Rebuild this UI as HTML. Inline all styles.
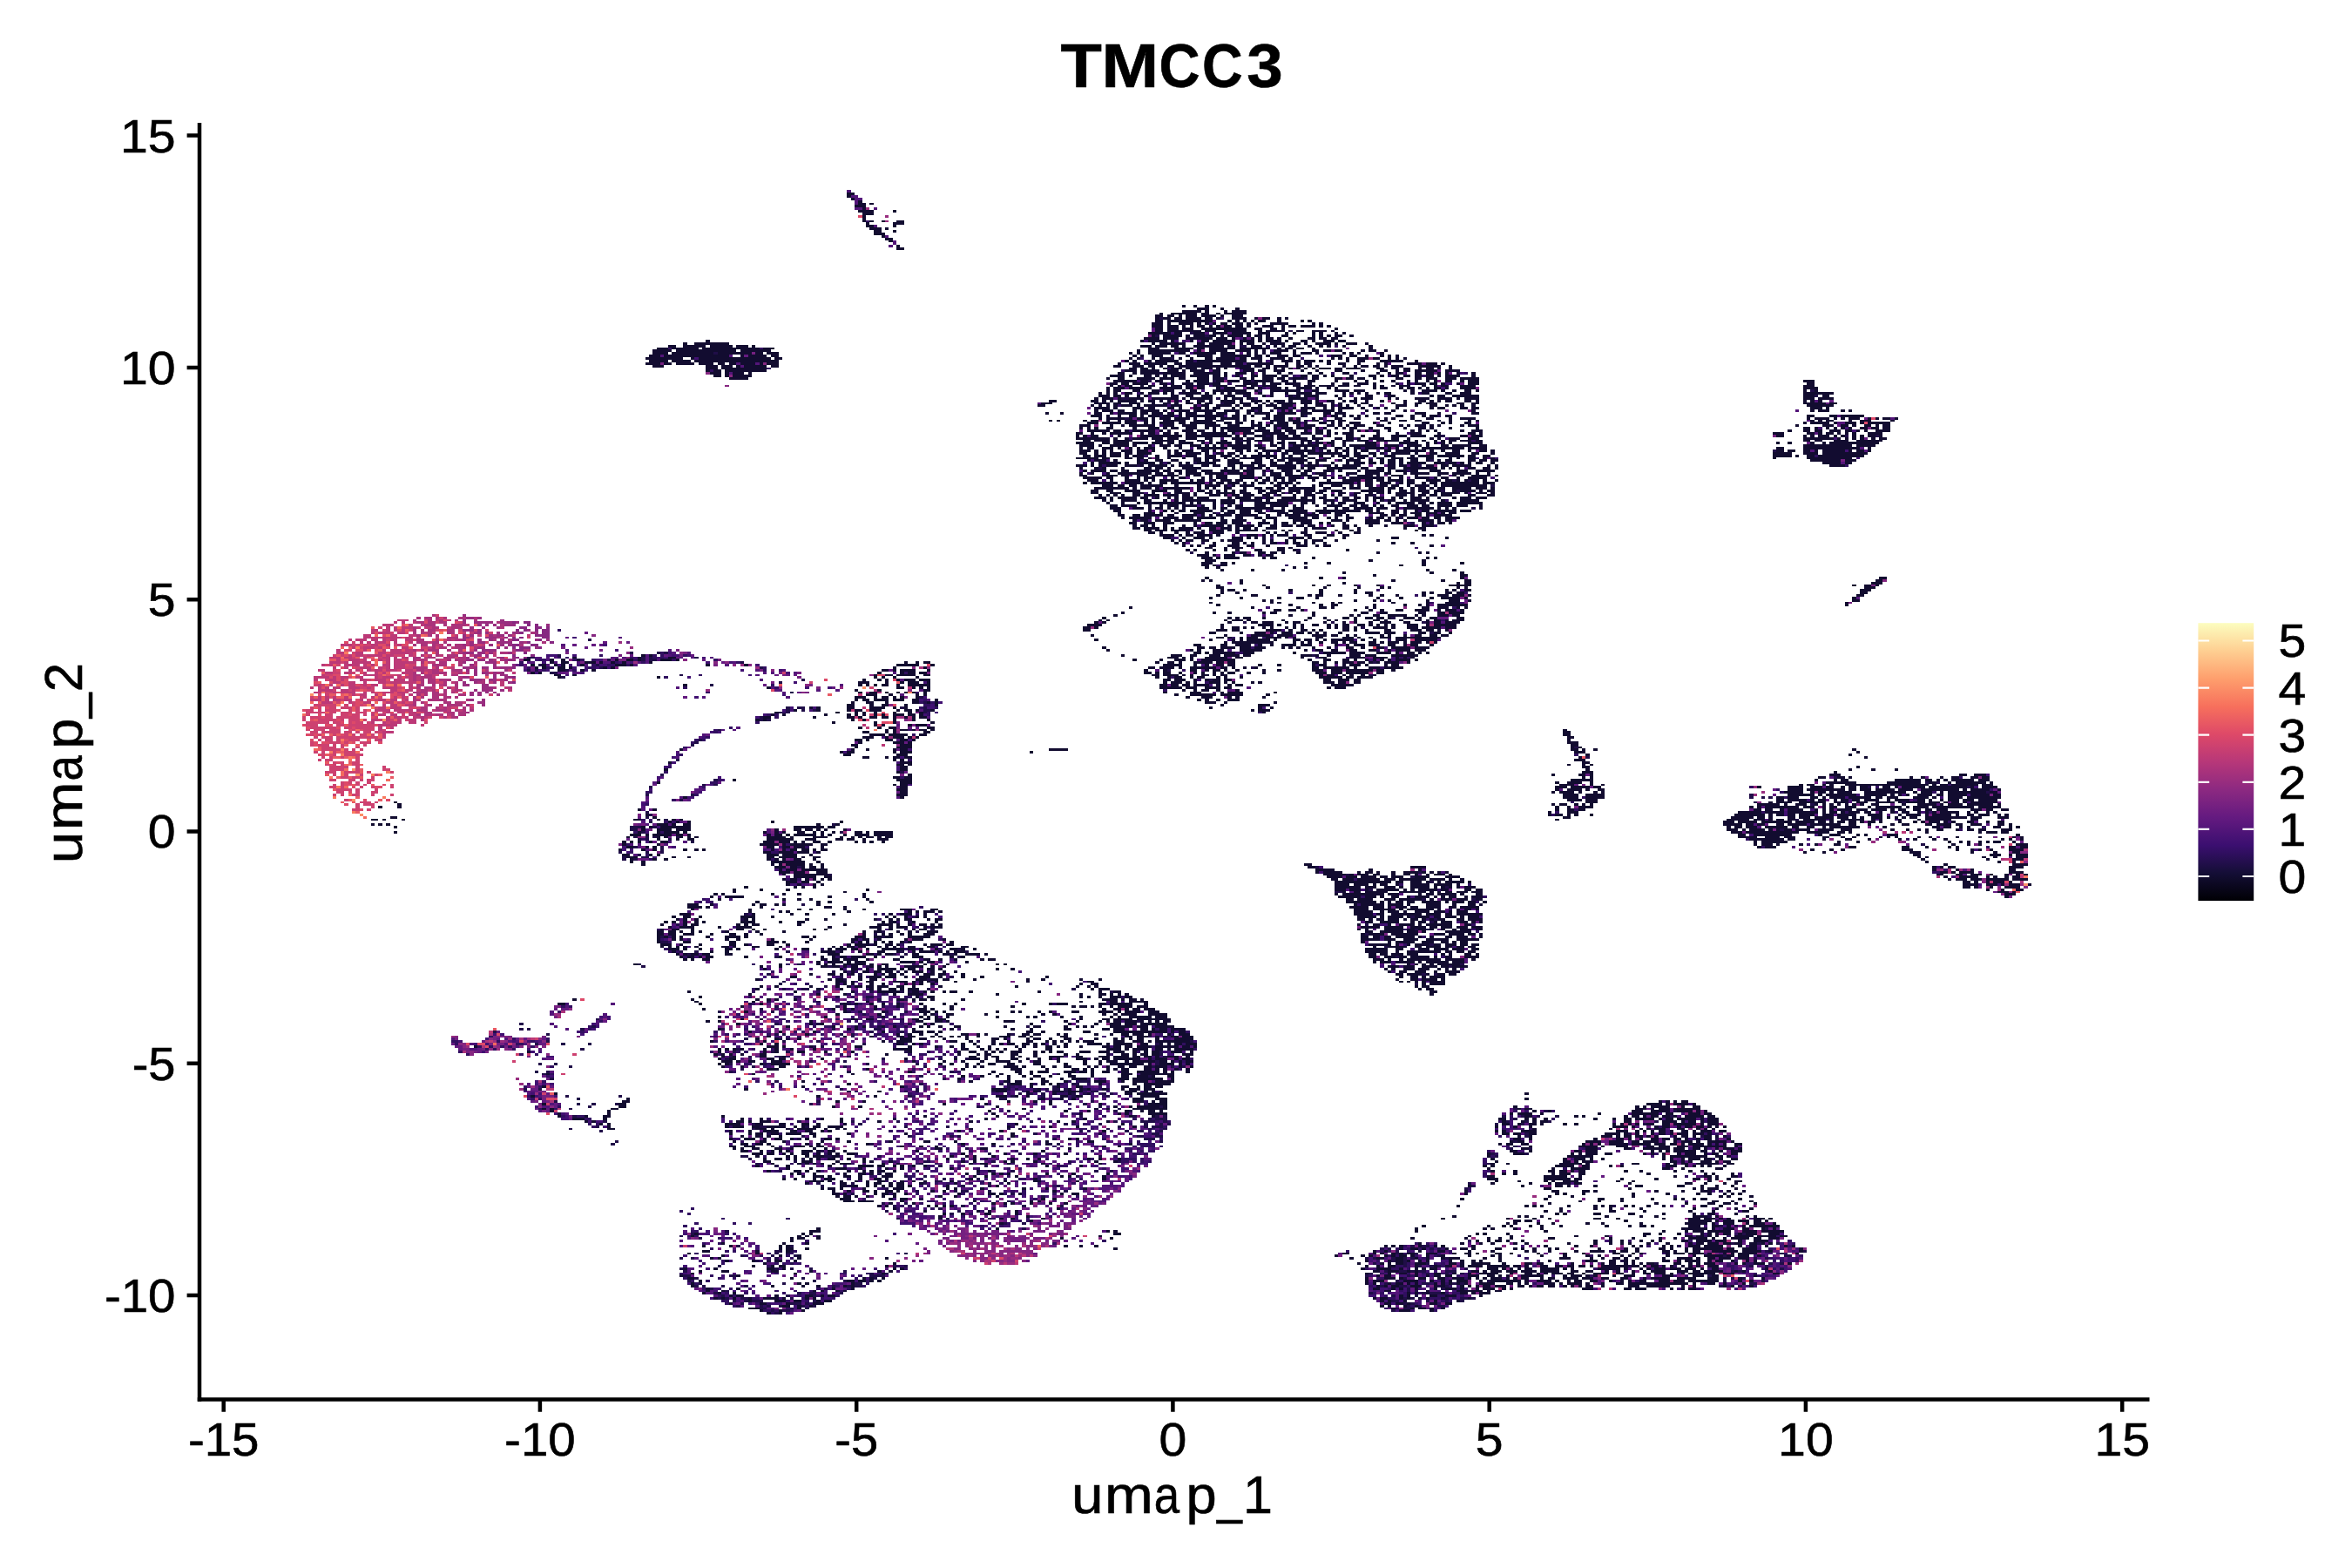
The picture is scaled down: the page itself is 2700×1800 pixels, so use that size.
<!DOCTYPE html>
<html><head><meta charset="utf-8"><title>TMCC3</title>
<style>html,body{margin:0;padding:0;background:#fff;overflow:hidden;width:2700px;height:1800px}svg{display:block}text{font-family:"Liberation Sans",sans-serif;fill:#000;stroke:#000;stroke-width:0.6px}</style>
</head><body>
<svg width="2700" height="1800" viewBox="0 0 2700 1800">
<rect width="2700" height="1800" fill="#fff"/>
<g transform="translate(229.0 142.431) scale(4.37207 2.86230)" fill="none" stroke-width="1" shape-rendering="crispEdges">
<path stroke="#120c30" d="M170 28h2M170 29h1M171 30h1M173 31h1M173 32h2M176 32h1M172 33h3M174 34h1M173 35h4M182 35h1M174 36h3M174 37h1M174 38h1M174 39h1M176 39h1M179 39h1M183 39h2M175 40h1M182 40h3M175 41h2M182 41h1M176 42h3M180 42h1M177 43h2M182 43h1M177 44h3M179 45h1M180 46h2M181 47h1M183 49h1M183 50h2M258 73h1M261 73h1M264 73h1M266 73h1M262 74h3M268 74h1M272 74h1M258 75h5M264 75h1M269 75h1M271 75h4M252 76h1M255 76h7M263 76h2M267 76h1M269 76h6M251 77h2M254 77h2M257 77h1M259 77h3M263 77h4M268 77h1M271 77h3M251 78h1M253 78h2M256 78h2M259 78h4M264 78h2M267 78h1M271 78h4M277 78h1M279 78h2M283 78h1M285 78h1M251 79h2M254 79h12M270 79h1M272 79h1M274 79h1M276 79h1M278 79h2M283 79h1M289 79h1M291 79h1M250 80h3M254 80h1M257 80h4M262 80h1M264 80h1M266 80h1M268 80h2M271 80h3M275 80h1M277 80h1M281 80h5M292 80h1M294 80h1M250 81h3M254 81h3M258 81h1M260 81h1M262 81h2M265 81h1M267 81h1M269 81h2M272 81h2M275 81h1M279 81h3M284 81h1M286 81h2M289 81h4M294 81h1M296 81h1M251 82h2M254 82h3M258 82h3M263 82h12M277 82h2M281 82h2M284 82h1M298 82h1M251 83h2M254 83h9M264 83h3M269 83h6M278 83h1M280 83h5M288 83h2M292 83h4M297 83h1M249 84h6M256 84h2M261 84h3M266 84h4M271 84h5M278 84h3M285 84h1M287 84h1M292 84h1M294 84h1M298 84h1M300 84h1M250 85h1M253 85h5M259 85h1M261 85h3M265 85h2M268 85h1M270 85h4M275 85h1M277 85h2M280 85h1M284 85h2M292 85h1M294 85h1M296 85h1M298 85h2M302 85h1M248 86h4M253 86h4M259 86h7M267 86h3M271 86h1M274 86h1M276 86h1M278 86h1M280 86h2M283 86h1M286 86h1M291 86h2M294 86h2M297 86h2M133 87h1M247 87h1M249 87h5M255 87h1M260 87h1M263 87h2M266 87h6M273 87h4M278 87h1M280 87h4M285 87h1M289 87h2M292 87h1M295 87h3M299 87h2M127 88h1M130 88h9M250 88h1M252 88h7M262 88h2M265 88h6M273 88h1M275 88h2M279 88h1M281 88h4M287 88h2M290 88h1M293 88h4M298 88h1M301 88h3M306 88h1M123 89h2M127 89h6M134 89h6M141 89h3M145 89h1M247 89h3M251 89h3M255 89h2M258 89h1M261 89h8M270 89h2M276 89h3M282 89h1M284 89h1M286 89h2M291 89h1M294 89h1M296 89h1M300 89h1M307 89h1M120 90h3M124 90h7M132 90h15M148 90h3M249 90h3M256 90h5M262 90h2M265 90h7M273 90h8M283 90h1M285 90h2M288 90h2M292 90h1M307 90h1M119 91h5M125 91h16M142 91h8M246 91h1M249 91h11M262 91h1M265 91h5M272 91h4M277 91h1M279 91h1M282 91h4M287 91h1M292 91h2M295 91h2M298 91h2M305 91h1M307 91h2M311 91h1M119 92h4M124 92h11M136 92h9M146 92h2M149 92h3M244 92h1M246 92h1M249 92h6M257 92h2M261 92h6M268 92h4M275 92h1M277 92h1M279 92h1M281 92h3M287 92h1M289 92h3M293 92h1M300 92h1M302 92h1M304 92h1M310 92h1M118 93h3M122 93h17M142 93h1M144 93h5M150 93h2M245 93h1M247 93h1M250 93h3M255 93h1M259 93h1M262 93h4M268 93h8M277 93h2M280 93h1M283 93h3M287 93h2M297 93h3M302 93h2M306 93h1M310 93h1M312 93h1M314 93h1M117 94h10M129 94h1M131 94h19M151 94h2M244 94h1M246 94h1M250 94h1M252 94h3M257 94h1M260 94h1M264 94h2M267 94h5M273 94h2M276 94h3M281 94h4M286 94h1M297 94h1M299 94h1M301 94h1M304 94h3M308 94h2M312 94h1M314 94h1M316 94h1M118 95h5M124 95h5M130 95h22M243 95h1M245 95h1M249 95h1M251 95h6M259 95h2M262 95h13M278 95h1M281 95h1M284 95h3M288 95h1M290 95h3M294 95h1M296 95h1M301 95h1M304 95h2M310 95h6M319 95h1M117 96h4M122 96h2M125 96h5M131 96h4M136 96h2M139 96h2M142 96h4M147 96h1M149 96h3M241 96h1M244 96h3M248 96h6M256 96h2M259 96h7M268 96h3M272 96h2M275 96h7M285 96h1M288 96h1M290 96h2M296 96h1M299 96h2M304 96h1M309 96h1M311 96h1M317 96h4M322 96h3M326 96h1M119 97h3M133 97h3M137 97h3M141 97h1M143 97h6M150 97h2M240 97h2M245 97h3M249 97h2M252 97h1M254 97h2M257 97h19M277 97h2M280 97h1M282 97h4M288 97h2M291 97h1M293 97h1M300 97h1M303 97h1M305 97h2M308 97h2M311 97h1M313 97h3M320 97h6M328 97h1M133 98h3M137 98h12M244 98h2M247 98h2M250 98h1M253 98h1M255 98h3M259 98h3M263 98h3M267 98h1M269 98h1M273 98h4M279 98h2M282 98h1M284 98h1M286 98h1M288 98h1M290 98h1M292 98h1M294 98h3M298 98h2M301 98h4M309 98h2M313 98h2M316 98h2M320 98h1M322 98h2M325 98h1M328 98h1M133 99h1M135 99h2M138 99h11M243 99h3M247 99h5M254 99h3M258 99h1M260 99h4M266 99h2M274 99h3M278 99h2M282 99h3M289 99h1M293 99h1M298 99h2M305 99h1M310 99h2M314 99h1M316 99h2M319 99h6M327 99h4M134 100h3M138 100h1M140 100h3M144 100h1M241 100h2M245 100h1M247 100h5M253 100h6M261 100h7M269 100h1M272 100h3M276 100h1M279 100h1M283 100h1M286 100h1M291 100h1M294 100h1M300 100h2M309 100h1M312 100h1M314 100h2M319 100h2M322 100h2M325 100h1M327 100h1M330 100h1M334 100h1M135 101h2M138 101h1M140 101h5M239 101h4M244 101h1M248 101h2M251 101h1M253 101h1M255 101h4M260 101h5M266 101h2M269 101h1M272 101h1M276 101h2M279 101h4M284 101h2M289 101h2M292 101h2M295 101h1M297 101h1M302 101h1M307 101h2M310 101h1M313 101h2M316 101h2M319 101h2M322 101h2M325 101h1M327 101h4M334 101h1M139 102h5M238 102h1M241 102h2M246 102h5M252 102h4M257 102h2M262 102h3M266 102h3M273 102h2M276 102h1M279 102h3M283 102h2M287 102h3M292 102h2M298 102h2M301 102h2M304 102h2M308 102h1M314 102h2M319 102h2M322 102h3M327 102h3M331 102h5M240 103h6M247 103h2M251 103h2M255 103h1M259 103h1M261 103h4M267 103h2M270 103h3M274 103h2M277 103h5M284 103h2M287 103h1M291 103h2M298 103h1M303 103h1M306 103h1M310 103h1M313 103h1M317 103h1M319 103h1M322 103h1M324 103h1M327 103h2M331 103h1M333 103h3M421 103h3M239 104h2M242 104h2M245 104h4M252 104h2M255 104h1M258 104h3M262 104h3M266 104h2M274 104h4M279 104h1M281 104h3M285 104h4M291 104h1M297 104h1M300 104h2M304 104h3M308 104h1M314 104h1M317 104h1M319 104h3M323 104h2M326 104h1M330 104h1M333 104h3M422 104h2M239 105h1M241 105h1M243 105h2M247 105h1M249 105h2M253 105h1M255 105h3M259 105h2M262 105h2M266 105h4M272 105h3M276 105h2M279 105h4M287 105h2M290 105h3M294 105h4M299 105h3M303 105h2M308 105h1M310 105h1M313 105h1M315 105h3M321 105h1M324 105h1M326 105h2M331 105h4M421 105h3M238 106h1M240 106h3M244 106h6M252 106h6M259 106h2M262 106h2M267 106h1M269 106h3M275 106h2M278 106h1M281 106h3M285 106h1M288 106h4M293 106h1M296 106h1M298 106h1M308 106h1M310 106h2M315 106h1M317 106h2M320 106h1M322 106h1M324 106h2M327 106h1M331 106h4M421 106h4M238 107h1M240 107h2M245 107h2M250 107h2M253 107h3M258 107h1M260 107h2M266 107h9M277 107h1M281 107h8M292 107h2M298 107h4M303 107h3M316 107h1M318 107h1M321 107h4M326 107h1M329 107h1M332 107h2M335 107h1M421 107h1M424 107h1M236 108h1M238 108h1M240 108h1M243 108h2M247 108h1M249 108h3M253 108h1M255 108h1M258 108h5M264 108h1M266 108h1M268 108h1M270 108h1M272 108h4M278 108h1M281 108h1M285 108h1M288 108h4M293 108h3M300 108h1M302 108h1M304 108h1M306 108h1M309 108h1M311 108h2M318 108h1M321 108h2M327 108h2M331 108h3M421 108h8M236 109h3M240 109h2M243 109h1M246 109h1M248 109h1M255 109h2M259 109h2M263 109h3M269 109h3M275 109h1M279 109h1M281 109h1M286 109h1M288 109h1M290 109h4M298 109h1M300 109h1M306 109h2M312 109h2M323 109h1M325 109h2M329 109h7M421 109h3M426 109h2M235 110h1M237 110h3M241 110h1M244 110h4M250 110h7M258 110h1M260 110h6M269 110h1M271 110h3M275 110h2M286 110h5M293 110h1M299 110h1M303 110h1M305 110h3M312 110h1M314 110h1M319 110h4M325 110h4M330 110h1M332 110h4M421 110h3M425 110h4M223 111h2M234 111h2M237 111h1M239 111h1M241 111h5M247 111h1M249 111h2M252 111h1M254 111h1M256 111h1M259 111h1M262 111h2M265 111h1M268 111h4M273 111h1M276 111h3M280 111h1M282 111h3M286 111h1M289 111h3M293 111h1M296 111h2M300 111h1M302 111h2M306 111h1M310 111h1M316 111h1M320 111h2M323 111h1M325 111h1M327 111h2M332 111h2M335 111h1M421 111h1M423 111h1M425 111h1M221 112h3M235 112h4M240 112h2M244 112h3M250 112h1M253 112h1M256 112h1M259 112h2M262 112h1M264 112h2M269 112h3M273 112h3M277 112h1M279 112h1M281 112h1M283 112h5M289 112h3M293 112h2M297 112h1M299 112h1M303 112h1M305 112h2M313 112h1M316 112h1M319 112h2M322 112h3M330 112h2M334 112h2M421 112h6M428 112h2M220 113h2M234 113h1M236 113h1M238 113h1M240 113h1M242 113h3M246 113h1M248 113h6M255 113h3M261 113h1M263 113h2M267 113h4M272 113h1M274 113h2M278 113h1M280 113h3M284 113h3M290 113h1M293 113h3M297 113h1M299 113h1M301 113h1M304 113h1M307 113h1M314 113h3M319 113h1M323 113h2M327 113h1M329 113h1M331 113h1M334 113h1M422 113h7M235 114h4M240 114h1M245 114h2M249 114h2M254 114h2M257 114h1M261 114h2M264 114h1M266 114h2M271 114h1M273 114h1M276 114h3M282 114h4M287 114h1M289 114h4M295 114h1M297 114h1M299 114h4M305 114h1M309 114h1M311 114h1M314 114h1M323 114h1M325 114h2M331 114h2M334 114h2M423 114h3M427 114h1M235 115h1M237 115h3M241 115h2M245 115h1M247 115h5M253 115h1M256 115h4M261 115h6M269 115h4M275 115h2M278 115h1M281 115h1M284 115h1M286 115h1M289 115h2M292 115h6M299 115h1M306 115h1M313 115h1M316 115h1M334 115h1M423 115h1M425 115h3M431 115h1M433 115h1M222 116h1M226 116h1M235 116h2M239 116h1M241 116h5M247 116h2M250 116h3M254 116h2M257 116h1M259 116h3M264 116h2M267 116h3M272 116h1M275 116h1M277 116h4M283 116h5M289 116h3M295 116h2M298 116h3M308 116h2M311 116h2M319 116h3M325 116h1M334 116h2M234 117h3M238 117h1M241 117h1M244 117h2M247 117h1M249 117h3M253 117h3M257 117h1M259 117h10M271 117h2M274 117h1M276 117h1M280 117h1M282 117h3M289 117h1M295 117h1M297 117h2M300 117h1M302 117h1M304 117h1M306 117h1M314 117h2M318 117h1M321 117h1M323 117h2M327 117h2M422 117h2M428 117h2M431 117h6M236 118h1M238 118h5M244 118h1M246 118h3M250 118h1M252 118h3M256 118h4M261 118h1M264 118h3M268 118h5M274 118h1M279 118h2M282 118h3M286 118h1M288 118h1M292 118h1M294 118h1M298 118h2M303 118h2M309 118h1M311 118h1M313 118h1M318 118h1M322 118h2M328 118h1M331 118h4M422 118h1M424 118h4M429 118h1M431 118h1M433 118h3M438 118h1M440 118h1M442 118h2M445 118h1M223 119h1M225 119h1M232 119h1M234 119h2M238 119h1M241 119h1M243 119h3M248 119h1M250 119h1M253 119h6M261 119h5M267 119h2M272 119h1M274 119h1M276 119h1M281 119h4M286 119h3M290 119h1M292 119h2M296 119h2M299 119h2M310 119h2M315 119h2M319 119h2M325 119h1M328 119h1M333 119h1M335 119h1M423 119h1M425 119h1M427 119h2M433 119h1M436 119h3M444 119h1M233 120h3M237 120h5M243 120h3M248 120h1M250 120h1M252 120h4M257 120h2M260 120h7M269 120h2M272 120h2M276 120h1M278 120h1M281 120h1M283 120h3M287 120h2M290 120h1M294 120h2M297 120h1M299 120h1M302 120h3M308 120h1M312 120h1M321 120h2M326 120h1M328 120h1M332 120h2M421 120h1M423 120h5M429 120h1M432 120h3M436 120h1M438 120h6M231 121h3M239 121h1M242 121h1M244 121h7M253 121h3M258 121h4M264 121h4M270 121h3M276 121h3M280 121h1M282 121h4M288 121h1M290 121h3M296 121h2M299 121h1M301 121h1M303 121h3M309 121h2M315 121h1M317 121h1M319 121h3M323 121h1M325 121h1M331 121h1M333 121h3M419 121h1M426 121h3M431 121h2M434 121h1M437 121h2M440 121h1M442 121h2M231 122h1M233 122h1M235 122h1M238 122h2M245 122h1M249 122h3M253 122h1M255 122h2M259 122h3M264 122h1M266 122h1M268 122h9M278 122h2M282 122h1M284 122h3M288 122h4M293 122h1M295 122h1M298 122h1M300 122h1M302 122h2M307 122h1M311 122h2M316 122h1M320 122h2M323 122h1M328 122h1M335 122h1M421 122h2M424 122h1M427 122h1M429 122h1M431 122h1M433 122h1M436 122h2M439 122h2M442 122h2M233 123h6M240 123h2M243 123h1M245 123h6M252 123h1M254 123h1M258 123h3M262 123h2M266 123h1M268 123h1M270 123h6M277 123h4M282 123h2M285 123h3M290 123h1M293 123h2M296 123h1M302 123h1M304 123h1M306 123h1M308 123h2M312 123h1M318 123h1M320 123h1M322 123h1M324 123h1M331 123h1M334 123h3M417 123h1M421 123h2M424 123h2M428 123h3M432 123h2M435 123h1M437 123h1M440 123h4M230 124h2M234 124h1M237 124h1M239 124h6M247 124h1M249 124h2M253 124h2M256 124h1M259 124h3M263 124h7M271 124h1M274 124h3M279 124h6M286 124h2M289 124h3M293 124h2M296 124h1M298 124h1M300 124h3M309 124h1M314 124h1M318 124h3M325 124h1M333 124h2M336 124h1M413 124h3M422 124h2M425 124h1M427 124h2M430 124h1M432 124h1M434 124h1M438 124h4M230 125h1M232 125h1M234 125h2M241 125h1M247 125h11M259 125h12M272 125h1M274 125h1M277 125h3M281 125h1M283 125h3M287 125h2M292 125h1M296 125h1M301 125h2M305 125h1M308 125h2M313 125h4M318 125h4M324 125h2M331 125h2M334 125h3M414 125h2M421 125h1M423 125h1M425 125h3M429 125h1M431 125h1M434 125h1M436 125h1M438 125h2M441 125h1M230 126h9M240 126h1M243 126h1M245 126h4M250 126h3M254 126h3M259 126h3M264 126h2M271 126h3M275 126h2M279 126h3M283 126h8M292 126h3M298 126h2M301 126h2M304 126h1M307 126h4M313 126h2M317 126h1M323 126h1M325 126h1M328 126h3M333 126h3M421 126h8M430 126h1M432 126h1M434 126h1M436 126h1M439 126h1M441 126h2M232 127h2M235 127h4M240 127h5M251 127h5M257 127h2M262 127h2M265 127h1M268 127h2M272 127h1M274 127h2M277 127h5M284 127h1M289 127h3M293 127h1M297 127h1M300 127h3M304 127h3M309 127h6M316 127h2M319 127h1M321 127h1M324 127h1M326 127h1M328 127h2M331 127h3M335 127h2M421 127h2M424 127h2M429 127h4M435 127h7M230 128h5M237 128h2M240 128h4M245 128h4M250 128h3M254 128h2M257 128h4M263 128h1M265 128h1M267 128h4M272 128h2M275 128h1M281 128h1M283 128h2M286 128h2M289 128h1M291 128h1M293 128h2M296 128h2M300 128h1M306 128h3M315 128h5M322 128h1M324 128h1M326 128h1M328 128h1M333 128h4M414 128h1M417 128h1M423 128h1M426 128h1M428 128h13M231 129h4M236 129h1M239 129h5M245 129h1M249 129h1M252 129h3M256 129h2M260 129h3M264 129h1M266 129h1M268 129h1M270 129h6M277 129h2M281 129h2M284 129h1M287 129h7M295 129h1M297 129h1M300 129h1M302 129h7M311 129h4M317 129h4M322 129h1M326 129h2M329 129h5M336 129h2M421 129h13M435 129h5M231 130h1M233 130h2M237 130h3M241 130h1M244 130h1M246 130h1M248 130h3M253 130h1M257 130h1M262 130h8M271 130h5M278 130h2M283 130h2M286 130h3M290 130h1M292 130h1M294 130h2M298 130h2M301 130h1M303 130h2M306 130h5M312 130h1M314 130h1M316 130h2M319 130h1M321 130h11M333 130h5M414 130h2M421 130h15M438 130h1M231 131h3M235 131h1M237 131h1M239 131h1M242 131h3M246 131h3M250 131h1M254 131h1M256 131h1M258 131h3M263 131h2M266 131h1M272 131h2M275 131h1M277 131h1M279 131h5M285 131h8M296 131h1M298 131h1M300 131h2M303 131h1M305 131h2M311 131h2M314 131h8M323 131h1M326 131h1M329 131h2M333 131h1M336 131h2M339 131h1M414 131h2M417 131h2M421 131h2M424 131h1M426 131h6M433 131h1M435 131h2M438 131h1M231 132h2M235 132h1M237 132h1M239 132h3M243 132h2M246 132h4M254 132h1M256 132h2M259 132h4M264 132h1M267 132h2M270 132h2M273 132h1M278 132h1M280 132h1M284 132h2M287 132h3M291 132h9M301 132h1M303 132h2M307 132h2M310 132h1M313 132h5M319 132h1M323 132h2M327 132h4M334 132h2M339 132h1M413 132h5M421 132h4M426 132h12M232 133h2M235 133h3M239 133h3M243 133h1M245 133h3M251 133h1M254 133h4M259 133h3M264 133h3M268 133h3M272 133h1M274 133h1M276 133h7M284 133h1M286 133h1M289 133h2M294 133h1M297 133h1M299 133h3M303 133h4M308 133h1M311 133h3M318 133h1M320 133h4M325 133h7M333 133h2M337 133h2M413 133h5M419 133h1M422 133h2M425 133h12M230 134h6M237 134h2M243 134h2M246 134h2M249 134h1M251 134h1M254 134h1M258 134h1M261 134h2M264 134h3M269 134h1M271 134h1M273 134h6M280 134h1M282 134h1M284 134h6M291 134h2M295 134h2M300 134h1M302 134h1M304 134h2M309 134h2M313 134h3M317 134h3M322 134h2M328 134h1M330 134h1M333 134h2M337 134h1M339 134h1M413 134h1M422 134h12M233 135h1M235 135h3M240 135h1M246 135h1M248 135h1M251 135h2M255 135h2M261 135h2M264 135h1M266 135h2M270 135h3M277 135h2M281 135h1M283 135h2M286 135h5M293 135h3M299 135h1M301 135h4M307 135h1M310 135h1M312 135h2M315 135h1M318 135h2M322 135h1M325 135h1M327 135h2M333 135h2M336 135h2M339 135h2M423 135h8M432 135h3M234 136h1M236 136h6M243 136h1M246 136h5M252 136h1M254 136h1M257 136h1M259 136h1M262 136h5M270 136h4M276 136h3M281 136h2M285 136h2M288 136h2M291 136h1M293 136h1M297 136h1M301 136h1M303 136h3M307 136h2M310 136h1M312 136h2M315 136h1M317 136h5M324 136h3M328 136h2M331 136h1M333 136h1M335 136h2M339 136h1M426 136h5M432 136h2M230 137h3M234 137h1M236 137h1M238 137h3M243 137h3M247 137h1M249 137h5M255 137h1M257 137h4M263 137h2M266 137h2M270 137h2M273 137h4M278 137h2M281 137h7M290 137h4M295 137h2M298 137h1M300 137h5M312 137h2M315 137h2M318 137h2M322 137h2M326 137h2M329 137h5M338 137h1M340 137h1M428 137h4M231 138h1M235 138h1M237 138h1M242 138h1M248 138h2M251 138h2M254 138h1M258 138h5M269 138h1M271 138h1M273 138h1M276 138h3M280 138h1M283 138h5M289 138h1M291 138h2M296 138h8M305 138h2M309 138h2M312 138h2M316 138h9M326 138h1M328 138h1M330 138h1M333 138h2M337 138h2M340 138h1M232 139h1M234 139h4M239 139h2M242 139h2M246 139h6M253 139h2M256 139h2M259 139h3M263 139h3M268 139h5M274 139h3M279 139h1M281 139h1M284 139h3M288 139h1M290 139h2M295 139h3M299 139h1M304 139h1M306 139h5M312 139h1M314 139h3M318 139h2M323 139h3M330 139h3M335 139h5M231 140h1M234 140h1M238 140h1M241 140h9M251 140h2M254 140h2M257 140h1M259 140h4M264 140h5M270 140h4M275 140h2M281 140h3M285 140h2M289 140h2M293 140h3M301 140h3M306 140h4M311 140h2M316 140h1M318 140h5M325 140h3M329 140h5M335 140h1M338 140h1M231 141h2M237 141h4M242 141h2M246 141h3M250 141h7M259 141h1M261 141h2M265 141h1M267 141h3M273 141h4M279 141h1M281 141h3M285 141h7M294 141h2M299 141h1M304 141h4M309 141h1M313 141h3M319 141h1M325 141h1M329 141h1M331 141h1M334 141h5M340 141h1M232 142h5M238 142h2M243 142h1M246 142h1M248 142h3M255 142h1M257 142h2M263 142h1M265 142h1M267 142h3M273 142h4M278 142h1M280 142h1M282 142h3M286 142h3M291 142h3M295 142h1M297 142h1M300 142h1M302 142h9M312 142h1M315 142h1M319 142h4M324 142h1M326 142h2M330 142h1M333 142h5M233 143h3M239 143h1M243 143h4M248 143h1M250 143h1M252 143h5M260 143h1M262 143h2M266 143h1M268 143h3M272 143h2M277 143h1M279 143h2M282 143h1M284 143h1M286 143h2M292 143h1M296 143h1M300 143h5M306 143h2M309 143h2M312 143h4M317 143h2M322 143h4M327 143h2M330 143h1M332 143h1M334 143h2M337 143h1M340 143h1M232 144h1M234 144h7M243 144h5M249 144h1M252 144h2M255 144h9M265 144h1M267 144h2M270 144h3M274 144h1M276 144h1M278 144h2M281 144h1M283 144h4M288 144h1M294 144h9M304 144h1M306 144h2M310 144h3M315 144h1M317 144h2M321 144h1M323 144h2M326 144h10M337 144h3M237 145h3M241 145h2M244 145h2M247 145h6M256 145h1M262 145h1M264 145h4M269 145h1M271 145h1M273 145h4M282 145h2M285 145h1M287 145h1M292 145h1M294 145h1M297 145h3M302 145h1M304 145h1M306 145h2M310 145h2M313 145h2M317 145h1M319 145h4M324 145h1M326 145h12M235 146h9M245 146h1M247 146h3M251 146h1M253 146h7M262 146h1M264 146h1M266 146h1M269 146h2M274 146h1M277 146h2M280 146h2M283 146h2M286 146h7M295 146h2M300 146h1M302 146h3M307 146h4M312 146h2M315 146h1M318 146h1M320 146h2M323 146h1M325 146h2M329 146h5M335 146h3M339 146h1M234 147h2M238 147h2M243 147h4M250 147h4M256 147h2M262 147h2M265 147h1M267 147h1M269 147h1M271 147h1M273 147h2M278 147h2M281 147h3M286 147h3M290 147h3M294 147h2M297 147h3M305 147h6M312 147h1M315 147h2M318 147h1M320 147h3M324 147h2M329 147h1M331 147h4M336 147h1M338 147h2M234 148h2M239 148h3M245 148h3M250 148h1M256 148h4M261 148h1M264 148h2M267 148h5M273 148h3M278 148h1M280 148h3M284 148h1M286 148h1M288 148h1M290 148h2M293 148h2M299 148h2M303 148h2M307 148h1M309 148h2M312 148h1M314 148h5M321 148h2M324 148h1M326 148h5M332 148h1M335 148h3M339 148h1M236 149h1M238 149h1M240 149h1M242 149h1M245 149h2M248 149h4M253 149h4M258 149h2M261 149h1M265 149h3M269 149h1M271 149h2M274 149h3M279 149h2M283 149h1M287 149h1M290 149h3M295 149h1M297 149h1M299 149h1M303 149h1M306 149h2M314 149h3M318 149h1M320 149h2M323 149h2M326 149h3M333 149h2M338 149h2M235 150h3M239 150h1M241 150h5M247 150h2M251 150h1M254 150h1M256 150h1M258 150h3M262 150h3M270 150h1M272 150h4M277 150h2M280 150h2M284 150h4M289 150h2M292 150h1M294 150h2M298 150h1M300 150h2M303 150h2M306 150h1M308 150h3M313 150h1M315 150h1M318 150h3M322 150h1M325 150h1M329 150h1M331 150h3M335 150h3M237 151h1M239 151h1M242 151h4M248 151h2M253 151h1M256 151h1M258 151h9M268 151h4M273 151h6M280 151h1M283 151h10M295 151h3M300 151h4M306 151h1M308 151h1M310 151h1M312 151h2M316 151h1M318 151h5M326 151h1M331 151h5M238 152h1M242 152h1M246 152h1M248 152h11M260 152h1M262 152h1M266 152h1M268 152h4M277 152h9M289 152h2M292 152h1M295 152h1M297 152h1M299 152h2M303 152h3M309 152h1M312 152h1M314 152h5M320 152h2M323 152h1M325 152h4M330 152h7M239 153h2M242 153h4M249 153h1M252 153h1M254 153h3M258 153h4M263 153h1M266 153h1M270 153h1M272 153h2M277 153h3M281 153h5M287 153h1M289 153h1M293 153h1M296 153h4M302 153h2M305 153h2M308 153h1M310 153h1M313 153h2M317 153h3M321 153h2M325 153h4M330 153h3M336 153h1M239 154h3M245 154h3M249 154h1M251 154h2M254 154h1M256 154h1M258 154h1M262 154h3M266 154h1M268 154h2M272 154h10M284 154h1M287 154h3M295 154h1M298 154h1M300 154h2M303 154h5M309 154h3M314 154h1M316 154h8M325 154h1M327 154h1M329 154h1M336 154h1M240 155h2M249 155h1M253 155h1M255 155h1M257 155h2M260 155h6M268 155h1M270 155h2M273 155h3M277 155h2M281 155h4M286 155h5M293 155h12M306 155h2M309 155h1M313 155h2M316 155h1M319 155h1M321 155h2M324 155h6M331 155h3M241 156h1M248 156h3M252 156h1M256 156h1M261 156h3M266 156h1M269 156h3M273 156h3M278 156h2M283 156h3M287 156h4M292 156h1M294 156h3M298 156h3M307 156h4M313 156h2M316 156h1M318 156h3M322 156h3M326 156h1M328 156h2M241 157h2M245 157h2M248 157h5M254 157h2M258 157h4M263 157h1M265 157h1M267 157h4M272 157h6M280 157h1M283 157h1M285 157h4M290 157h4M298 157h2M301 157h1M310 157h2M313 157h1M315 157h2M319 157h2M322 157h1M324 157h5M242 158h1M244 158h6M253 158h4M258 158h3M262 158h5M268 158h1M272 158h2M277 158h2M280 158h3M286 158h5M292 158h2M296 158h1M298 158h1M301 158h2M307 158h1M309 158h2M312 158h1M314 158h1M317 158h3M321 158h2M324 158h2M327 158h4M245 159h1M247 159h2M251 159h4M256 159h7M268 159h2M271 159h4M279 159h1M282 159h1M287 159h5M297 159h3M301 159h1M306 159h4M311 159h2M314 159h1M316 159h1M320 159h4M325 159h1M327 159h2M244 160h2M248 160h3M253 160h3M261 160h1M264 160h2M267 160h3M271 160h3M278 160h3M282 160h1M284 160h2M287 160h1M289 160h3M294 160h1M296 160h1M300 160h1M306 160h4M313 160h3M321 160h1M323 160h1M325 160h2M328 160h1M245 161h1M247 161h2M250 161h1M253 161h1M258 161h1M261 161h1M263 161h6M270 161h1M272 161h5M278 161h1M281 161h2M284 161h3M288 161h2M291 161h2M297 161h1M300 161h2M303 161h1M307 161h1M311 161h1M316 161h3M321 161h3M245 162h2M248 162h4M253 162h1M255 162h1M257 162h4M262 162h1M265 162h2M268 162h3M272 162h1M274 162h2M277 162h1M280 162h3M290 162h1M292 162h4M300 162h2M304 162h1M316 162h1M320 162h2M248 163h2M251 163h3M255 163h5M263 163h1M265 163h4M270 163h1M272 163h6M279 163h1M284 163h1M286 163h1M290 163h1M298 163h1M302 163h1M304 163h1M319 163h1M321 163h1M249 164h2M252 164h1M256 164h1M259 164h1M261 164h3M266 164h3M272 164h1M280 164h1M282 164h1M285 164h1M289 164h2M293 164h3M299 164h1M303 164h2M252 165h4M257 165h1M259 165h2M262 165h4M267 165h1M275 165h3M279 165h1M281 165h1M283 165h3M290 165h2M296 165h2M300 165h2M321 165h1M323 165h1M253 166h2M258 166h1M261 166h3M265 166h1M271 166h3M275 166h1M277 166h1M279 166h1M286 166h4M291 166h1M295 166h1M300 166h1M313 166h2M327 166h1M255 167h1M257 167h1M259 167h2M263 167h2M268 167h1M270 167h4M279 167h1M281 167h1M285 167h1M287 167h1M290 167h1M292 167h3M298 167h1M309 167h1M256 168h1M258 168h1M266 168h1M271 168h2M274 168h1M276 168h1M279 168h1M281 168h2M285 168h1M287 168h2M290 168h1M292 168h1M295 168h1M313 168h1M318 168h1M258 169h1M260 169h1M262 169h1M265 169h2M270 169h3M275 169h2M280 169h1M288 169h3M293 169h1M295 169h2M323 169h1M264 170h2M269 170h1M271 170h3M283 170h2M286 170h1M259 171h1M261 171h1M266 171h1M269 171h1M272 171h1M277 171h2M283 171h2M287 171h1M301 171h1M264 172h1M271 172h1M273 172h2M278 172h2M281 172h2M284 172h1M288 172h1M309 172h1M320 172h1M322 172h1M262 173h3M266 173h1M269 173h3M274 173h2M278 173h1M280 173h2M263 174h3M267 174h1M269 174h4M279 174h1M281 174h2M292 174h1M322 174h1M324 174h1M264 175h3M307 175h1M321 175h1M263 176h3M268 176h2M271 176h1M290 176h1M296 176h1M321 176h1M331 176h1M263 177h2M266 177h1M268 177h2M315 177h1M321 177h1M264 178h1M267 178h1M287 178h1M290 178h1M268 179h1M276 179h1M284 179h1M322 179h1M329 179h1M300 180h1M323 180h1M331 180h1M308 181h1M331 181h2M264 182h1M294 182h1M300 182h1M331 182h1M441 182h2M263 183h1M265 183h1M273 183h1M313 183h1M326 183h1M332 183h2M440 183h2M273 184h1M300 184h1M330 184h1M332 184h2M439 184h3M267 185h1M279 185h1M292 185h1M296 185h1M303 185h1M309 185h1M328 185h6M434 185h1M437 185h2M440 185h1M267 186h2M280 186h1M295 186h1M304 186h1M310 186h1M312 186h1M330 186h1M332 186h1M437 186h3M268 187h1M270 187h2M274 187h1M286 187h1M294 187h1M303 187h1M327 187h1M329 187h1M332 187h2M436 187h3M268 188h1M272 188h1M294 188h1M303 188h1M306 188h2M321 188h1M323 188h1M327 188h2M330 188h2M436 188h2M267 189h1M276 189h2M291 189h1M293 189h2M299 189h1M307 189h1M310 189h1M314 189h1M321 189h1M325 189h3M329 189h3M333 189h1M435 189h2M265 190h1M273 190h1M283 190h1M288 190h2M293 190h1M309 190h1M315 190h1M323 190h1M326 190h5M332 190h1M434 190h1M279 191h1M281 191h1M303 191h1M308 191h1M312 191h1M322 191h1M328 191h3M333 191h1M434 191h2M265 192h1M281 192h1M283 192h1M292 192h1M297 192h1M299 192h1M313 192h1M322 192h1M327 192h4M432 192h1M267 193h1M286 193h1M294 193h1M297 193h2M308 193h1M316 193h1M320 193h1M322 193h1M325 193h8M432 193h1M244 194h1M276 194h1M288 194h1M294 194h2M297 194h1M306 194h1M308 194h1M321 194h2M325 194h3M330 194h1M332 194h1M282 195h2M286 195h2M289 195h1M303 195h1M307 195h1M310 195h1M314 195h2M319 195h4M325 195h1M327 195h3M331 195h1M242 196h1M266 196h1M270 196h1M279 196h1M281 196h2M292 196h1M305 196h2M310 196h2M320 196h2M325 196h2M328 196h4M240 197h1M286 197h1M292 197h1M302 197h1M304 197h1M308 197h2M312 197h5M319 197h1M321 197h1M325 197h3M329 197h2M237 198h1M270 198h1M272 198h1M274 198h2M279 198h1M291 198h1M295 198h1M300 198h2M303 198h1M306 198h2M309 198h2M312 198h1M316 198h3M320 198h1M323 198h2M330 198h2M236 199h1M238 199h1M269 199h1M271 199h3M275 199h1M284 199h1M290 199h1M296 199h1M298 199h1M303 199h1M308 199h2M311 199h1M315 199h1M319 199h2M322 199h1M324 199h2M327 199h1M329 199h3M235 200h1M237 200h1M270 200h1M276 200h2M279 200h3M285 200h1M287 200h2M295 200h1M300 200h1M303 200h1M307 200h1M310 200h3M316 200h2M322 200h1M324 200h2M327 200h4M233 201h4M268 201h1M278 201h4M283 201h1M287 201h1M289 201h1M292 201h2M296 201h1M298 201h1M300 201h2M304 201h2M307 201h1M309 201h1M311 201h1M313 201h1M317 201h3M322 201h1M324 201h6M232 202h2M235 202h1M268 202h1M271 202h2M274 202h1M276 202h1M279 202h1M281 202h1M285 202h1M287 202h1M289 202h1M296 202h1M298 202h1M300 202h2M303 202h1M308 202h4M313 202h1M317 202h3M321 202h5M327 202h3M232 203h2M267 203h3M271 203h2M280 203h4M286 203h1M289 203h2M292 203h1M294 203h1M300 203h2M303 203h1M306 203h1M311 203h2M318 203h3M322 203h2M325 203h1M327 203h1M265 204h2M273 204h1M277 204h3M281 204h1M284 204h3M288 204h2M291 204h1M293 204h1M295 204h1M299 204h1M306 204h4M311 204h3M320 204h2M324 204h2M328 204h1M234 205h1M269 205h1M276 205h5M283 205h4M292 205h4M297 205h2M301 205h1M303 205h1M310 205h1M312 205h1M316 205h1M319 205h2M323 205h2M326 205h2M267 206h2M270 206h1M273 206h1M275 206h3M280 206h4M285 206h1M287 206h1M293 206h2M300 206h3M304 206h1M307 206h1M310 206h3M314 206h12M235 207h1M265 207h1M271 207h1M273 207h1M275 207h6M282 207h1M287 207h2M290 207h2M293 207h1M295 207h1M297 207h6M305 207h1M308 207h1M314 207h3M319 207h6M269 208h1M271 208h11M287 208h1M289 208h1M291 208h1M294 208h1M297 208h2M300 208h1M302 208h2M307 208h2M310 208h1M312 208h3M316 208h1M318 208h3M322 208h1M324 208h1M261 209h2M268 209h2M272 209h4M278 209h1M281 209h1M284 209h4M289 209h3M298 209h1M301 209h1M303 209h3M307 209h2M312 209h2M316 209h1M318 209h2M323 209h1M237 210h1M262 210h2M265 210h2M268 210h4M273 210h3M277 210h3M284 210h1M286 210h1M288 210h1M292 210h1M296 210h1M301 210h2M305 210h1M309 210h2M313 210h5M319 210h4M238 211h1M260 211h1M262 211h1M266 211h3M273 211h6M290 211h1M293 211h2M297 211h2M302 211h2M307 211h2M312 211h1M314 211h4M319 211h3M261 212h2M264 212h1M266 212h6M274 212h3M287 212h1M295 212h6M302 212h4M309 212h4M314 212h1M317 212h2M320 212h1M322 212h1M116 213h1M118 213h1M242 213h1M255 213h3M260 213h2M265 213h3M269 213h4M274 213h2M289 213h3M293 213h1M296 213h1M302 213h3M306 213h3M313 213h7M98 214h1M115 214h1M123 214h2M254 214h3M258 214h1M260 214h1M264 214h6M272 214h2M289 214h1M294 214h2M302 214h4M308 214h4M314 214h1M316 214h1M318 214h1M85 215h2M92 215h1M95 215h1M99 215h1M109 215h1M112 215h2M115 215h1M121 215h3M125 215h1M245 215h1M252 215h1M256 215h3M260 215h1M263 215h9M291 215h1M295 215h2M300 215h2M303 215h1M306 215h1M308 215h1M310 215h1M312 215h1M314 215h4M319 215h1M92 216h1M95 216h2M101 216h3M105 216h1M108 216h1M111 216h1M118 216h1M185 216h1M188 216h1M190 216h2M251 216h1M254 216h2M257 216h1M261 216h5M267 216h2M270 216h2M292 216h2M295 216h1M298 216h1M300 216h3M304 216h2M307 216h1M309 216h1M311 216h4M317 216h1M87 217h1M90 217h1M93 217h1M95 217h1M100 217h1M109 217h3M113 217h1M133 217h1M143 217h1M183 217h6M192 217h1M253 217h5M261 217h1M264 217h1M267 217h2M270 217h2M278 217h1M283 217h1M292 217h1M294 217h2M300 217h1M302 217h3M306 217h1M311 217h1M313 217h2M88 218h1M90 218h1M94 218h2M97 218h1M106 218h1M108 218h1M182 218h1M190 218h1M249 218h2M252 218h4M257 218h1M260 218h7M268 218h2M271 218h1M274 218h1M277 218h1M292 218h2M295 218h7M303 218h1M307 218h3M311 218h5M94 219h2M100 219h1M103 219h1M179 219h2M182 219h1M184 219h4M191 219h1M248 219h1M253 219h1M260 219h2M264 219h1M266 219h2M269 219h1M272 219h1M279 219h1M283 219h1M292 219h3M297 219h3M301 219h7M309 219h2M313 219h1M87 220h1M89 220h1M178 220h1M184 220h1M186 220h2M189 220h2M248 220h2M251 220h1M253 220h2M257 220h1M261 220h1M263 220h1M266 220h1M268 220h1M270 220h2M275 220h1M279 220h1M293 220h3M297 220h3M301 220h6M309 220h2M93 221h2M98 221h1M177 221h1M180 221h2M183 221h5M190 221h2M250 221h2M253 221h4M258 221h1M260 221h1M263 221h2M266 221h1M268 221h2M294 221h1M296 221h2M300 221h1M302 221h1M305 221h1M308 221h1M94 222h1M120 222h1M177 222h1M179 222h1M182 222h1M188 222h1M251 222h1M254 222h1M256 222h2M260 222h1M262 222h2M267 222h1M269 222h1M273 222h1M294 222h6M301 222h2M304 222h4M174 223h1M178 223h1M180 223h1M183 223h1M185 223h3M189 223h3M253 223h2M256 223h3M261 223h1M264 223h1M266 223h2M269 223h2M295 223h2M299 223h3M303 223h2M173 224h3M180 224h1M184 224h1M186 224h3M191 224h1M253 224h1M255 224h3M259 224h1M261 224h1M265 224h3M269 224h1M271 224h1M276 224h1M278 224h1M295 224h3M299 224h2M303 224h2M127 225h1M173 225h1M175 225h1M177 225h1M179 225h2M183 225h1M186 225h6M252 225h2M255 225h2M258 225h2M261 225h4M267 225h1M270 225h1M272 225h2M297 225h6M149 226h1M183 226h2M187 226h1M189 226h1M191 226h1M252 226h6M259 226h3M264 226h4M269 226h2M296 226h1M298 226h3M172 227h1M178 227h1M190 227h2M258 227h1M261 227h1M263 227h2M267 227h1M272 227h1M173 228h1M176 228h2M180 228h1M183 228h1M185 228h1M187 228h1M190 228h1M253 228h1M260 228h3M268 228h1M270 228h4M282 228h1M175 229h3M181 229h1M188 229h1M190 229h1M256 229h1M260 229h7M268 229h6M280 229h1M172 230h3M177 230h1M179 230h2M182 230h1M184 230h1M188 230h1M259 230h1M263 230h3M270 230h1M272 230h1M279 230h1M172 231h1M174 231h2M177 231h4M182 231h3M187 231h2M193 231h1M262 231h1M264 231h1M267 231h1M270 231h3M171 232h1M175 232h2M180 232h1M187 232h2M191 232h1M193 232h1M264 232h3M269 232h1M282 232h1M170 233h2M176 233h1M179 233h2M185 233h1M193 233h1M268 233h1M278 233h3M160 234h1M162 234h1M170 234h2M176 234h4M182 234h1M185 234h1M265 234h1M278 234h1M281 234h1M156 235h1M162 235h1M170 235h1M172 235h2M176 235h3M183 235h1M185 235h2M188 235h1M192 235h1M276 235h1M278 235h3M151 236h1M167 236h1M172 236h1M174 236h1M177 236h1M182 236h1M186 236h1M189 236h1M279 236h1M150 237h1M153 237h1M164 237h1M170 237h1M172 237h1M174 237h1M177 237h1M179 237h1M182 237h3M186 237h2M189 237h1M148 238h2M161 238h1M170 238h2M173 238h1M176 238h2M179 238h2M182 238h1M185 238h1M187 238h1M189 238h2M146 239h1M148 239h1M171 239h1M174 239h1M182 239h1M187 239h1M191 239h1M166 240h1M177 240h1M182 240h1M192 240h1M177 241h1M179 241h1M186 241h1M188 241h3M173 242h1M178 242h1M181 242h2M191 242h2M180 243h1M182 243h1M184 243h2M187 243h1M189 243h2M192 243h1M358 243h1M174 244h2M180 244h1M182 244h1M190 244h2M358 244h2M176 245h4M181 245h5M189 245h2M358 245h2M174 246h3M180 246h1M182 246h3M186 246h1M188 246h1M359 246h2M172 247h2M175 247h1M180 247h2M184 247h2M187 247h1M359 247h1M173 248h1M182 248h3M186 248h1M359 248h3M171 249h2M184 249h3M360 249h2M172 250h1M183 250h4M360 250h1M362 250h1M126 251h1M171 251h1M175 251h1M182 251h1M184 251h2M223 251h5M360 251h2M363 251h1M366 251h1M434 251h1M168 252h1M170 252h2M182 252h1M184 252h3M218 252h1M361 252h3M435 252h1M169 253h2M183 253h3M364 253h1M433 253h1M174 254h2M180 254h1M182 254h2M185 254h2M362 254h1M437 254h1M182 255h1M184 255h1M361 255h3M123 256h1M184 256h3M363 256h2M183 257h2M186 257h1M359 257h1M363 257h1M365 257h1M184 258h2M363 258h2M435 258h1M122 259h1M184 259h2M364 259h1M433 259h1M439 259h1M445 259h1M183 260h1M363 260h3M429 260h1M186 261h1M355 261h1M362 261h2M365 261h1M428 261h3M462 261h2M466 261h3M182 262h2M185 262h2M363 262h1M365 262h1M425 262h2M430 262h2M433 262h1M449 262h1M452 262h1M457 262h1M460 262h2M465 262h2M468 262h2M140 263h1M183 263h4M360 263h6M424 263h1M429 263h1M431 263h2M445 263h7M453 263h2M456 263h1M458 263h1M460 263h6M467 263h3M120 264h1M184 264h3M356 264h1M359 264h4M365 264h1M427 264h8M443 264h9M454 264h2M459 264h1M461 264h8M470 264h1M182 265h1M184 265h2M357 265h4M365 265h1M368 265h1M420 265h1M422 265h2M426 265h1M428 265h1M432 265h22M455 265h1M457 265h2M460 265h7M468 265h3M184 266h2M356 266h3M360 266h5M366 266h2M409 266h1M417 266h4M423 266h3M427 266h2M431 266h1M433 266h2M436 266h2M442 266h2M445 266h1M447 266h6M454 266h10M465 266h1M468 266h4M183 267h3M356 267h1M359 267h4M364 267h1M367 267h2M417 267h4M422 267h10M433 267h2M436 267h3M440 267h5M446 267h4M452 267h10M463 267h1M465 267h5M472 267h1M184 268h2M355 268h1M357 268h4M362 268h1M366 268h1M368 268h1M416 268h5M423 268h1M425 268h2M428 268h1M430 268h4M437 268h11M450 268h1M452 268h3M457 268h1M459 268h10M470 268h2M183 269h3M358 269h4M364 269h5M417 269h7M425 269h1M427 269h8M437 269h6M444 269h1M446 269h1M448 269h1M451 269h4M456 269h2M459 269h5M465 269h5M471 269h2M127 270h1M184 270h1M358 270h4M364 270h5M414 270h2M417 270h3M423 270h2M426 270h1M428 270h4M433 270h6M440 270h2M443 270h3M450 270h4M455 270h1M459 270h4M464 270h9M359 271h4M364 271h3M414 271h2M417 271h5M423 271h1M425 271h2M429 271h1M431 271h2M434 271h2M437 271h4M443 271h1M445 271h4M451 271h2M454 271h1M457 271h1M459 271h3M463 271h3M467 271h5M51 272h1M364 272h3M412 272h1M414 272h4M420 272h7M429 272h4M435 272h3M440 272h5M446 272h1M448 272h5M454 272h3M458 272h1M460 272h2M463 272h1M465 272h7M52 273h1M355 273h1M357 273h2M361 273h1M363 273h1M365 273h1M409 273h6M416 273h1M419 273h3M424 273h1M426 273h1M428 273h1M430 273h1M432 273h1M434 273h1M436 273h1M439 273h2M447 273h1M451 273h5M457 273h1M459 273h4M464 273h7M472 273h1M47 274h1M52 274h1M356 274h1M359 274h1M362 274h4M407 274h1M409 274h1M411 274h9M421 274h3M426 274h1M428 274h2M432 274h3M438 274h1M440 274h7M448 274h1M450 274h4M455 274h11M467 274h6M115 275h1M119 275h1M356 275h1M359 275h2M362 275h2M408 275h2M411 275h2M415 275h1M417 275h4M424 275h1M426 275h1M428 275h1M430 275h4M435 275h3M439 275h4M444 275h1M446 275h2M450 275h2M453 275h2M456 275h3M465 275h3M469 275h2M473 275h2M354 276h1M359 276h3M404 276h6M411 276h5M417 276h8M426 276h1M428 276h2M431 276h1M433 276h3M437 276h2M441 276h1M444 276h1M447 276h2M451 276h1M453 276h1M455 276h1M457 276h5M464 276h1M466 276h1M469 276h1M471 276h1M117 277h1M354 277h1M356 277h2M359 277h1M361 277h1M365 277h1M403 277h8M412 277h1M414 277h2M417 277h2M420 277h4M426 277h3M430 277h5M438 277h4M446 277h1M448 277h4M453 277h1M455 277h5M461 277h1M464 277h2M467 277h3M472 277h1M474 277h1M50 278h2M119 278h1M358 278h2M402 278h6M409 278h2M412 278h1M417 278h2M420 278h3M424 278h5M430 278h3M434 278h1M436 278h1M439 278h3M443 278h1M445 278h1M447 278h1M449 278h2M453 278h11M465 278h3M472 278h3M45 279h2M48 279h1M53 279h1M114 279h2M120 279h1M124 279h1M126 279h1M356 279h1M401 279h6M408 279h3M412 279h1M414 279h2M417 279h2M421 279h6M428 279h1M431 279h6M439 279h1M441 279h1M446 279h1M451 279h1M453 279h7M465 279h2M123 280h1M125 280h1M128 280h1M150 280h1M168 280h1M400 280h3M404 280h5M410 280h8M419 280h5M425 280h2M428 280h1M430 280h2M433 280h2M436 280h1M438 280h2M441 280h1M446 280h1M450 280h1M452 280h1M454 280h3M458 280h1M460 280h1M464 280h2M469 280h1M472 280h2M45 281h1M47 281h1M49 281h1M120 281h3M124 281h1M127 281h2M162 281h1M167 281h1M400 281h5M406 281h2M409 281h2M414 281h2M417 281h5M423 281h8M433 281h2M438 281h1M444 281h1M447 281h2M453 281h2M456 281h4M461 281h2M465 281h3M472 281h2M475 281h1M51 282h1M116 282h1M118 282h1M121 282h8M156 282h8M165 282h2M401 282h1M403 282h2M406 282h3M411 282h6M418 282h2M422 282h2M426 282h1M428 282h8M442 282h1M455 282h2M458 282h2M462 282h1M464 282h1M471 282h2M475 282h1M477 282h1M116 283h1M120 283h4M125 283h4M151 283h1M156 283h2M159 283h2M162 283h1M164 283h1M169 283h1M401 283h3M405 283h1M407 283h4M412 283h1M414 283h1M416 283h2M419 283h4M425 283h4M431 283h3M444 283h1M448 283h1M451 283h1M453 283h1M456 283h2M461 283h1M464 283h2M467 283h2M473 283h3M51 284h1M115 284h1M120 284h1M122 284h4M127 284h1M148 284h1M151 284h1M153 284h1M157 284h2M161 284h1M163 284h1M166 284h1M172 284h2M175 284h1M177 284h5M402 284h3M406 284h14M422 284h6M430 284h2M433 284h1M453 284h1M467 284h1M469 284h3M473 284h2M113 285h3M117 285h1M119 285h5M125 285h2M128 285h1M149 285h1M151 285h2M154 285h1M156 285h6M163 285h1M165 285h1M169 285h1M172 285h4M177 285h5M404 285h2M408 285h10M425 285h1M428 285h3M435 285h1M437 285h1M443 285h3M477 285h1M112 286h1M120 286h1M122 286h1M126 286h1M128 286h1M130 286h1M149 286h5M155 286h1M161 286h4M168 286h1M171 286h1M173 286h1M175 286h2M178 286h1M180 286h2M404 286h5M411 286h4M416 286h3M426 286h2M431 286h1M434 286h1M441 286h1M443 286h1M445 286h1M451 286h1M454 286h1M461 286h1M467 286h1M476 286h1M478 286h1M120 287h1M125 287h1M128 287h2M149 287h7M159 287h3M167 287h2M170 287h2M174 287h1M178 287h3M407 287h9M417 287h2M426 287h1M432 287h2M438 287h1M446 287h1M450 287h1M455 287h1M458 287h1M473 287h1M475 287h1M478 287h1M111 288h1M113 288h1M115 288h1M118 288h1M121 288h2M148 288h3M152 288h3M156 288h1M158 288h1M161 288h2M165 288h1M172 288h1M174 288h1M176 288h1M179 288h1M408 288h1M410 288h7M430 288h1M435 288h1M459 288h1M462 288h1M464 288h1M467 288h1M469 288h1M471 288h2M476 288h1M111 289h1M120 289h1M147 289h5M153 289h1M155 289h6M163 289h2M408 289h1M410 289h3M414 289h1M420 289h1M424 289h1M429 289h2M460 289h1M464 289h1M467 289h1M477 289h3M112 290h2M117 290h1M119 290h1M149 290h2M153 290h2M156 290h3M163 290h1M409 290h1M411 290h3M433 290h2M447 290h2M453 290h1M459 290h1M461 290h1M475 290h2M478 290h2M110 291h1M116 291h1M119 291h1M127 291h1M130 291h1M132 291h1M150 291h1M153 291h1M155 291h2M158 291h2M161 291h1M163 291h2M423 291h1M428 291h1M431 291h1M447 291h3M461 291h1M465 291h1M467 291h1M470 291h1M475 291h4M148 292h2M152 292h4M157 292h3M162 292h1M421 292h1M426 292h1M449 292h3M465 292h1M471 292h1M476 292h2M111 293h2M118 293h1M120 293h1M149 293h3M153 293h4M160 293h1M450 293h2M470 293h3M475 293h1M477 293h3M112 294h3M124 294h1M128 294h1M149 294h2M152 294h5M158 294h1M161 294h2M451 294h1M453 294h1M468 294h1M471 294h1M477 294h3M113 295h1M119 295h1M122 295h1M149 295h1M151 295h1M153 295h1M156 295h2M161 295h1M452 295h1M469 295h1M476 295h3M113 296h1M116 296h1M150 296h9M162 296h1M453 296h1M472 296h1M476 296h1M116 297h1M150 297h1M152 297h1M154 297h5M160 297h1M163 297h1M290 297h2M458 297h1M476 297h4M151 298h3M155 298h2M158 298h1M160 298h2M163 298h1M291 298h2M318 298h4M455 298h1M457 298h1M459 298h2M475 298h4M152 299h1M154 299h3M158 299h7M293 299h5M307 299h1M320 299h1M455 299h1M461 299h1M465 299h1M475 299h2M152 300h3M156 300h3M162 300h3M293 300h1M295 300h5M304 300h1M306 300h2M309 300h1M313 300h1M316 300h4M321 300h1M323 300h1M325 300h1M327 300h1M457 300h2M460 300h1M462 300h4M475 300h4M153 301h1M156 301h9M295 301h6M302 301h1M304 301h3M308 301h2M313 301h1M316 301h2M319 301h1M322 301h1M324 301h3M328 301h1M456 301h2M461 301h2M465 301h3M470 301h1M474 301h1M477 301h1M479 301h1M156 302h6M164 302h2M296 302h4M301 302h3M305 302h4M310 302h2M313 302h3M319 302h4M327 302h4M458 302h1M462 302h5M469 302h1M471 302h1M474 302h1M476 302h2M153 303h1M155 303h2M159 303h1M161 303h1M163 303h1M165 303h1M297 303h2M300 303h3M304 303h6M311 303h3M315 303h7M323 303h4M328 303h1M331 303h1M459 303h1M461 303h3M465 303h3M469 303h6M476 303h4M154 304h3M158 304h2M162 304h1M298 304h15M314 304h2M318 304h3M322 304h1M325 304h1M327 304h5M333 304h1M463 304h2M466 304h1M469 304h1M471 304h3M475 304h1M154 305h1M157 305h1M161 305h1M163 305h1M298 305h4M303 305h4M308 305h1M310 305h2M314 305h1M318 305h5M324 305h5M330 305h1M463 305h4M469 305h3M473 305h1M475 305h3M480 305h1M143 306h1M156 306h1M158 306h1M161 306h1M298 306h7M306 306h3M311 306h3M315 306h1M318 306h5M324 306h1M326 306h1M328 306h1M330 306h1M332 306h3M463 306h2M466 306h1M470 306h1M474 306h4M140 307h1M147 307h1M154 307h1M175 307h1M298 307h3M302 307h3M306 307h1M309 307h6M316 307h1M318 307h1M320 307h5M326 307h2M332 307h2M335 307h2M469 307h1M473 307h1M477 307h2M140 308h1M169 308h1M300 308h1M303 308h2M306 308h6M315 308h7M323 308h1M325 308h1M327 308h2M330 308h3M334 308h3M472 308h3M476 308h1M135 309h1M137 309h1M150 309h1M153 309h1M157 309h1M174 309h1M298 309h1M300 309h11M312 309h3M320 309h1M322 309h2M325 309h5M331 309h1M335 309h2M474 309h3M134 310h1M138 310h5M165 310h1M174 310h1M299 310h6M306 310h3M310 310h1M313 310h2M317 310h1M319 310h4M324 310h1M326 310h1M328 310h2M332 310h1M334 310h3M474 310h1M136 311h1M153 311h1M157 311h1M160 311h1M175 311h1M301 311h2M304 311h4M311 311h3M315 311h6M323 311h1M326 311h3M330 311h3M335 311h2M146 312h1M162 312h1M165 312h1M176 312h1M301 312h8M310 312h1M312 312h1M314 312h2M317 312h2M321 312h5M327 312h1M329 312h3M333 312h2M337 312h1M128 313h3M134 313h1M145 313h1M147 313h2M151 313h1M153 313h1M162 313h1M303 313h1M305 313h6M312 313h4M317 313h1M322 313h4M329 313h1M333 313h2M336 313h1M128 314h4M133 314h1M147 314h1M164 314h2M169 314h1M302 314h5M308 314h3M312 314h1M314 314h3M318 314h2M322 314h4M328 314h2M331 314h5M129 315h1M144 315h1M157 315h1M160 315h1M169 315h1M174 315h1M184 315h3M192 315h2M303 315h4M308 315h6M315 315h1M317 315h7M325 315h1M330 315h1M332 315h2M335 315h1M144 316h1M152 316h1M154 316h1M170 316h1M186 316h1M188 316h1M190 316h3M194 316h1M303 316h5M310 316h1M312 316h3M316 316h1M319 316h4M324 316h3M328 316h1M330 316h3M126 317h3M145 317h1M155 317h1M159 317h1M166 317h1M181 317h1M184 317h3M190 317h1M303 317h5M309 317h2M313 317h8M322 317h4M327 317h2M330 317h7M124 318h1M127 318h2M131 318h1M142 318h4M150 318h1M180 318h1M182 318h1M185 318h1M188 318h1M190 318h1M304 318h5M310 318h1M312 318h4M317 318h1M319 318h4M324 318h2M327 318h3M331 318h1M333 318h3M125 319h1M127 319h1M130 319h1M143 319h1M145 319h1M159 319h1M164 319h1M177 319h1M181 319h1M183 319h1M185 319h2M191 319h1M193 319h2M304 319h2M307 319h1M309 319h2M312 319h3M316 319h1M318 319h2M321 319h1M323 319h1M325 319h2M330 319h2M333 319h4M122 320h1M124 320h1M127 320h1M130 320h1M132 320h1M142 320h4M152 320h1M157 320h2M179 320h1M181 320h2M187 320h1M193 320h1M306 320h2M310 320h5M318 320h1M320 320h2M324 320h1M326 320h3M331 320h2M334 320h1M336 320h1M121 321h1M127 321h1M129 321h2M141 321h1M143 321h1M145 321h2M157 321h1M169 321h1M178 321h4M183 321h1M186 321h1M189 321h2M192 321h1M194 321h1M304 321h1M308 321h2M312 321h1M315 321h4M320 321h1M322 321h7M332 321h2M123 322h1M126 322h4M136 322h1M141 322h4M165 322h1M176 322h3M181 322h1M183 322h3M190 322h1M192 322h3M305 322h5M311 322h5M318 322h4M323 322h2M326 322h3M330 322h3M334 322h3M121 323h1M124 323h2M129 323h1M141 323h2M145 323h1M148 323h1M161 323h1M164 323h1M178 323h1M181 323h1M187 323h1M189 323h2M304 323h1M306 323h1M311 323h5M317 323h2M320 323h2M323 323h1M326 323h1M329 323h1M331 323h3M335 323h2M120 324h2M123 324h2M126 324h1M129 324h1M131 324h1M138 324h1M146 324h1M153 324h1M174 324h1M177 324h2M183 324h1M186 324h1M191 324h3M306 324h2M310 324h6M317 324h3M321 324h1M327 324h7M120 325h2M123 325h2M127 325h3M134 325h1M139 325h2M143 325h1M147 325h1M174 325h1M179 325h1M181 325h1M184 325h1M186 325h1M190 325h3M305 325h1M307 325h4M313 325h7M324 325h3M328 325h4M333 325h2M336 325h1M120 326h1M122 326h1M124 326h1M126 326h1M133 326h1M138 326h4M143 326h1M158 326h2M161 326h1M172 326h3M177 326h2M180 326h2M186 326h6M305 326h2M308 326h2M311 326h2M314 326h5M320 326h1M323 326h1M327 326h2M330 326h3M336 326h1M120 327h1M124 327h1M126 327h1M138 327h1M141 327h1M150 327h1M160 327h1M171 327h2M174 327h2M178 327h1M185 327h1M187 327h3M195 327h1M305 327h5M311 327h3M316 327h4M322 327h6M330 327h6M120 328h1M127 328h2M139 328h2M149 328h3M153 328h1M159 328h1M171 328h1M173 328h1M175 328h1M177 328h1M179 328h1M181 328h1M184 328h1M186 328h1M197 328h1M305 328h1M312 328h1M314 328h5M321 328h3M326 328h2M329 328h1M331 328h2M121 329h3M126 329h1M131 329h1M139 329h2M143 329h1M149 329h2M154 329h1M170 329h1M172 329h4M177 329h1M180 329h2M183 329h1M190 329h1M192 329h3M196 329h2M307 329h6M314 329h1M317 329h1M319 329h4M324 329h2M327 329h3M331 329h2M334 329h2M121 330h1M123 330h1M125 330h1M127 330h1M130 330h1M137 330h2M140 330h1M145 330h2M152 330h1M166 330h1M168 330h1M170 330h2M173 330h2M178 330h1M180 330h1M182 330h1M186 330h2M191 330h2M200 330h2M308 330h1M312 330h5M319 330h2M322 330h4M327 330h2M330 330h2M333 330h2M123 331h3M127 331h1M131 331h1M138 331h2M141 331h1M151 331h1M158 331h2M165 331h1M167 331h3M171 331h2M175 331h1M179 331h6M186 331h2M189 331h1M193 331h1M197 331h2M200 331h1M203 331h1M306 331h6M314 331h2M320 331h3M324 331h4M329 331h3M334 331h2M124 332h1M134 332h1M138 332h1M163 332h4M168 332h1M173 332h1M178 332h2M183 332h1M187 332h1M189 332h4M194 332h1M196 332h1M198 332h3M306 332h6M314 332h1M317 332h9M327 332h2M330 332h2M333 332h2M125 333h1M127 333h1M129 333h2M132 333h2M138 333h2M165 333h3M175 333h2M178 333h1M180 333h2M187 333h2M195 333h2M198 333h1M201 333h4M206 333h1M307 333h2M310 333h2M313 333h3M317 333h3M326 333h1M328 333h1M332 333h2M335 333h1M126 334h1M128 334h2M131 334h1M133 334h2M143 334h1M152 334h1M163 334h1M166 334h1M168 334h2M171 334h4M177 334h1M187 334h3M197 334h1M200 334h1M307 334h2M311 334h3M315 334h2M318 334h5M324 334h1M327 334h2M332 334h4M127 335h1M129 335h1M132 335h2M163 335h2M166 335h2M169 335h4M175 335h1M182 335h2M190 335h2M194 335h1M198 335h1M205 335h1M207 335h2M308 335h3M312 335h1M315 335h1M317 335h9M327 335h5M334 335h1M162 336h1M165 336h4M170 336h1M172 336h3M184 336h4M189 336h1M192 336h1M201 336h1M308 336h1M310 336h3M314 336h5M320 336h1M322 336h6M329 336h3M114 337h1M152 337h1M162 337h1M164 337h1M166 337h1M169 337h6M176 337h1M179 337h2M190 337h1M196 337h1M209 337h1M211 337h1M317 337h1M319 337h1M321 337h1M323 337h1M325 337h6M147 338h1M152 338h1M163 338h2M166 338h2M169 338h1M171 338h2M176 338h1M178 338h1M180 338h1M185 338h5M192 338h1M195 338h1M312 338h3M316 338h3M321 338h4M326 338h2M329 338h4M148 339h1M168 339h1M171 339h2M175 339h1M178 339h5M184 339h1M186 339h2M191 339h2M194 339h1M209 339h1M213 339h1M311 339h1M313 339h1M316 339h3M320 339h3M325 339h1M327 339h1M329 339h1M169 340h1M171 340h1M174 340h2M177 340h2M180 340h2M185 340h1M187 340h3M192 340h1M195 340h1M198 340h1M312 340h1M315 340h2M319 340h3M324 340h1M327 340h4M160 341h1M165 341h2M168 341h1M171 341h1M177 341h1M179 341h1M181 341h2M184 341h1M190 341h3M194 341h2M200 341h1M314 341h2M317 341h4M322 341h1M325 341h2M328 341h2M155 342h2M173 342h1M176 342h3M180 342h3M185 342h1M189 342h3M194 342h1M200 342h1M205 342h1M222 342h1M315 342h1M318 342h2M321 342h1M323 342h4M146 343h1M165 343h1M167 343h2M173 343h1M176 343h2M188 343h3M192 343h2M195 343h2M203 343h1M217 343h1M221 343h1M231 343h1M236 343h1M314 343h1M318 343h2M321 343h4M326 343h1M167 344h3M171 344h1M175 344h2M182 344h4M187 344h1M189 344h1M191 344h1M193 344h1M198 344h1M217 344h1M233 344h2M315 344h1M317 344h1M319 344h1M321 344h1M323 344h4M167 345h1M169 345h1M171 345h1M176 345h1M179 345h1M185 345h1M187 345h1M189 345h1M192 345h1M231 345h1M234 345h2M321 345h1M323 345h4M147 346h1M151 346h1M160 346h1M167 346h1M170 346h1M172 346h2M175 346h2M178 346h3M183 346h2M187 346h1M194 346h1M214 346h1M230 346h1M233 346h1M235 346h1M319 346h1M321 346h2M146 347h1M162 347h1M168 347h1M176 347h1M178 347h1M181 347h2M184 347h1M186 347h3M234 347h1M236 347h3M320 347h1M322 347h2M128 348h1M156 348h1M171 348h1M178 348h6M187 348h2M190 348h1M192 348h1M195 348h1M197 348h2M202 348h1M220 348h1M236 348h1M240 348h2M323 348h2M144 349h1M162 349h1M169 349h1M182 349h1M186 349h4M209 349h1M231 349h1M236 349h2M239 349h1M241 349h1M243 349h1M323 349h1M131 350h1M188 350h1M191 350h2M231 350h1M233 350h1M236 350h1M239 350h3M243 350h2M98 351h1M129 351h1M146 351h1M149 351h1M151 351h1M156 351h1M164 351h1M183 351h2M187 351h1M189 351h2M192 351h1M200 351h1M237 351h4M242 351h1M244 351h2M247 351h1M130 352h1M145 352h1M175 352h1M231 352h1M239 352h2M244 352h5M94 353h2M131 353h1M147 353h1M169 353h1M172 353h1M176 353h1M179 353h1M183 353h1M189 353h1M195 353h1M198 353h1M216 353h1M223 353h1M225 353h3M236 353h2M239 353h6M248 353h1M142 354h1M169 354h1M177 354h1M183 354h1M190 354h1M197 354h1M213 354h1M229 354h1M231 354h2M234 354h1M236 354h1M239 354h1M241 354h4M246 354h3M132 355h1M166 355h1M169 355h1M171 355h1M177 355h1M189 355h2M192 355h1M197 355h1M237 355h1M240 355h2M243 355h1M245 355h2M248 355h3M143 356h1M169 356h1M179 356h1M189 356h3M193 356h1M195 356h1M209 356h1M213 356h1M215 356h1M220 356h1M223 356h1M229 356h2M236 356h4M241 356h1M243 356h4M249 356h3M167 357h1M178 357h1M190 357h1M192 357h1M196 357h2M206 357h1M221 357h1M224 357h1M237 357h1M240 357h1M242 357h4M249 357h5M136 358h1M164 358h1M179 358h1M189 358h1M191 358h1M193 358h1M196 358h1M209 358h1M217 358h1M219 358h1M226 358h1M231 358h1M239 358h1M241 358h1M244 358h6M251 358h3M142 359h1M147 359h1M171 359h2M175 359h2M187 359h2M190 359h2M193 359h3M231 359h1M237 359h2M240 359h5M246 359h9M133 360h1M136 360h1M160 360h1M188 360h2M193 360h2M196 360h1M211 360h3M227 360h1M230 360h1M236 360h1M238 360h1M240 360h2M243 360h3M247 360h1M249 360h1M251 360h1M253 360h2M141 361h1M160 361h1M163 361h1M190 361h1M192 361h1M218 361h1M228 361h1M235 361h1M239 361h3M243 361h3M247 361h7M154 362h1M166 362h1M172 362h1M174 362h1M179 362h1M182 362h1M189 362h1M191 362h1M194 362h1M198 362h2M211 362h1M219 362h2M227 362h1M230 362h1M232 362h1M234 362h1M239 362h6M246 362h3M251 362h5M136 363h1M170 363h1M172 363h1M187 363h1M197 363h1M213 363h1M218 363h1M227 363h2M237 363h2M240 363h3M247 363h2M250 363h1M252 363h2M255 363h4M144 364h1M152 364h1M161 364h1M179 364h1M187 364h3M191 364h2M194 364h1M217 364h2M221 364h1M232 364h2M240 364h14M255 364h1M257 364h2M159 365h1M183 365h1M186 365h1M189 365h1M193 365h1M200 365h2M204 365h1M206 365h1M212 365h1M216 365h2M219 365h2M225 365h1M227 365h1M235 365h1M239 365h1M242 365h2M245 365h3M249 365h1M254 365h1M257 365h3M149 366h1M169 366h1M176 366h1M184 366h1M186 366h2M192 366h1M194 366h1M197 366h1M199 366h1M201 366h1M204 366h1M210 366h3M215 366h2M218 366h1M226 366h2M243 366h2M246 366h3M251 366h1M253 366h1M255 366h2M258 366h3M146 367h1M151 367h1M157 367h1M184 367h3M189 367h2M195 367h1M201 367h1M208 367h2M211 367h1M217 367h1M219 367h2M223 367h1M227 367h2M235 367h1M240 367h1M242 367h1M244 367h1M246 367h2M251 367h1M256 367h5M134 368h1M148 368h1M179 368h1M183 368h4M197 368h2M202 368h1M208 368h1M212 368h1M217 368h2M222 368h1M224 368h1M226 368h1M228 368h1M230 368h1M232 368h3M240 368h3M245 368h3M249 368h1M251 368h9M147 369h1M151 369h1M183 369h2M187 369h1M189 369h1M200 369h1M203 369h1M208 369h1M210 369h1M212 369h2M216 369h2M219 369h1M221 369h1M224 369h1M227 369h1M233 369h4M238 369h1M240 369h5M247 369h2M252 369h1M254 369h1M256 369h2M259 369h3M72 370h1M149 370h3M153 370h1M160 370h1M172 370h2M186 370h1M193 370h1M197 370h1M200 370h1M204 370h1M207 370h1M214 370h1M216 370h1M219 370h1M222 370h2M225 370h1M227 370h1M231 370h1M237 370h2M240 370h2M243 370h2M246 370h4M251 370h6M258 370h2M261 370h1M136 371h1M138 371h1M140 371h1M142 371h1M148 371h1M151 371h1M155 371h1M161 371h1M182 371h5M200 371h2M205 371h1M207 371h1M209 371h1M211 371h1M215 371h1M222 371h2M238 371h4M243 371h1M245 371h4M251 371h2M254 371h1M256 371h5M86 372h1M136 372h1M148 372h1M151 372h1M157 372h2M164 372h1M171 372h1M186 372h1M199 372h1M202 372h2M206 372h1M208 372h1M210 372h1M213 372h3M219 372h1M221 372h1M223 372h1M225 372h2M231 372h3M236 372h3M240 372h3M245 372h1M248 372h1M250 372h2M255 372h3M260 372h1M135 373h1M137 373h1M139 373h1M142 373h1M147 373h2M180 373h1M199 373h1M204 373h1M206 373h2M213 373h2M219 373h1M227 373h1M230 373h1M238 373h1M242 373h2M245 373h1M247 373h2M250 373h2M258 373h3M137 374h1M140 374h1M147 374h2M153 374h1M202 374h2M206 374h1M208 374h2M213 374h1M215 374h1M219 374h1M223 374h4M230 374h2M236 374h3M240 374h4M245 374h2M248 374h2M251 374h1M254 374h3M259 374h1M136 375h1M139 375h2M149 375h2M152 375h2M163 375h1M185 375h1M198 375h1M202 375h3M206 375h1M209 375h1M213 375h2M217 375h1M220 375h1M223 375h1M225 375h1M230 375h3M235 375h1M237 375h2M240 375h7M249 375h1M251 375h3M256 375h1M258 375h2M137 376h3M141 376h1M144 376h2M150 376h3M187 376h1M195 376h1M200 376h1M205 376h1M209 376h4M215 376h1M219 376h2M225 376h1M232 376h1M236 376h1M238 376h3M243 376h1M245 376h6M252 376h2M255 376h1M257 376h1M259 376h2M136 377h1M138 377h1M147 377h1M150 377h5M194 377h1M197 377h1M201 377h1M204 377h1M207 377h2M212 377h2M219 377h2M227 377h1M232 377h1M236 377h1M239 377h9M249 377h1M252 377h4M257 377h1M259 377h1M137 378h1M142 378h1M152 378h2M201 378h1M203 378h1M205 378h1M211 378h4M216 378h1M221 378h1M224 378h1M227 378h2M233 378h1M235 378h1M238 378h1M241 378h2M244 378h2M248 378h2M251 378h3M257 378h1M260 378h1M149 379h3M175 379h1M200 379h1M213 379h3M222 379h1M229 379h2M232 379h1M234 379h1M238 379h1M240 379h1M242 379h2M248 379h2M251 379h1M253 379h1M256 379h1M259 379h1M186 380h1M208 380h1M214 380h2M218 380h1M220 380h3M227 380h3M231 380h2M234 380h1M237 380h2M242 380h2M246 380h6M253 380h1M255 380h1M259 380h1M91 381h1M145 381h1M171 381h1M207 381h1M210 381h1M215 381h1M218 381h1M225 381h1M228 381h1M234 381h1M242 381h3M247 381h9M200 382h1M205 382h1M209 382h1M212 382h1M216 382h1M219 382h2M223 382h1M228 382h2M234 382h1M242 382h2M246 382h3M250 382h1M254 382h2M199 383h1M212 383h1M218 383h1M221 383h1M226 383h1M229 383h4M241 383h3M245 383h8M255 383h1M158 384h1M202 384h1M211 384h2M214 384h2M221 384h2M227 384h1M235 384h3M242 384h1M245 384h4M251 384h5M170 385h1M213 385h3M218 385h1M221 385h1M223 385h1M225 385h1M236 385h1M245 385h1M248 385h7M90 386h1M158 386h1M184 386h1M218 386h1M225 386h1M230 386h2M242 386h2M246 386h1M248 386h2M251 386h2M143 387h1M208 387h4M220 387h1M228 387h1M231 387h1M233 387h1M237 387h1M242 387h1M244 387h3M248 387h3M178 388h1M209 388h3M217 388h1M219 388h1M224 388h3M228 388h4M243 388h3M248 388h1M250 388h1M252 388h1M93 389h1M217 389h1M224 389h1M228 389h1M233 389h1M243 389h2M246 389h8M348 389h1M87 390h1M162 390h1M177 390h1M209 390h3M214 390h1M217 390h1M226 390h2M230 390h2M247 390h5M112 391h1M205 391h1M221 391h1M226 391h1M229 391h1M245 391h3M251 391h3M348 391h1M111 392h2M167 392h1M174 392h1M212 392h1M219 392h1M223 392h1M245 392h3M250 392h1M252 392h2M383 392h1M385 392h1M387 392h1M389 392h2M90 393h1M110 393h2M195 393h1M206 393h1M223 393h1M236 393h1M249 393h5M380 393h4M385 393h1M387 393h4M392 393h1M110 394h2M166 394h1M173 394h1M209 394h1M240 394h1M244 394h1M246 394h6M253 394h1M345 394h1M377 394h1M379 394h1M381 394h5M389 394h1M392 394h2M90 395h1M92 395h1M108 395h2M216 395h1M235 395h1M238 395h1M245 395h9M346 395h1M348 395h2M377 395h3M381 395h1M383 395h3M387 395h7M92 396h1M107 396h1M207 396h1M227 396h1M233 396h1M243 396h1M247 396h1M249 396h2M252 396h1M350 396h1M354 396h1M376 396h3M381 396h5M388 396h4M393 396h1M395 396h1M94 397h1M107 397h1M208 397h1M231 397h1M241 397h1M243 397h1M249 397h5M344 397h1M346 397h4M352 397h1M367 397h1M376 397h7M385 397h2M391 397h3M395 397h2M94 398h1M101 398h1M106 398h2M137 398h1M190 398h1M209 398h1M244 398h1M250 398h1M348 398h2M361 398h1M363 398h1M374 398h1M376 398h2M379 398h1M381 398h2M384 398h2M387 398h1M390 398h5M396 398h2M98 399h3M106 399h1M142 399h1M147 399h1M159 399h1M163 399h1M168 399h1M206 399h1M232 399h1M341 399h2M348 399h1M350 399h1M353 399h1M366 399h1M371 399h1M374 399h2M377 399h5M383 399h1M385 399h2M388 399h5M394 399h1M396 399h3M101 400h1M103 400h1M141 400h2M144 400h1M147 400h3M168 400h1M178 400h1M202 400h1M225 400h1M229 400h1M238 400h1M342 400h1M347 400h1M350 400h1M352 400h2M374 400h2M384 400h4M389 400h1M391 400h2M394 400h1M396 400h3M105 401h1M107 401h1M138 401h4M146 401h2M152 401h2M158 401h2M162 401h1M169 401h1M214 401h1M242 401h1M342 401h2M346 401h1M349 401h2M352 401h1M358 401h1M361 401h1M371 401h1M373 401h1M375 401h1M377 401h1M380 401h2M384 401h2M387 401h6M394 401h1M396 401h3M107 402h1M138 402h1M140 402h3M145 402h2M149 402h5M156 402h1M158 402h1M161 402h2M165 402h4M212 402h1M223 402h1M230 402h1M245 402h1M340 402h1M345 402h1M349 402h1M371 402h4M376 402h1M382 402h1M384 402h2M388 402h1M390 402h2M393 402h2M396 402h1M398 402h1M400 402h1M107 403h2M146 403h3M150 403h1M154 403h1M157 403h5M164 403h1M167 403h1M169 403h1M202 403h1M215 403h1M350 403h1M370 403h1M378 403h1M380 403h1M382 403h3M388 403h2M393 403h1M395 403h1M397 403h1M139 404h1M144 404h1M148 404h4M155 404h2M159 404h2M163 404h1M165 404h1M199 404h1M210 404h1M237 404h1M340 404h1M342 404h1M347 404h4M372 404h3M377 404h1M379 404h1M381 404h1M383 404h2M386 404h1M389 404h2M392 404h1M394 404h3M399 404h2M139 405h1M144 405h1M146 405h2M150 405h2M154 405h4M160 405h2M170 405h1M185 405h1M213 405h1M342 405h2M345 405h2M349 405h2M369 405h4M374 405h1M377 405h1M381 405h1M383 405h2M386 405h1M388 405h3M392 405h3M396 405h1M142 406h1M146 406h1M149 406h1M152 406h1M161 406h1M213 406h1M346 406h1M349 406h1M368 406h3M372 406h1M374 406h2M377 406h2M380 406h1M382 406h1M387 406h1M389 406h2M392 406h1M395 406h2M398 406h1M400 406h1M139 407h1M143 407h3M148 407h1M151 407h2M155 407h1M159 407h1M164 407h2M167 407h1M228 407h1M230 407h1M345 407h2M349 407h1M366 407h1M372 407h2M375 407h1M378 407h1M381 407h2M384 407h2M387 407h2M390 407h1M393 407h1M395 407h2M401 407h1M140 408h1M147 408h2M153 408h1M163 408h1M170 408h1M181 408h1M190 408h2M198 408h1M222 408h1M233 408h2M344 408h1M346 408h2M364 408h4M370 408h4M376 408h2M379 408h4M387 408h1M389 408h3M393 408h1M396 408h5M402 408h1M142 409h2M146 409h2M149 409h1M159 409h1M162 409h1M175 409h1M200 409h1M208 409h1M222 409h1M244 409h1M341 409h1M343 409h2M347 409h2M363 409h1M365 409h1M367 409h1M370 409h5M376 409h5M382 409h3M386 409h2M389 409h1M391 409h4M396 409h1M398 409h1M400 409h1M403 409h2M139 410h2M143 410h3M150 410h1M156 410h3M160 410h1M162 410h2M184 410h1M189 410h1M193 410h1M237 410h1M241 410h1M349 410h1M362 410h5M368 410h1M372 410h3M380 410h2M383 410h3M388 410h3M392 410h9M403 410h1M140 411h1M142 411h1M145 411h2M151 411h2M155 411h1M161 411h1M164 411h1M193 411h2M205 411h2M228 411h1M347 411h2M364 411h3M374 411h2M379 411h7M387 411h3M392 411h2M395 411h1M398 411h1M400 411h3M404 411h1M142 412h2M147 412h1M150 412h1M152 412h1M154 412h1M158 412h3M162 412h1M165 412h2M169 412h1M188 412h1M221 412h1M344 412h2M349 412h1M361 412h2M364 412h3M381 412h1M383 412h1M385 412h1M387 412h6M394 412h2M399 412h1M402 412h3M145 413h3M149 413h2M153 413h1M155 413h1M158 413h2M162 413h1M165 413h1M167 413h1M170 413h2M200 413h1M211 413h1M219 413h1M227 413h1M338 413h1M345 413h3M360 413h1M362 413h1M364 413h3M369 413h2M379 413h1M381 413h1M384 413h1M388 413h1M390 413h3M395 413h1M397 413h2M402 413h2M146 414h1M154 414h1M156 414h1M159 414h1M161 414h3M166 414h2M197 414h1M201 414h1M203 414h1M208 414h1M338 414h1M359 414h7M384 414h1M386 414h10M398 414h2M401 414h1M148 415h1M151 415h2M156 415h1M160 415h1M162 415h1M165 415h2M170 415h1M174 415h1M196 415h1M203 415h1M213 415h1M217 415h1M220 415h1M233 415h1M236 415h1M241 415h1M339 415h1M358 415h1M361 415h3M365 415h1M368 415h1M384 415h1M386 415h1M389 415h1M391 415h3M395 415h2M399 415h1M402 415h2M148 416h2M158 416h3M167 416h1M174 416h1M176 416h1M181 416h1M200 416h1M203 416h1M211 416h1M213 416h1M219 416h1M235 416h1M240 416h1M340 416h1M358 416h2M361 416h1M363 416h3M386 416h2M389 416h1M391 416h1M394 416h3M398 416h1M400 416h2M150 417h1M157 417h1M159 417h1M161 417h1M163 417h1M166 417h1M168 417h3M179 417h1M183 417h1M202 417h1M205 417h2M212 417h1M221 417h1M236 417h1M339 417h1M343 417h1M357 417h6M364 417h1M376 417h2M385 417h1M387 417h1M389 417h2M393 417h6M401 417h2M146 418h1M154 418h1M165 418h1M173 418h4M178 418h2M182 418h1M184 418h1M187 418h1M190 418h1M222 418h1M231 418h1M337 418h1M339 418h1M356 418h5M363 418h2M370 418h1M373 418h1M385 418h3M390 418h1M392 418h1M394 418h1M396 418h1M400 418h1M154 419h1M160 419h1M167 419h3M173 419h1M180 419h1M184 419h1M197 419h1M338 419h1M355 419h1M360 419h5M384 419h2M389 419h1M398 419h2M149 420h1M156 420h2M159 420h1M162 420h1M170 420h1M174 420h1M176 420h1M178 420h2M182 420h1M204 420h1M207 420h1M339 420h1M345 420h1M354 420h2M357 420h2M360 420h1M362 420h2M374 420h1M378 420h1M387 420h1M391 420h1M394 420h1M155 421h1M157 421h1M161 421h1M169 421h1M173 421h2M176 421h1M180 421h2M201 421h1M208 421h1M210 421h1M212 421h1M222 421h1M229 421h1M238 421h1M342 421h1M345 421h1M355 421h1M357 421h3M362 421h2M380 421h1M395 421h1M397 421h1M402 421h1M158 422h1M161 422h3M165 422h1M169 422h2M173 422h1M179 422h3M203 422h1M206 422h1M214 422h1M226 422h1M228 422h1M237 422h1M338 422h2M353 422h6M362 422h1M387 422h1M395 422h2M398 422h1M402 422h2M153 423h1M156 423h1M161 423h1M164 423h3M173 423h1M177 423h2M180 423h1M202 423h1M219 423h1M237 423h1M338 423h3M353 423h7M361 423h2M373 423h1M382 423h1M392 423h2M396 423h1M398 423h1M401 423h1M160 424h4M165 424h1M168 424h1M172 424h1M175 424h1M178 424h2M184 424h1M187 424h1M190 424h1M197 424h1M211 424h1M219 424h2M230 424h1M340 424h1M346 424h1M353 424h1M355 424h1M358 424h4M372 424h1M376 424h1M396 424h1M403 424h2M159 425h1M168 425h2M175 425h1M177 425h2M181 425h1M183 425h2M189 425h1M198 425h1M212 425h1M339 425h1M349 425h1M354 425h1M356 425h4M361 425h2M375 425h1M390 425h2M395 425h1M400 425h1M403 425h1M168 426h2M171 426h2M175 426h1M177 426h1M179 426h1M181 426h1M183 426h2M186 426h1M196 426h1M209 426h1M333 426h1M347 426h1M356 426h2M359 426h1M366 426h1M377 426h2M388 426h2M394 426h1M398 426h1M402 426h1M163 427h1M165 427h2M168 427h1M174 427h1M182 427h3M196 427h1M198 427h1M205 427h1M216 427h1M222 427h1M232 427h1M353 427h2M375 427h1M392 427h1M394 427h1M396 427h3M403 427h1M166 428h1M170 428h1M174 428h2M177 428h1M180 428h2M183 428h1M192 428h1M195 428h1M224 428h1M332 428h1M355 428h2M363 428h2M366 428h1M382 428h1M389 428h1M394 428h3M401 428h1M405 428h1M166 429h2M169 429h1M177 429h1M179 429h2M182 429h1M185 429h1M199 429h1M207 429h2M210 429h1M215 429h1M226 429h1M229 429h2M332 429h1M356 429h1M358 429h1M363 429h1M376 429h1M385 429h1M393 429h1M396 429h1M400 429h1M402 429h1M404 429h1M167 430h1M169 430h2M172 430h1M175 430h1M179 430h1M182 430h1M194 430h1M198 430h1M209 430h1M354 430h1M360 430h1M376 430h1M399 430h1M401 430h1M407 430h1M168 431h3M181 431h1M184 431h2M221 431h1M224 431h1M331 431h1M353 431h1M367 431h2M373 431h1M381 431h1M387 431h1M389 431h1M392 431h1M394 431h2M404 431h1M169 432h3M173 432h4M184 432h1M203 432h1M218 432h1M220 432h1M362 432h1M367 432h1M373 432h1M397 432h2M402 432h1M407 432h1M181 433h1M187 433h1M208 433h1M211 433h1M213 433h1M218 433h1M223 433h1M227 433h1M354 433h1M382 433h1M390 433h1M396 433h2M400 433h2M403 433h1M408 433h1M178 434h1M180 434h1M191 434h1M193 434h1M195 434h1M197 434h1M330 434h1M348 434h1M350 434h1M352 434h1M359 434h1M366 434h1M368 434h1M370 434h1M374 434h1M376 434h1M380 434h1M384 434h1M394 434h2M399 434h1M182 435h1M225 435h1M357 435h1M366 435h1M370 435h1M378 435h1M392 435h1M398 435h1M403 435h1M407 435h1M190 436h1M204 436h1M207 436h1M214 436h1M353 436h1M357 436h1M370 436h2M379 436h1M391 436h1M397 436h1M405 436h2M195 437h1M200 437h1M206 437h2M214 437h1M356 437h1M358 437h1M366 437h2M375 437h2M384 437h1M392 437h1M396 437h2M403 437h1M194 438h1M217 438h1M329 438h1M346 438h1M348 438h1M352 438h1M369 438h1M378 438h1M382 438h1M392 438h4M398 438h1M406 438h1M408 438h1M194 439h1M210 439h1M213 439h1M221 439h1M326 439h1M343 439h1M350 439h1M354 439h1M366 439h2M372 439h1M384 439h1M391 439h3M395 439h3M399 439h1M401 439h1M408 439h3M412 439h1M218 440h1M345 440h2M348 440h2M374 440h1M391 440h6M398 440h1M400 440h3M404 440h3M408 440h2M411 440h1M210 441h1M343 441h1M345 441h1M351 441h1M355 441h1M364 441h1M368 441h1M378 441h1M390 441h6M397 441h1M400 441h3M406 441h1M408 441h3M413 441h1M321 442h1M338 442h1M342 442h1M344 442h1M349 442h1M352 442h1M357 442h1M369 442h1M375 442h1M378 442h2M381 442h1M391 442h3M397 442h2M401 442h1M405 442h1M407 442h8M162 443h1M209 443h1M319 443h1M337 443h1M339 443h1M345 443h1M352 443h1M389 443h7M397 443h1M400 443h3M405 443h2M410 443h1M413 443h1M160 444h3M238 444h1M240 444h1M319 444h1M353 444h1M384 444h1M390 444h1M392 444h3M396 444h6M405 444h4M410 444h6M130 445h1M158 445h1M160 445h1M240 445h2M335 445h1M337 445h1M343 445h1M379 445h2M383 445h1M388 445h1M394 445h1M396 445h1M398 445h1M400 445h2M404 445h1M406 445h3M412 445h3M129 446h1M157 446h1M159 446h1M162 446h1M236 446h1M333 446h1M344 446h1M361 446h1M369 446h1M379 446h1M390 446h2M393 446h2M396 446h1M398 446h1M403 446h5M409 446h5M415 446h2M155 447h1M157 447h2M162 447h1M226 447h1M239 447h1M318 447h1M332 447h1M338 447h1M341 447h1M344 447h1M354 447h2M370 447h1M376 447h1M383 447h1M387 447h1M391 447h5M397 447h1M400 447h1M402 447h5M408 447h2M412 447h3M155 448h1M335 448h1M338 448h1M340 448h2M343 448h1M347 448h1M366 448h1M370 448h1M373 448h1M378 448h1M381 448h1M383 448h1M389 448h2M393 448h4M398 448h3M404 448h1M408 448h4M137 449h1M153 449h1M159 449h1M320 449h1M331 449h1M336 449h1M339 449h1M345 449h1M348 449h1M359 449h1M366 449h1M370 449h1M373 449h1M375 449h1M380 449h1M385 449h1M391 449h1M393 449h2M396 449h3M400 449h2M403 449h2M407 449h2M410 449h1M412 449h1M132 450h1M139 450h1M152 450h1M154 450h1M227 450h1M231 450h1M235 450h1M311 450h1M313 450h1M315 450h1M320 450h1M324 450h1M326 450h1M334 450h1M353 450h1M361 450h1M365 450h1M376 450h1M378 450h1M384 450h1M386 450h1M391 450h3M395 450h5M404 450h1M407 450h2M411 450h1M416 450h1M418 450h1M152 451h1M154 451h2M159 451h1M240 451h1M315 451h1M318 451h2M321 451h1M327 451h1M331 451h2M334 451h1M340 451h2M345 451h1M347 451h1M350 451h1M354 451h1M356 451h1M367 451h1M374 451h1M377 451h1M383 451h2M386 451h1M390 451h1M392 451h8M401 451h2M405 451h4M420 451h1M132 452h2M146 452h1M154 452h1M308 452h1M311 452h1M320 452h1M325 452h2M333 452h1M339 452h1M348 452h1M350 452h1M354 452h1M361 452h1M365 452h4M371 452h1M373 452h2M377 452h1M384 452h2M387 452h1M390 452h1M392 452h2M397 452h7M405 452h5M412 452h1M420 452h1M128 453h1M146 453h1M300 453h2M308 453h1M310 453h1M313 453h1M315 453h1M317 453h2M322 453h3M329 453h1M332 453h2M335 453h1M340 453h2M344 453h1M351 453h1M358 453h1M363 453h1M371 453h2M376 453h1M378 453h1M385 453h1M387 453h3M391 453h4M396 453h1M400 453h1M402 453h1M404 453h5M419 453h1M137 454h1M152 454h1M157 454h1M298 454h1M305 454h1M307 454h1M311 454h1M313 454h1M315 454h2M318 454h1M322 454h1M326 454h1M333 454h1M339 454h1M341 454h1M352 454h1M358 454h1M364 454h1M367 454h1M373 454h1M375 454h1M385 454h1M392 454h1M395 454h5M401 454h2M404 454h3M409 454h1M134 455h1M136 455h1M157 455h1M180 455h1M302 455h1M309 455h2M314 455h2M319 455h1M322 455h1M326 455h1M328 455h3M337 455h1M341 455h1M357 455h3M365 455h1M368 455h1M371 455h2M374 455h1M377 455h1M384 455h1M388 455h4M393 455h1M396 455h2M399 455h3M404 455h3M138 456h1M145 456h1M151 456h2M156 456h1M306 456h1M312 456h1M314 456h2M317 456h1M320 456h1M322 456h1M328 456h1M331 456h1M334 456h1M336 456h1M341 456h1M354 456h1M364 456h3M370 456h2M374 456h1M376 456h1M384 456h2M388 456h1M390 456h4M396 456h1M398 456h2M402 456h1M406 456h1M408 456h1M148 457h1M182 457h1M304 457h1M310 457h1M312 457h1M314 457h2M319 457h3M328 457h2M331 457h1M334 457h5M342 457h1M348 457h2M351 457h2M360 457h1M368 457h1M370 457h2M374 457h1M376 457h1M378 457h1M380 457h2M387 457h2M391 457h1M393 457h1M395 457h3M403 457h1M405 457h1M408 457h3M417 457h1M145 458h1M150 458h1M152 458h2M180 458h1M306 458h1M309 458h1M312 458h2M319 458h1M324 458h1M327 458h2M331 458h1M333 458h4M338 458h6M345 458h2M348 458h1M352 458h2M356 458h2M359 458h2M362 458h2M365 458h1M368 458h7M376 458h2M379 458h1M381 458h2M384 458h1M386 458h1M389 458h1M391 458h1M393 458h1M396 458h3M127 459h1M135 459h1M149 459h2M153 459h1M182 459h1M184 459h1M305 459h1M309 459h4M315 459h1M319 459h1M321 459h1M323 459h2M338 459h3M342 459h1M344 459h1M346 459h1M348 459h2M352 459h5M358 459h1M360 459h1M367 459h6M374 459h1M378 459h1M380 459h1M382 459h3M386 459h3M390 459h3M394 459h1M397 459h2M411 459h1M131 460h1M137 460h2M150 460h2M160 460h1M178 460h1M181 460h1M308 460h2M312 460h3M317 460h1M319 460h1M334 460h2M337 460h1M339 460h3M343 460h3M347 460h4M352 460h5M360 460h2M364 460h2M369 460h1M372 460h1M376 460h1M379 460h1M381 460h4M388 460h3M392 460h2M395 460h5M403 460h1M405 460h1M412 460h1M129 461h1M156 461h1M179 461h1M306 461h1M312 461h1M315 461h2M319 461h1M324 461h2M329 461h1M333 461h1M336 461h5M344 461h1M348 461h2M351 461h1M353 461h1M355 461h3M359 461h2M363 461h1M366 461h4M372 461h2M376 461h1M379 461h2M382 461h3M386 461h1M389 461h1M391 461h7M400 461h1M402 461h1M413 461h2M126 462h1M141 462h1M309 462h1M311 462h2M319 462h1M322 462h1M324 462h2M327 462h2M333 462h3M338 462h2M341 462h1M343 462h1M347 462h6M358 462h1M360 462h3M364 462h1M366 462h1M371 462h1M374 462h3M384 462h3M392 462h3M397 462h2M408 462h1M128 463h2M155 463h1M174 463h1M176 463h1M179 463h1M306 463h1M311 463h3M315 463h1M320 463h2M325 463h2M329 463h3M333 463h1M335 463h1M337 463h1M339 463h3M343 463h1M345 463h1M347 463h2M352 463h1M354 463h2M358 463h4M363 463h3M368 463h2M373 463h2M379 463h1M381 463h5M388 463h5M396 463h3M404 463h1M410 463h1M131 464h1M170 464h2M173 464h2M176 464h1M178 464h1M306 464h1M308 464h3M316 464h4M323 464h1M326 464h1M328 464h1M330 464h3M336 464h1M339 464h8M348 464h1M351 464h4M356 464h1M359 464h1M361 464h2M365 464h2M370 464h1M373 464h1M375 464h1M378 464h2M383 464h3M387 464h3M391 464h8M404 464h1M407 464h1M129 465h1M157 465h1M159 465h1M171 465h1M306 465h1M308 465h1M312 465h1M314 465h2M317 465h1M319 465h1M324 465h1M326 465h1M328 465h1M330 465h1M332 465h1M336 465h4M343 465h2M346 465h1M348 465h1M353 465h3M357 465h1M359 465h4M364 465h1M368 465h1M372 465h2M375 465h16M392 465h1M396 465h2M400 465h1M405 465h1M129 466h1M150 466h1M158 466h1M162 466h1M169 466h1M171 466h1M309 466h1M311 466h1M313 466h2M318 466h3M324 466h1M326 466h1M331 466h1M333 466h1M335 466h1M337 466h2M340 466h3M346 466h2M349 466h1M351 466h2M354 466h2M358 466h1M360 466h1M362 466h1M364 466h2M368 466h1M375 466h3M380 466h6M389 466h1M392 466h1M400 466h1M402 466h1M407 466h1M133 467h1M141 467h1M166 467h1M171 467h1M308 467h2M313 467h1M315 467h1M319 467h1M324 467h1M327 467h3M331 467h1M335 467h1M337 467h3M342 467h1M344 467h1M363 467h3M374 467h2M377 467h3M386 467h1M389 467h1M391 467h2M133 468h1M137 468h1M161 468h1M163 468h1M167 468h1M169 468h1M311 468h2M322 468h1M330 468h7M338 468h1M340 468h2M132 469h1M136 469h1M140 469h1M317 469h1M319 469h1M322 469h1M326 469h1M331 469h2M334 469h1M336 469h3M139 470h1M141 470h2M151 470h1M159 470h2M163 470h1M165 470h2M315 470h1M317 470h1M323 470h2M327 470h3M336 470h1M135 471h1M137 471h1M140 471h1M144 471h1M148 471h4M153 471h1M159 471h1M161 471h1M308 471h1M310 471h2M315 471h1M317 471h1M320 471h1M322 471h1M326 471h1M333 471h1M144 472h1M151 472h3M156 472h2M162 472h1M164 472h2M310 472h1M312 472h1M316 472h1M324 472h1M330 472h1M139 473h1M147 473h2M154 473h1M161 473h3M311 473h2M314 473h2M317 473h1M323 473h2M327 473h2M153 474h2M157 474h1M160 474h1M310 474h1M312 474h1M316 474h1M319 474h1M144 475h3M157 475h1M313 475h1M318 475h1M320 475h2M323 475h1M326 475h1M147 476h1M152 476h1M158 476h1M315 476h3M323 476h1M149 477h1M152 477h1"/>
<path stroke="#200e48" d="M252 78h1M286 83h1M260 84h1M251 85h1M264 85h1M273 89h2M280 89h1M135 92h1M255 94h1M252 100h1M286 102h1M290 102h1M249 103h1M266 103h1M276 103h1M265 104h1M423 107h1M257 108h1M274 109h1M287 109h1M424 109h1M242 110h2M267 110h1M254 112h1M268 112h1M247 114h1M252 117h1M290 117h1M325 117h1M243 118h1M280 125h1M326 125h1M432 125h1M440 125h1M273 127h1M294 131h1M413 131h1M323 135h1M261 136h1M327 136h1M246 137h1M320 137h1M236 138h1M275 138h1M279 140h1M265 143h1M329 143h1M333 143h1M339 145h1M326 147h1M330 147h1M254 148h1M308 149h1M334 154h1M315 158h1M318 160h1M263 168h1M288 171h1M260 172h1M313 198h1M274 200h1M297 200h1M321 200h1M305 202h1M323 204h1M102 207h1M309 209h1M113 212h1M120 212h1M122 212h1M94 213h1M292 213h1M86 214h2M116 214h1M118 214h1M130 214h1M107 215h1M116 215h1M118 215h2M142 216h1M308 216h1M89 217h1M104 217h1M105 218h1M147 218h1M276 218h1M86 219h1M88 219h1M96 219h1M254 219h1M92 220h2M126 221h1M307 221h1M95 222h1M158 223h1M265 223h1M152 224h1M134 225h1M155 228h1M189 230h1M190 232h1M154 234h1M157 234h2M184 234h1M190 234h1M154 235h1M158 235h1M161 235h1M190 235h2M152 236h1M154 236h1M190 236h1M147 238h1M147 239h1M149 239h1M136 243h1M131 247h1M130 248h1M129 249h1M361 250h1M364 254h1M125 255h1M184 260h1M121 261h1M429 262h1M135 263h1M453 264h1M456 264h1M132 265h1M135 265h1M118 266h1M438 266h1M464 266h1M469 268h1M117 269h1M129 269h1M407 269h1M407 270h1M410 270h1M412 270h1M126 271h1M408 272h1M447 272h1M423 273h1M117 276h1M118 277h1M117 278h1M122 279h1M419 279h1M118 280h1M166 281h1M113 282h3M119 282h1M113 283h2M415 283h1M116 284h1M168 284h1M114 286h1M117 286h1M119 286h1M125 286h1M115 287h1M117 287h1M123 287h1M129 288h1M452 289h1M114 290h1M121 290h1M121 291h1M110 292h1M117 292h1M121 292h1M115 293h1M111 294h1M116 294h2M111 295h1M114 295h1M157 298h1M293 298h1M320 300h1M165 301h1M301 301h1M318 302h1M323 304h1M327 306h1M307 307h1M298 308h2M321 311h1M334 311h1M158 313h1M143 317h1M318 318h1M142 319h1M324 319h1M186 320h1M323 320h1M125 321h1M306 321h1M192 323h1M319 323h1M322 323h1M137 324h1M179 324h1M188 324h1M177 325h1M306 325h1M121 326h1M179 326h1M121 328h2M176 329h1M323 329h1M311 330h1M199 331h1M126 332h1M130 332h1M154 332h1M184 332h1M201 332h1M128 333h1M182 333h1M185 333h1M197 333h1M151 334h1M184 334h1M199 334h1M314 334h1M191 336h1M115 337h1M157 337h1M331 337h1M116 338h1M165 338h1M175 338h1M328 338h1M166 340h1M183 340h1M149 341h1M170 341h1M173 341h1M321 341h1M324 341h1M168 342h1M197 342h1M169 343h1M191 343h1M153 344h1M152 345h1M319 345h1M164 346h1M153 347h1M158 347h2M191 347h1M229 347h1M176 348h1M184 348h1M186 348h1M239 348h1M179 349h1M167 350h1M175 350h2M178 351h1M185 351h1M149 352h1M162 352h1M144 353h1M168 353h1M170 353h1M151 354h1M160 354h1M167 354h1M179 354h1M147 355h1M188 355h1M136 356h1M150 356h1M170 356h1M173 356h1M180 356h1M185 356h1M174 357h1M182 358h1M104 359h1M184 359h1M246 360h1M84 361h1M151 361h1M162 361h1M186 361h1M103 362h1M178 362h1M185 362h1M217 362h1M84 363h1M86 363h1M100 363h1M137 363h1M166 363h1M177 363h2M77 364h1M176 364h1M184 364h1M91 365h1M151 365h1M153 365h1M168 365h1M171 365h1M178 365h1M213 365h1M171 366h1M183 366h1M249 366h1M143 367h1M152 367h1M154 367h1M91 368h1M153 368h1M162 368h1M204 368h1M260 368h1M88 369h1M95 369h1M102 369h1M174 369h1M251 369h1M161 370h1M163 370h1M100 371h1M141 371h1M140 372h1M150 372h1M154 372h1M185 372h1M191 372h1M252 372h1M195 373h1M252 373h1M139 374h1M144 374h1M152 374h1M170 374h1M253 374h1M138 375h1M179 375h1M194 375h1M201 375h1M160 376h1M169 376h1M251 376h1M89 377h1M93 377h1M139 377h1M148 377h1M175 377h1M188 377h1M251 377h1M97 378h1M145 378h1M169 378h1M190 378h1M195 378h1M250 378h1M255 378h1M258 378h1M142 379h1M88 380h1M91 380h1M139 380h1M170 380h1M197 380h1M90 381h1M194 381h1M189 382h1M249 382h1M92 383h1M195 383h1M151 384h1M199 384h1M231 384h3M189 385h1M210 385h1M212 385h1M229 385h2M212 386h1M224 386h1M85 387h1M89 387h1M168 387h1M188 387h1M212 387h1M214 387h1M219 387h1M222 387h1M224 387h2M227 387h1M232 387h1M238 387h1M170 388h1M185 388h1M188 388h1M208 388h1M220 388h1M227 388h1M234 388h2M215 389h1M218 389h1M221 389h1M229 389h1M232 389h1M237 389h1M239 389h1M96 390h1M110 390h1M186 390h1M213 390h1M221 390h1M229 390h1M238 390h1M99 391h1M210 391h2M220 391h1M93 392h1M162 392h1M234 392h1M99 393h1M103 393h1M109 393h1M160 393h1M232 393h1M102 394h1M204 394h1M236 394h1M252 394h1M97 395h1M241 395h1M345 395h1M212 396h1M240 396h1M244 396h1M353 396h1M387 396h1M98 398h1M231 398h1M245 398h1M251 398h1M253 398h1M342 398h1M347 398h1M351 398h1M356 398h1M386 398h1M182 399h1M249 399h1M251 399h3M345 399h1M106 400h1M157 400h1M171 400h1M183 400h1M218 400h1M240 400h1M247 400h4M253 400h1M343 400h1M348 400h1M354 400h1M382 400h1M145 401h1M173 401h1M227 401h1M236 401h1M248 401h1M252 401h1M254 401h1M340 401h1M347 401h1M379 401h1M104 402h1M147 402h2M159 402h1M185 402h1M196 402h1M241 402h1M248 402h1M250 402h3M97 403h1M145 403h1M212 403h1M238 403h1M249 403h1M253 403h1M105 404h1M231 404h1M243 404h1M247 404h1M252 404h1M149 405h1M219 405h1M236 405h1M250 405h2M348 405h1M375 405h1M147 406h1M158 406h1M186 406h1M197 406h1M199 406h1M246 406h2M251 406h2M348 406h1M394 406h1M157 407h1M224 407h1M248 407h3M398 407h1M109 408h1M252 408h1M345 408h1M384 408h1M108 409h1M176 409h1M223 409h1M225 409h1M345 410h1M201 411h1M344 411h1M349 411h1M163 412h1M172 413h1M207 413h1M215 413h1M241 413h1M339 413h1M348 413h1M142 414h2M164 414h2M178 414h1M236 414h1M340 414h1M144 415h1M154 415h1M158 415h1M206 415h1M156 416h1M190 416h2M208 416h1M228 416h1M241 416h1M146 417h1M189 417h1M338 417h1M151 418h1M194 418h1M206 418h1M225 418h1M152 420h1M188 420h1M213 420h1M235 420h1M239 420h1M178 421h1M204 421h1M185 422h1M190 422h1M230 422h1M195 423h1M204 423h1M193 424h2M162 425h1M171 425h1M190 425h1M207 425h1M333 425h1M163 426h1M170 426h1M200 426h1M207 426h1M225 426h1M334 426h1M180 427h1M332 427h1M188 428h1M198 428h1M200 428h2M207 428h1M227 428h1M171 429h1M213 429h1M221 430h1M189 431h1M212 432h1M179 433h1M185 433h1M182 434h1M200 434h1M216 434h1M226 434h1M371 434h1M194 435h1M208 435h1M180 436h1M199 436h1M197 437h1M396 438h1M183 439h1M196 439h1M207 439h1M211 441h1M216 441h1M399 442h1M403 442h1M216 443h1M411 443h1M138 444h1M129 445h1M405 445h1M126 446h1M131 447h1M402 449h1M409 449h1M414 449h1M141 450h1M155 450h1M318 450h1M321 450h2M388 450h1M310 451h1M312 451h1M323 451h1M325 451h1M151 452h2M155 452h1M314 452h1M411 452h1M421 452h1M151 453h1M154 453h1M185 453h1M314 453h1M319 453h1M415 453h1M142 454h1M150 454h1M156 454h1M325 454h1M400 454h1M416 454h2M126 455h1M129 455h1M151 455h1M306 455h1M308 455h1M313 455h1M316 455h1M318 455h1M327 455h1M408 455h1M411 455h1M146 456h1M149 456h1M313 456h1M316 456h1M373 456h1M155 457h1M308 457h1M316 457h1M322 457h1M382 457h1M412 457h1M415 457h1M136 458h1M182 458h1M185 458h1M316 458h1M320 458h1M323 458h1M325 458h1M375 458h1M407 458h1M411 458h1M126 459h1M151 459h1M155 459h1M160 459h1M332 459h1M415 459h1M127 460h1M169 460h1M311 460h1M315 460h2M318 460h1M320 460h2M327 460h3M402 460h1M404 460h1M176 461h1M180 461h1M307 461h1M322 461h1M327 461h1M331 461h1M401 461h1M127 462h2M139 462h2M176 462h4M306 462h1M317 462h1M396 462h1M130 463h1M158 463h1M177 463h1M316 463h1M400 463h1M402 463h1M405 463h1M128 464h1M161 464h1M169 464h1M314 464h1M338 464h1M400 464h1M410 464h1M131 465h1M153 465h1M172 465h2M311 465h1M321 465h2M329 465h1M331 465h1M407 465h2M130 466h1M132 466h1M137 466h1M143 466h1M166 466h1M170 466h1M172 466h2M310 466h1M315 466h2M325 466h1M327 466h1M399 466h1M404 466h1M134 467h1M164 467h1M317 467h1M326 467h1M138 468h1M317 468h1M319 468h1M135 469h1M157 469h1M160 469h2M168 469h1M307 469h1M321 469h1M323 469h3M137 470h1M154 470h1M161 470h1M313 470h1M319 470h1M136 471h1M138 471h1M142 471h2M155 471h1M316 471h1M318 471h1M327 471h1M331 471h2M334 471h1M140 472h1M143 472h1M145 472h3M161 472h1M313 472h2M322 472h1M327 472h1M331 472h1M142 473h1M155 473h3M159 473h1M316 473h1M318 473h1M141 474h1M147 474h1M149 474h1M152 474h1M158 474h1M161 474h1M317 474h1M320 474h1M325 474h2M147 475h2M155 475h1M159 475h1M314 475h1M316 475h2M150 476h1M153 476h2M313 476h1M151 477h1"/>
<path stroke="#310f60" d="M175 39h1M268 78h1M258 87h1M298 89h1M123 90h1M147 90h1M247 94h1M289 94h1M261 95h1M149 98h1M254 98h1M134 99h1M242 99h1M297 100h1M303 100h1M332 100h1M287 101h1M312 101h1M321 101h1M269 102h1M270 104h1M261 105h1M279 106h1M278 107h1M290 107h2M246 108h1M320 108h1M285 109h1M277 110h1M241 113h1M308 114h1M277 115h1M329 116h1M247 119h1M244 123h1M244 126h1M303 126h1M334 127h1M292 128h1M286 129h1M293 130h1M305 130h1M248 133h1M424 133h1M335 134h1M340 134h1M247 135h1M253 136h1M237 137h1M289 137h1M294 137h1M432 137h1M317 139h1M233 140h1M292 140h1M301 141h1M314 144h1M270 145h1M282 149h1M302 149h1M250 150h1M279 150h1M311 151h1M327 151h1M273 152h1M268 153h1M320 155h1M267 156h1M306 158h1M324 161h1M260 163h1M255 166h1M319 170h1M267 177h1M285 177h1M309 187h1M286 188h1M332 188h1M319 189h1M323 192h1M329 194h1M326 199h1M94 203h1M282 204h1M281 205h1M271 206h1M279 206h1M312 207h1M277 209h1M276 210h1M298 210h1M309 211h1M121 212h1M272 212h2M294 212h1M105 213h1M119 213h1M121 213h1M127 213h1M94 214h1M96 214h1M113 214h1M119 214h1M121 214h1M293 214h1M301 214h1M315 214h1M317 214h1M89 215h2M98 215h1M100 215h1M103 215h1M114 215h1M124 215h1M135 215h1M84 216h1M109 216h1M116 216h1M141 216h1M84 217h1M103 217h1M107 217h2M112 217h1M293 217h1M86 218h1M91 218h2M102 218h2M148 218h1M310 218h1M90 219h1M98 219h1M148 219h1M258 219h1M185 220h1M131 221h1M122 222h1M255 222h1M264 224h1M150 225h1M127 226h1M151 226h1M253 227h1M133 228h1M188 228h1M190 231h1M189 232h1M192 232h1M190 233h2M189 234h1M193 234h1M153 236h1M191 236h1M278 236h1M149 237h1M151 237h1M191 237h1M151 238h1M146 240h1M139 242h1M135 243h1M186 243h1M135 244h1M187 245h1M133 246h1M130 247h1M132 247h1M129 248h1M127 250h1M126 253h1M361 253h1M186 255h1M123 258h1M122 260h1M184 262h1M462 262h1M136 263h1M134 264h2M459 265h1M132 266h1M407 266h1M440 266h1M414 267h1M470 267h1M117 268h2M415 268h1M455 268h1M130 269h1M363 270h1M416 270h1M124 271h1M450 271h1M360 272h1M117 273h1M361 275h1M356 276h1M410 276h1M432 276h1M445 276h1M454 276h1M355 277h1M116 279h1M427 279h1M445 279h1M122 280h1M124 280h1M459 280h1M468 282h1M462 283h1M114 284h1M121 284h1M116 287h1M406 287h1M448 287h1M112 289h1M154 289h1M159 290h1M410 290h1M469 290h1M113 292h1M150 292h2M161 292h1M117 293h1M118 295h1M150 295h1M458 299h1M455 300h2M154 303h1M157 303h1M303 303h1M315 305h1M333 305h1M325 307h1M305 310h1M337 310h1M132 311h1M172 311h1M131 312h1M134 312h1M335 312h1M304 313h1M189 314h1M328 315h1M144 317h1M177 317h1M179 317h1M188 317h1M187 318h1M178 319h1M322 319h1M183 320h1M334 321h1M188 322h1M191 322h1M120 323h1M185 323h1M316 323h1M144 324h1M335 324h1M123 326h1M321 326h1M121 327h1M128 327h1M177 327h1M194 327h1M123 328h1M185 328h1M144 329h1M184 329h1M316 329h1M195 330h1M122 331h1M163 331h1M185 331h1M194 331h1M123 332h1M125 332h1M167 332h1M161 333h1M177 333h1M127 334h1M167 334h1M326 334h1M154 335h1M145 337h1M154 337h1M187 337h1M150 340h1M170 340h1M172 340h1M188 341h1M150 342h1M175 342h1M147 343h1M192 344h1M156 345h1M159 345h1M145 347h1M149 347h1M175 347h1M145 348h1M162 348h1M189 348h1M170 349h1M180 349h1M144 350h1M156 350h2M171 350h1M185 350h2M242 350h1M172 351h1M175 351h1M161 352h1M170 352h1M178 352h2M183 352h1M187 352h1M145 353h1M171 353h1M173 353h1M184 353h1M224 353h1M238 353h1M95 354h1M97 354h1M182 354h1M184 354h1M151 355h1M155 355h1M165 355h1M94 356h1M147 356h1M141 357h1M145 357h1M159 357h1M180 357h1M184 357h1M193 357h1M176 358h1M178 358h1M152 359h2M167 359h1M170 359h1M105 360h1M154 360h1M170 360h1M176 360h1M178 360h1M184 360h1M195 360h1M221 360h1M161 361h1M173 361h1M176 361h1M182 361h1M184 361h1M197 361h1M102 362h1M145 362h1M150 362h1M161 362h1M164 362h2M176 362h1M183 362h1M102 363h1M143 363h1M183 363h1M251 363h1M100 364h1M135 364h1M147 364h1M156 364h1M158 364h1M183 364h1M259 364h1M138 365h1M141 365h1M143 365h1M149 365h1M163 365h1M177 365h1M185 365h1M252 365h1M255 365h1M76 366h1M135 366h1M157 366h1M254 366h1M82 367h1M91 367h1M66 368h2M78 368h1M87 368h1M135 368h1M142 368h1M146 368h1M181 368h1M67 369h1M83 369h2M143 369h1M166 369h1M182 369h1M185 369h1M258 369h1M73 370h1M76 370h1M79 370h1M81 370h1M87 370h1M182 370h1M194 370h1M250 370h1M75 371h1M77 371h1M82 371h1M145 371h1M150 371h1M169 371h1M193 371h1M261 371h1M68 372h1M134 372h1M141 372h1M143 372h1M246 372h1M70 373h1M84 373h1M88 373h1M136 373h1M165 373h1M168 373h1M186 373h1M189 373h2M239 373h1M151 374h1M154 374h1M194 374h1M198 374h1M144 375h1M233 375h1M250 375h1M260 375h1M167 376h1M185 376h1M258 376h1M143 377h2M149 377h1M92 378h1M148 378h1M157 378h1M159 378h1M187 379h1M257 379h1M140 380h1M187 380h1M191 380h1M198 380h2M230 380h1M92 381h1M165 381h1M91 382h1M180 382h1M204 383h1M233 383h1M236 383h1M90 384h1M146 384h1M177 384h1M228 384h1M230 384h1M241 384h1M150 385h1M163 385h1M219 385h1M226 385h1M233 385h1M85 386h1M89 386h1M152 386h1M167 386h1M185 386h1M190 386h1M213 386h1M215 386h1M236 386h1M190 387h1M236 387h1M172 388h1M216 388h1M232 388h1M251 388h1M186 389h1M212 389h1M225 389h3M236 389h1M86 390h1M187 390h1M205 390h1M228 390h1M237 390h1M244 390h1M87 391h1M89 391h1M216 391h1M223 391h3M228 391h1M243 391h1M248 392h1M162 393h1M228 393h1M248 393h1M94 394h1M89 395h1M93 395h1M228 395h1M345 396h1M348 396h1M355 396h1M188 397h1M229 397h2M95 398h1M99 398h2M187 398h1M237 398h1M344 398h1M101 399h2M149 399h1M175 399h1M231 399h1M245 399h1M250 399h1M344 399h1M355 399h1M188 400h1M204 400h1M223 400h1M234 400h1M251 400h1M254 400h1M341 400h1M395 400h1M102 401h1M104 401h1M191 401h1M212 401h2M229 401h1M232 401h1M244 401h1M103 402h1M139 402h1M213 402h1M253 402h1M383 402h1M190 403h1M231 403h2M234 403h1M250 403h1M252 403h1M342 403h1M345 403h1M349 403h1M138 404h1M181 404h1M233 404h1M246 404h1M249 404h1M251 404h1M152 405h1M188 405h1M244 405h1M395 405h1M398 405h1M225 406h1M341 406h1M401 406h1M140 407h1M156 407h1M163 407h1M237 407h1M252 407h1M392 407h1M142 408h1M180 408h1M216 408h1M230 408h1M238 408h1M244 408h1M246 408h1M213 409h1M230 409h1M246 409h5M208 410h1M210 410h1M224 410h1M235 410h1M245 410h1M247 410h4M252 410h1M343 410h1M154 411h1M196 411h1M243 411h2M246 411h1M343 411h1M363 411h1M149 412h1M194 412h1M202 412h1M214 412h1M234 412h1M244 412h1M247 412h1M249 412h2M338 412h1M397 412h1M164 413h1M245 413h2M248 413h1M340 413h1M382 413h1M148 414h1M172 414h1M219 414h1M240 414h1M339 414h1M222 415h1M234 415h1M242 415h4M247 415h1M397 415h1M182 416h1M242 416h2M245 416h1M247 416h1M249 416h1M337 416h1M147 417h1M155 417h1M158 417h1M171 417h1M188 417h1M193 417h1M213 417h1M217 417h1M223 417h1M228 417h1M337 417h1M373 417h1M186 418h1M191 418h1M226 418h2M172 419h1M178 419h1M191 419h1M199 419h1M204 419h1M212 419h1M215 419h1M237 419h1M358 419h1M151 420h1M208 420h1M338 420h1M167 421h1M337 421h1M153 422h1M176 422h1M186 422h2M212 422h1M220 422h1M337 422h1M390 422h1M394 422h1M170 423h1M186 423h1M189 423h1M201 423h1M211 423h1M215 423h2M220 423h1M231 423h1M180 424h1M199 424h1M205 424h1M214 424h1M193 425h1M196 425h1M202 425h1M205 425h1M210 425h1M220 425h1M229 425h1M224 426h1M179 427h1M231 427h1M333 427h1M213 428h1M216 428h1M399 428h1M181 429h1M188 429h1M200 429h1M211 429h1M216 429h1M224 429h1M230 430h1M387 430h1M174 431h1M203 431h1M219 431h1M191 432h2M205 432h1M189 433h1M195 433h1M202 433h1M184 434h1M186 434h1M203 434h1M211 434h1M129 435h1M183 435h1M192 435h1M126 436h1M183 436h1M185 436h2M128 437h1M202 437h1M200 438h1M223 438h1M137 439h1M154 439h1M208 439h1M217 439h1M215 440h1M217 440h1M130 441h1M140 441h1M144 441h1M212 441h1M127 442h1M205 442h1M210 442h1M131 443h1M129 444h2M138 445h1M403 445h1M128 446h1M130 446h1M395 446h1M401 446h1M414 446h1M136 447h1M139 447h1M159 448h1M237 448h1M333 448h1M375 448h1M391 448h1M417 448h1M132 449h1M136 449h1M224 449h1M319 449h1M322 449h1M324 449h1M418 449h1M316 450h1M380 450h1M417 450h1M134 451h1M314 451h1M317 451h1M320 451h1M326 451h1M412 451h1M138 452h1M140 452h1M156 452h1M301 452h1M310 452h1M312 452h1M317 452h1M323 452h1M328 452h1M370 452h1M130 453h1M149 453h1M155 453h1M316 453h1M384 453h1M416 453h1M143 454h1M147 454h1M154 454h1M312 454h1M314 454h1M319 454h1M324 454h1M346 454h1M365 454h1M410 454h1M420 454h1M149 455h1M155 455h1M321 455h1M348 455h1M412 455h1M419 455h1M137 456h1M309 456h1M403 456h1M413 456h1M415 456h1M419 456h1M137 457h1M151 457h1M153 457h1M157 457h1M317 457h1M324 457h1M326 457h1M401 457h1M406 457h2M149 458h1M183 458h2M314 458h2M317 458h1M326 458h1M387 458h1M401 458h2M406 458h1M185 459h1M306 459h1M313 459h2M317 459h1M366 459h1M402 459h1M410 459h1M413 459h1M149 460h1M333 460h1M411 460h1M126 461h1M151 461h1M169 461h1M175 461h1M178 461h1M310 461h1M317 461h1M321 461h1M326 461h1M408 461h1M134 462h1M173 462h1M307 462h1M318 462h1M330 462h1M355 462h1M365 462h1M409 462h1M411 462h1M127 463h1M136 463h1M140 463h1M172 463h1M309 463h2M332 463h1M129 464h1M133 464h1M175 464h1M315 464h1M371 464h1M377 464h1M130 465h1M175 465h1M313 465h1M323 465h1M327 465h1M350 465h1M403 465h1M167 466h1M174 466h1M307 466h1M317 466h1M328 466h1M401 466h1M132 467h1M139 467h1M162 467h1M170 467h1M312 467h1M330 467h1M393 467h1M151 468h1M156 468h1M160 468h1M168 468h1M315 468h1M138 469h1M143 469h1M153 469h1M308 469h1M310 469h1M316 469h1M320 469h1M327 469h1M329 469h2M136 470h1M140 470h1M157 470h1M162 470h1M167 470h1M311 470h1M316 470h1M325 470h2M331 470h1M145 471h2M158 471h1M163 471h1M166 471h1M312 471h2M323 471h3M329 471h1M137 472h2M154 472h1M159 472h1M326 472h1M328 472h1M138 473h1M146 473h1M149 473h1M160 473h1M319 473h1M325 473h1M140 474h1M148 474h1M159 474h1M318 474h1M154 475h1M311 475h1M148 476h2M151 476h1M155 476h1M324 476h1M150 477h1"/>
<path stroke="#411172" d="M265 80h1M255 84h1M273 86h1M248 87h1M256 87h1M281 91h1M256 92h1M260 92h1M294 93h1M296 93h1M130 94h1M280 95h1M274 96h1M273 99h1M331 100h1M271 101h1M288 101h1M246 103h1M254 104h1M315 104h1M318 104h1M327 104h2M265 105h1M278 105h1M268 106h1M326 106h1M263 107h1M249 109h1M302 109h1M311 109h1M254 113h1M298 113h1M286 114h1M283 115h1M305 116h1M256 117h1M269 117h1M295 119h1M289 120h1M252 121h1M425 122h1M432 122h1M434 123h1M317 124h1M239 125h1M268 126h1M327 126h1M429 126h1M325 128h1M250 129h1M309 129h1M315 129h1M260 130h1M311 130h1M293 131h1M309 131h1M432 131h1M266 132h1M282 132h1M311 132h1M307 134h1M435 134h1M234 135h1M238 135h1M232 136h1M330 136h1M332 138h1M231 139h1M237 140h1M297 140h1M253 142h1M289 142h1M323 142h1M339 142h1M237 143h1M248 148h1M285 148h1M302 148h1M298 151h1M262 153h1M291 156h1M262 157h1M246 159h1M249 159h1M317 160h1M322 160h1M262 161h1M273 165h1M287 165h1M256 166h1M281 166h1M283 168h1M272 172h1M276 173h1M304 185h1M331 187h1M331 192h1M280 194h1M284 203h1M316 204h1M98 206h1M270 207h1M303 207h1M106 209h1M311 210h1M109 211h1M270 211h1M292 211h1M123 212h1M91 213h3M98 213h1M124 213h2M128 213h1M114 214h1M120 214h1M122 214h1M132 214h1M313 214h1M88 215h1M104 215h2M307 215h1M313 215h1M90 216h1M110 216h1M113 216h1M133 216h1M139 216h1M94 217h1M97 217h1M99 217h1M105 217h2M146 217h1M263 217h1M98 218h1M101 218h1M104 218h1M107 218h1M85 219h1M91 219h1M101 219h1M142 219h1M152 219h1M88 220h1M100 220h1M154 220h1M96 221h1M144 221h1M273 221h1M298 221h1M128 222h1M262 223h1M156 224h1M190 224h1M265 225h1M159 226h1M165 226h1M153 229h1M130 230h1M190 230h1M189 231h1M194 232h1M192 233h1M155 234h1M161 234h1M191 234h2M279 234h1M153 235h1M155 235h1M160 235h1M193 236h1M148 237h1M190 237h1M146 238h1M134 244h1M136 244h1M132 246h1M179 246h1M186 247h1M186 251h1M169 252h1M125 253h1M124 254h1M184 254h1M124 256h1M183 256h1M123 257h1M122 258h1M183 258h1M183 259h1M469 261h1M120 262h1M136 262h1M137 263h1M134 265h1M186 265h1M466 266h1M118 267h1M131 268h1M435 269h1M447 269h1M464 269h1M128 270h2M432 270h1M457 270h1M422 271h1M433 271h1M117 272h1M464 272h1M116 273h1M423 275h1M416 276h1M452 276h1M416 277h1M118 279h1M440 279h1M422 281h1M120 282h1M117 284h1M407 285h1M424 285h1M422 287h1M117 288h1M123 288h1M422 289h1M111 290h1M124 290h1M152 290h1M111 291h1M113 291h1M148 291h1M151 291h1M154 291h1M466 291h1M112 292h1M119 294h1M294 298h1M456 298h1M151 299h1M294 300h1M326 300h1M460 302h1M155 305h2M158 305h1M467 305h1M472 305h1M305 307h1M318 310h1M133 311h1M139 311h1M133 312h1M135 313h1M150 315h1M128 316h1M185 316h1M327 316h1M335 316h1M183 317h1M193 317h1M308 317h1M186 318h1M194 318h1M323 318h1M336 318h1M330 320h1M310 321h2M124 322h1M140 322h1M187 322h1M180 323h1M334 323h1M310 326h1M122 327h1M134 327h1M173 327h1M310 327h1M172 328h1M306 329h1M128 330h1M139 330h1M172 330h1M193 330h1M329 330h1M188 331h1M318 331h1M131 333h1M151 333h1M193 333h1M324 333h1M130 334h1M170 334h1M189 335h1M197 335h1M164 336h1M194 336h1M198 336h1M313 336h1M193 337h1M170 338h1M199 338h1M310 338h1M315 338h1M147 339h1M149 339h1M160 339h1M169 339h1M173 339h1M331 339h1M191 340h1M215 340h1M313 340h1M178 341h1M148 342h1M151 342h1M167 342h1M320 343h1M172 344h1M188 344h1M232 344h1M322 344h1M168 345h1M223 345h1M171 346h1M192 346h1M154 347h1M157 347h1M163 347h1M172 348h1M155 349h1M172 349h1M178 349h1M152 350h1M178 350h1M189 350h1M166 351h2M143 352h1M153 352h1M180 352h1M238 352h1M242 352h1M96 353h1M154 353h1M162 353h1M181 353h1M172 354h1M180 354h2M159 355h1M170 355h1M178 355h1M180 355h1M183 355h1M153 356h1M171 356h2M152 357h1M173 357h1M175 357h1M181 357h1M187 357h1M105 358h1M107 358h1M138 358h1M142 358h1M171 358h1M180 358h1M107 359h1M183 359h1M229 359h1M151 360h1M156 360h1M172 360h1M174 360h1M242 360h1M103 361h1M137 361h1M152 361h1M159 361h1M167 361h1M178 361h1M180 361h2M183 361h1M104 362h1M143 362h1M171 362h1M173 362h1M177 362h1M180 362h1M184 362h1M250 362h1M103 363h1M157 363h1M163 363h1M173 363h2M199 363h1M254 363h1M99 364h1M162 364h1M170 364h1M174 364h1M181 364h2M185 364h1M254 364h1M256 364h1M77 365h1M79 365h1M100 365h1M160 365h1M166 365h1M179 365h1M251 365h1M140 366h1M144 366h1M151 366h1M154 366h1M177 366h1M179 366h2M237 366h1M242 366h1M252 366h1M75 367h1M163 367h1M174 367h1M212 367h1M253 367h2M68 368h1M82 368h1M86 368h1M88 368h1M138 368h1M150 368h1M261 368h1M72 369h1M75 369h1M140 369h1M144 369h1M164 369h1M167 369h1M190 369h2M222 369h1M141 370h1M189 370h1M239 370h1M86 371h1M153 371h2M167 371h1M173 371h1M250 371h1M74 372h1M87 372h1M89 372h1M138 372h1M198 372h1M253 372h2M258 372h1M155 373h1M172 373h1M254 373h2M91 374h2M187 374h1M227 374h1M229 374h1M250 374h1M252 374h1M137 375h1M192 375h1M257 375h1M148 376h1M188 376h1M256 376h1M166 377h1M190 377h1M258 377h1M260 377h1M138 378h2M149 378h1M166 378h1M256 378h1M174 379h1M241 380h1M224 381h1M246 381h1M92 382h1M157 382h1M162 383h1M188 383h1M200 383h1M237 383h1M88 384h1M165 384h1M186 384h1M210 384h1M250 384h1M88 385h1M90 385h1M92 385h1M161 385h1M187 385h1M227 385h1M238 385h1M143 386h1M156 386h1M211 386h1M214 386h1M216 386h1M227 386h1M232 386h2M238 386h1M159 387h1M181 387h1M185 387h2M213 387h1M215 387h4M221 387h1M234 387h2M85 388h1M212 388h1M222 388h1M238 388h1M247 388h1M87 389h1M89 389h1M187 389h2M192 389h1M208 389h2M219 389h1M231 389h1M234 389h1M240 389h1M88 390h1M93 390h1M191 390h1M202 390h1M206 390h1M212 390h1M220 390h1M234 390h1M162 391h1M198 391h1M234 391h1M179 392h1M186 392h1M189 392h1M198 392h1M216 392h1M227 392h1M240 392h1M384 392h1M187 393h1M189 393h1M207 393h1M219 393h1M391 393h1M88 394h1M205 394h1M224 394h1M233 394h1M238 394h1M192 395h1M221 395h1M347 395h1M198 396h1M210 396h1M218 396h1M231 396h1M93 397h1M95 397h1M197 397h1M236 397h1M383 397h1M389 397h1M96 398h1M193 398h1M202 398h1M212 398h2M226 398h1M346 398h1M350 398h1M95 399h2M137 399h1M144 399h1M154 399h1M162 399h1M185 399h1M192 399h1M197 399h1M215 399h1M220 399h1M230 399h1M235 399h1M384 399h1M395 399h1M102 400h1M104 400h2M137 400h1M139 400h1M151 400h1M161 400h1M174 400h1M187 400h1M242 400h3M252 400h1M344 400h1M390 400h1M155 401h1M185 401h1M192 401h1M230 401h1M233 401h1M344 401h1M106 402h1M172 402h1M190 402h1M201 402h1M218 402h1M234 402h2M342 402h1M344 402h1M155 403h1M188 403h2M191 403h1M241 403h1M244 403h1M340 403h1M343 403h2M346 403h2M141 404h1M157 404h1M183 404h1M189 404h1M343 404h1M385 404h1M189 405h1M196 405h2M207 405h2M229 405h2M249 405h1M385 405h1M397 405h1M182 406h1M187 406h1M195 406h1M214 406h1M237 406h1M248 406h2M386 406h1M141 407h1M182 407h1M204 407h1M209 407h1M212 407h1M344 407h1M347 407h1M391 407h1M394 407h1M154 408h1M220 408h1M249 408h1M139 409h1M145 409h1M178 409h1M186 409h1M194 409h1M199 409h1M219 409h2M234 409h1M241 409h1M243 409h1M375 409h1M397 409h1M152 410h1M155 410h1M183 410h1M195 410h1M200 410h1M226 410h1M230 410h1M346 410h1M379 410h1M166 411h1M181 411h1M190 411h1M192 411h1M237 411h1M250 411h1M362 411h1M367 411h1M376 411h1M391 411h1M396 411h1M206 412h1M236 412h1M238 412h1M346 412h2M152 413h1M161 413h1M189 413h1M197 413h2M220 413h1M222 413h1M224 413h1M230 413h1M232 413h1M396 413h1M173 414h1M221 414h1M244 414h2M381 414h1M402 414h2M164 415h1M177 415h1M181 415h1M184 415h1M187 415h3M200 415h1M205 415h1M230 415h1M232 415h1M240 415h1M337 415h1M360 415h1M179 416h1M199 416h1M201 416h1M207 416h1M220 416h1M229 416h1M231 416h1M248 416h1M388 416h1M162 417h1M203 417h1M237 417h1M242 417h1M246 417h3M163 418h1M169 418h1M192 418h1M199 418h1M209 418h1M218 418h1M234 418h2M384 418h1M152 419h2M165 419h2M170 419h1M181 419h1M186 419h1M190 419h1M193 419h1M224 419h2M242 419h2M150 420h1M163 420h1M192 420h2M205 420h2M242 420h1M246 420h1M337 420h1M175 421h1M187 421h1M197 421h1M211 421h1M219 421h1M225 421h1M404 421h1M177 422h1M200 422h1M209 422h1M217 422h1M221 422h1M223 422h1M239 422h1M241 422h2M244 422h1M404 422h1M206 423h1M228 423h1M244 423h1M159 424h1M173 424h1M182 424h1M185 424h1M200 424h1M221 424h1M228 424h1M235 424h1M239 424h1M366 424h1M166 425h1M195 425h1M197 425h1M232 425h1M360 425h1M189 426h1M191 426h1M195 426h1M199 426h1M222 426h1M352 426h1M171 427h1M178 427h1M187 427h1M190 427h1M202 427h1M218 427h1M228 427h1M211 428h1M221 428h2M333 428h1M397 428h1M170 429h1M193 430h1M207 430h1M212 430h1M216 430h1M222 430h1M182 431h1M195 431h1M218 431h1M193 432h1M197 432h1M206 432h1M209 432h1M213 432h1M390 432h1M197 433h1M215 433h1M183 434h1M188 434h1M198 434h1M389 434h1M187 435h1M190 435h1M198 435h1M203 435h1M226 435h1M187 436h1M195 436h1M201 436h1M205 436h1M223 436h1M404 436h1M184 437h1M187 437h2M212 437h1M215 437h1M222 437h1M394 437h1M184 438h1M186 438h1M189 438h2M192 438h1M197 438h1M209 438h1M214 438h1M218 438h1M187 439h1M189 439h1M205 439h1M214 439h1M407 439h1M185 440h1M196 440h1M198 440h1M200 440h2M213 440h2M184 441h4M201 441h2M207 441h1M220 441h1M398 441h1M187 442h1M211 442h2M395 442h1M400 442h1M205 443h1M207 443h1M399 443h1M133 444h1M127 445h1M133 445h1M140 445h1M182 445h1M390 445h1M395 445h1M415 445h1M392 446h1M137 447h2M143 447h1M369 448h1M412 448h1M158 449h1M382 449h1M392 449h1M415 449h1M417 449h1M146 450h1M323 450h1M347 450h1M415 450h1M146 451h1M311 451h1M316 451h1M322 451h1M324 451h1M409 451h1M413 451h1M415 451h1M419 451h1M318 452h1M410 452h1M418 452h1M183 453h1M325 453h1M328 453h1M411 453h2M414 453h1M127 454h1M408 454h1M307 455h1M311 455h1M320 455h1M413 455h3M417 455h2M131 456h1M139 456h1M147 456h1M154 456h1M307 456h1M326 456h2M417 456h2M132 457h1M154 457h1M156 457h1M309 457h1M325 457h1M356 457h1M414 457h1M127 458h1M322 458h1M330 458h1M350 458h1M403 458h1M412 458h1M414 458h1M416 458h1M133 459h1M152 459h1M177 459h1M308 459h1M327 459h1M329 459h1M381 459h1M396 459h1M403 459h1M406 459h1M416 459h1M143 460h1M183 460h1M322 460h1M324 460h1M374 460h1M406 460h1M414 460h1M416 460h1M127 461h1M144 461h1M168 461h1M311 461h1M323 461h1M328 461h1M332 461h1M388 461h1M405 461h1M410 461h1M137 462h1M171 462h1M315 462h2M321 462h1M323 462h1M332 462h1M387 462h1M390 462h1M407 462h1M410 462h1M412 462h2M137 463h1M168 463h1M175 463h1M327 463h1M342 463h1M172 464h1M320 464h2M324 464h2M327 464h1M411 464h1M128 465h1M149 465h1M167 465h2M307 465h1M310 465h1M318 465h1M320 465h1M395 465h1M145 466h1M308 466h1M322 466h1M330 466h1M357 466h1M406 466h1M408 466h1M135 467h2M144 467h1M165 467h1M307 467h1M310 467h2M314 467h1M316 467h1M320 467h1M323 467h1M332 467h1M366 467h1M371 467h1M384 467h1M388 467h1M403 467h1M132 468h1M135 468h1M140 468h1M143 468h1M164 468h1M308 468h1M310 468h1M316 468h1M325 468h1M329 468h1M137 469h1M145 469h1M158 469h1M163 469h2M167 469h1M312 469h1M315 469h1M318 469h1M138 470h1M156 470h1M158 470h1M164 470h1M307 470h2M310 470h1M330 470h1M134 471h1M152 471h1M164 471h2M321 471h1M330 471h1M141 472h1M158 472h1M163 472h1M311 472h1M315 472h1M320 472h1M144 473h1M150 473h3M313 473h1M320 473h1M156 474h1M327 474h1M150 475h1M156 475h1M324 475h1M314 476h1M318 476h1M154 477h1"/>
<path stroke="#531579" d="M170 27h1M171 29h2M172 30h2M172 31h1M172 32h1M172 34h2M177 34h1M177 41h1M180 45h1M182 47h1M182 48h1M181 49h1M250 82h1M264 84h1M270 84h1M259 87h1M262 87h1M261 91h1M273 92h1M309 92h1M121 93h1M139 93h1M272 94h1M248 95h1M141 96h1M146 96h1M312 96h1M142 97h1M272 98h1M265 99h1M139 100h1M316 100h1M273 101h1M250 104h1M325 105h1M243 106h1M280 106h1M252 107h1M242 108h1M280 109h1M240 110h1M291 110h2M257 111h1M424 111h1M220 112h1M262 113h1M288 115h1M419 115h1M240 116h1M430 117h1M295 118h1M444 118h1M291 119h1M422 119h1M430 120h2M283 122h1M294 122h1M291 123h1M307 123h1M251 124h1M272 124h1M424 124h1M233 125h1M295 125h1M307 127h1M279 129h1M436 130h1M423 131h1M437 131h1M258 133h1M294 134h1M338 134h1M431 136h1M311 137h1M317 137h1M280 139h1M244 141h1M296 141h2M328 141h1M259 142h1M299 142h1M317 142h1M242 144h1M303 144h1M252 146h1M333 148h1M310 149h1M308 152h1M244 154h1M315 154h1M250 155h1M280 155h1M325 156h1M307 157h1M323 157h1M251 158h1M329 159h1M275 160h1M296 161h1M265 164h1M297 164h1M274 165h1M259 168h1M284 168h1M326 169h1M279 173h1M270 184h1M310 185h1M435 190h1M310 191h1M278 195h1M330 195h1M279 197h1M326 200h1M326 202h1M275 205h1M287 205h1M110 206h1M286 206h1M325 207h1M95 209h1M299 209h1M96 211h1M123 211h1M259 211h1M313 211h1M124 212h1M128 212h1M117 213h1M123 213h1M88 214h2M91 214h1M93 214h1M108 214h2M111 214h1M117 214h1M126 214h1M129 214h1M134 214h1M91 215h1M117 215h1M120 215h1M262 215h1M309 215h1M86 216h2M93 216h1M99 216h1M106 216h2M112 216h1M115 216h1M117 216h1M140 216h1M315 216h1M91 217h1M101 217h1M114 217h1M138 217h1M298 217h1M85 218h1M89 219h1M97 219h1M146 219h1M153 219h1M251 219h1M263 219h1M94 220h1M98 220h1M148 220h1M150 220h1M156 220h1M182 220h1M146 221h1M147 223h1M184 223h1M168 225h1M125 226h1M150 226h1M275 226h1M151 227h2M162 227h1M167 227h1M189 227h1M270 227h1M153 228h1M266 228h1M184 229h1M132 230h1M154 230h1M191 231h1M189 235h1M191 238h1M183 241h1M141 242h1M137 243h1M140 243h1M132 245h1M131 246h1M183 247h1M170 251h1M125 252h1M125 254h1M121 262h1M428 262h1M120 263h1M119 264h1M426 264h1M131 266h1M183 266h1M426 266h1M130 267h3M357 267h1M130 268h1M117 270h1M126 270h1M183 270h1M128 271h1M449 271h1M116 272h1M433 272h1M456 273h1M116 274h1M410 274h1M116 275h1M416 275h1M424 277h1M429 277h1M443 277h1M411 279h1M473 279h1M116 280h1M126 280h1M466 280h1M117 281h1M123 281h1M408 281h1M469 281h1M409 282h1M457 282h1M117 283h1M149 283h1M418 283h1M149 284h1M152 284h1M127 288h1M113 289h1M115 289h1M122 289h1M115 290h1M418 290h1M477 290h1M117 291h1M149 291h1M156 292h1M114 293h1M475 294h1M153 299h1M321 299h1M463 299h1M152 301h1M320 301h1M463 301h1M154 302h1M300 302h1M157 304h1M159 305h1M301 307h1M302 308h1M315 309h1M136 310h1M151 310h1M130 312h1M153 312h1M135 314h1M331 315h1M334 315h1M126 319h1M305 320h1M124 321h1M126 321h1M187 321h1M125 322h1M308 323h1M325 323h1M194 326h1M127 327h1M125 329h1M184 330h1M145 331h1M332 331h1M158 332h2M186 332h1M193 332h1M157 333h2M183 333h1M158 334h1M204 334h1M332 335h1M332 336h1M158 337h1M183 337h1M188 337h1M310 337h1M313 337h1M318 337h1M149 338h1M168 338h1M174 338h1M176 339h1M189 339h1M176 340h1M147 341h1M196 341h1M166 342h1M196 342h1M163 344h1M155 345h1M173 345h1M181 345h1M193 345h1M152 347h1M167 347h1M161 348h1M154 349h1M160 349h1M174 349h3M190 349h1M147 350h1M174 350h1M181 350h2M157 351h1M176 351h1M181 351h1M171 352h1M214 352h1M108 353h1M149 353h1M174 353h2M185 353h1M96 354h1M144 354h1M153 354h1M157 354h1M164 355h1M172 355h1M174 355h1M176 355h1M181 355h2M187 355h1M200 355h1M92 356h1M166 356h1M176 356h1M181 356h1M224 356h1M247 356h1M92 357h1M106 357h1M153 357h1M185 357h1M225 357h1M106 358h1M140 358h2M146 358h1M151 358h1M157 358h1M159 358h1M173 358h1M194 358h1M105 359h1M150 359h1M165 359h1M169 359h1M173 359h1M177 359h1M179 359h1M104 360h1M144 360h1M150 360h1M152 360h1M161 360h1M175 360h1M177 360h1M179 360h1M187 360h1M92 361h1M104 361h1M144 361h1M147 361h1M166 361h1M93 362h1M159 362h1M168 362h1M96 363h1M146 363h1M160 363h1M171 363h1M179 363h1M185 363h1M195 363h1M101 364h1M145 364h2M149 364h1M175 364h1M178 364h1M135 365h1M155 365h1M172 365h1M180 365h1M182 365h1M134 366h1M152 366h1M185 366h1M250 366h1M66 367h1M80 367h1M164 367h2M168 367h1M180 367h1M182 367h1M231 367h1M255 367h1M81 368h1M83 368h1M89 368h1M156 368h1M171 368h1M191 368h1M71 369h1M80 369h1M85 369h1M163 369h1M188 369h1M83 370h1M135 370h1M159 370h1M257 370h1M260 370h1M71 371h2M89 371h1M144 371h1M194 371h1M198 371h1M147 372h1M192 372h1M194 372h1M196 372h1M197 373h1M138 374h1M146 374h1M90 375h1M142 375h1M189 375h1M224 375h1M153 376h1M161 376h1M179 376h1M218 376h1M150 378h1M170 378h1M254 378h1M166 379h1M183 379h1M189 379h1M193 379h1M195 379h1M250 379h1M255 379h1M92 380h1M147 380h1M161 381h1M202 381h1M168 382h1M184 382h1M188 382h1M197 382h1M202 382h2M141 383h1M145 383h1M203 383h1M235 383h1M185 384h1M86 385h1M152 385h1M190 385h1M193 385h1M237 385h1M140 386h1M187 386h2M208 386h1M226 386h1M234 386h1M162 387h1M229 387h1M87 388h1M184 388h1M187 388h1M213 388h1M233 388h1M86 389h1M189 389h1M210 389h1M213 389h1M89 390h1M175 390h1M203 390h1M223 390h1M86 391h1M169 391h1M185 391h1M187 391h1M197 391h1M230 391h1M237 391h1M173 392h1M184 392h1M194 392h1M231 392h1M92 393h1M94 393h1M217 393h1M237 393h1M90 394h2M187 394h1M221 394h1M242 394h1M348 394h1M208 395h1M210 395h1M237 395h1M344 395h1M89 396h1M190 396h1M235 396h2M352 396h1M386 396h1M96 397h1M186 397h1M206 397h1M214 397h1M217 397h1M240 397h1M244 397h1M342 397h1M375 397h1M216 398h1M235 398h1M243 398h1M388 398h1M171 399h1M217 399h1M241 399h1M247 399h1M393 399h1M159 400h1M189 400h1M192 400h2M230 400h1M233 400h1M371 400h1M168 401h1M171 401h1M198 401h1M251 401h1M348 401h1M182 402h1M216 402h1M219 402h1M221 402h1M247 402h1M377 402h1M387 402h1M389 402h1M178 403h1M193 403h1M226 403h1M230 403h1M235 403h1M242 403h1M247 403h2M251 403h1M381 403h1M385 403h1M142 404h1M147 404h1M158 404h1M164 404h1M172 404h1M184 404h1M187 404h1M192 404h1M200 404h1M202 404h1M217 404h1M221 404h1M239 404h1M222 405h1M231 405h2M235 405h1M237 405h1M248 405h1M252 405h1M347 405h1M382 405h1M139 406h1M165 406h1M171 406h1M183 406h1M198 406h1M207 406h1M222 406h1M224 406h1M238 406h1M240 406h1M245 406h1M343 406h1M379 406h1M189 407h1M193 407h1M210 407h1M216 407h1M233 407h1M371 407h1M400 407h1M178 408h1M231 408h1M239 408h1M375 408h1M388 408h1M154 409h1M156 409h1M160 409h1M172 409h1M205 409h1M228 409h1M240 409h1M399 409h1M177 410h1M187 410h1M342 410h1M404 410h1M172 411h1M178 411h1M188 411h1M216 411h1M222 411h1M225 411h1M247 411h1M249 411h1M403 411h1M144 412h1M155 412h1M164 412h1M187 412h1M199 412h1M213 412h1M228 412h1M246 412h1M372 412h1M212 413h1M218 413h1M235 413h1M242 413h1M244 413h1M247 413h1M400 413h1M168 414h1M175 414h1M186 414h1M188 414h1M220 414h1M222 414h1M225 414h1M242 414h1M163 415h1M168 415h1M183 415h1M191 415h1M193 415h1M207 415h1M209 415h1M214 415h1M248 415h2M388 415h1M180 416h1M183 416h1M188 416h1M192 416h1M196 416h1M224 416h1M233 416h1M390 416h1M149 417h1M160 417h1M174 417h1M185 417h1M216 417h1M218 417h2M392 417h1M399 417h1M145 418h1M147 418h1M158 418h1M197 418h1M219 418h1M246 418h1M171 419h1M174 419h1M203 419h1M211 419h1M236 419h1M148 420h1M212 420h1M226 420h2M240 420h1M245 420h1M342 420h1M361 420h1M158 421h1M185 421h1M194 421h1M205 421h1M240 421h1M155 422h1M192 422h1M243 422h1M360 422h1M393 422h1M163 423h1M188 423h1M197 423h1M218 423h1M229 423h1M238 423h1M204 424h1M227 424h1M232 424h1M241 424h1M160 425h1M191 425h1M194 425h1M199 425h1M214 425h1M216 425h1M222 425h1M239 425h1M242 425h1M203 426h1M214 426h1M220 426h1M231 426h1M237 426h4M242 426h1M361 426h1M172 427h2M192 427h1M200 427h2M206 427h1M224 427h1M226 427h1M234 427h1M236 427h3M240 427h1M187 428h1M212 428h1M214 428h1M232 428h1M237 428h1M168 429h1M191 429h1M195 429h2M202 429h1M234 429h1M176 430h1M199 430h1M213 430h1M220 430h1M235 430h1M238 430h1M201 431h1M229 431h1M232 431h1M234 431h1M237 431h1M185 432h1M207 432h1M224 432h1M236 432h2M183 433h1M220 433h2M179 434h1M222 434h1M386 434h1M405 434h1M186 435h1M188 435h1M397 435h1M202 436h1M212 436h1M215 436h1M359 436h1M224 437h1M187 438h2M191 438h1M211 438h2M219 438h1M190 439h1M192 439h1M200 439h1M203 439h1M398 439h1M400 439h1M189 440h1M195 440h1M351 440h1M193 441h1M190 442h1M201 442h1M206 442h1M208 442h1M129 443h1M215 443h1M398 443h1M414 443h1M127 444h1M137 444h1M213 444h1M237 444h1M403 444h1M131 445h2M137 445h1M141 446h1M161 446h1M230 446h1M128 447h1M229 447h1M126 448h1M137 448h1M180 448h1M231 448h1M397 448h1M405 448h1M414 448h1M133 449h1M142 449h1M144 449h2M234 449h1M333 449h1M126 450h1M129 450h1M144 450h1M317 450h1M406 450h1M409 450h1M140 451h1M417 451h1M143 452h1M309 452h1M322 452h1M327 452h1M419 452h1M299 453h1M307 453h1M379 453h1M395 453h1M399 453h1M410 453h1M132 454h2M138 454h1M308 454h1M323 454h1M411 454h1M130 455h1M135 455h1M144 455h2M152 455h1M317 455h1M323 455h1M403 455h1M409 455h1M420 455h1M308 456h1M321 456h1M351 456h1M363 456h1M416 456h1M149 457h2M318 457h1M327 457h1M359 457h1M399 457h1M413 457h1M131 458h1M159 458h1M310 458h1M321 458h1M383 458h1M400 458h1M405 458h1M409 458h2M413 458h1M415 458h1M128 459h2M180 459h1M307 459h1M316 459h1M331 459h1M375 459h1M385 459h1M400 459h1M404 459h1M414 459h1M417 459h1M128 460h1M144 460h1M157 460h1M161 460h1M179 460h1M310 460h1M368 460h1M371 460h1M128 461h1M140 461h1M150 461h1M162 461h1M164 461h1M177 461h1M320 461h1M335 461h1M404 461h1M406 461h2M411 461h1M149 462h1M169 462h1M180 462h1M308 462h1M320 462h1M331 462h1M382 462h1M317 463h1M328 463h1M378 463h1M380 463h1M413 463h1M142 464h1M307 464h1M367 464h1M372 464h1M403 464h1M141 465h1M148 465h1M166 465h1M169 465h1M367 465h1M394 465h1M401 465h2M142 466h1M165 466h1M312 466h1M405 466h1M163 467h1M169 467h1M321 467h1M405 467h1M131 468h1M134 468h1M145 468h1M307 468h1M309 468h1M323 468h2M133 469h2M159 469h1M313 469h2M135 470h1M146 470h1M314 470h1M332 470h1M139 471h1M141 471h1M314 471h1M328 471h1M142 472h1M309 472h1M325 472h1M140 473h1M158 473h1M310 473h1M142 474h1M146 474h1M149 475h1M312 475h1M322 475h1M325 475h1M156 476h1"/>
<path stroke="#641a80" d="M266 79h1M250 83h1M272 86h1M275 86h1M301 90h1M143 93h1M242 95h1M321 96h1M287 98h1M325 99h1M277 100h1M324 100h1M328 100h1M331 104h1M242 105h1M274 106h1M249 110h1M294 111h2M428 111h1M427 112h1M287 113h1M310 113h1M233 114h1M255 115h1M318 115h1M327 115h1M233 116h1M296 117h1M245 118h1M437 118h1M246 119h1M280 120h1M309 120h1M335 120h1M289 121h1M430 121h1M231 123h1M251 123h1M244 125h1M437 126h1M264 128h1M278 128h1M311 128h1M422 128h1M296 129h1M243 130h1M335 131h1M298 135h1M307 137h1M269 140h1M311 141h1M277 142h1M264 144h1M309 145h1M260 146h1M297 148h1M255 151h1M286 152h1M252 155h1M295 157h1M294 161h1M319 161h1M271 165h1M278 165h1M267 173h1M299 182h1M332 182h1M332 191h1M323 193h1M290 195h1M324 195h1M309 196h1M328 197h1M325 198h3M236 200h1M101 204h1M318 205h1M96 206h1M263 206h1M106 208h1M112 208h1M98 209h1M103 209h1M105 209h1M300 209h1M101 210h1M315 212h1M113 213h1M122 213h1M129 213h1M125 214h1M270 214h1M306 214h1M108 215h1M132 215h1M104 216h1M137 216h1M83 217h1M85 217h1M266 217h1M267 218h1M87 219h1M181 219h1M295 219h1M95 220h2M99 220h1M151 221h1M154 221h1M156 221h1M148 225h1M254 225h1M166 226h1M271 227h1M157 228h1M127 230h1M269 230h1M191 241h1M186 242h1M188 242h1M133 245h1M172 248h1M185 248h1M128 250h1M127 251h1M183 251h1M185 260h1M364 261h1M453 262h1M136 264h1M119 265h1M133 265h1M361 265h1M365 266h1M446 266h1M413 267h1M451 267h1M471 267h1M183 268h1M472 268h1M413 269h1M117 271h1M127 271h1M427 271h1M459 272h1M472 272h1M444 273h1M118 275h1M407 275h1M429 275h1M440 276h1M115 278h1M125 279h1M127 280h1M115 281h1M119 281h1M411 281h1M440 282h1M170 283h1M424 283h1M405 284h1M124 285h1M148 285h1M150 285h1M442 285h1M123 286h1M456 286h1M477 286h1M112 287h1M119 288h1M478 288h1M432 289h1M448 289h1M123 290h1M116 295h2M155 295h1M467 300h1M303 301h1M331 306h1M467 306h1M328 307h1M471 308h1M325 311h1M313 314h1M187 315h1M327 315h1M126 320h1M335 320h1M314 321h1M317 322h1M122 323h1M139 323h1M122 325h1M323 325h1M334 326h1M306 328h1M169 329h1M315 329h1M154 330h1M134 331h1M192 331h1M171 332h1M126 333h1M132 334h1M179 334h1M155 335h1M133 336h1M158 336h1M160 336h1M197 336h1M156 337h1M184 338h1M152 339h1M156 339h1M152 340h1M162 342h1M187 342h1M154 343h1M157 343h1M182 343h1M181 344h1M188 345h1M155 347h1M171 347h2M193 347h1M174 348h1M177 348h1M151 349h1M161 349h1M143 350h1M164 350h1M170 350h1M177 350h1M183 350h1M161 351h1M169 351h1M150 352h1M167 352h1M152 353h1M157 353h1M158 354h1M173 354h1M185 354h1M188 354h1M93 355h1M95 355h2M139 355h1M173 355h1M175 355h1M185 355h1M148 356h1M152 356h1M156 356h1M162 356h1M165 356h1M186 356h1M144 357h1M147 357h1M186 357h1M188 357h1M148 358h1M175 358h1M184 358h1M181 359h2M106 360h1M157 360h1M180 360h1M174 361h1M185 361h1M187 361h1M191 361h1M229 361h1M136 362h1M146 362h1M170 362h1M186 362h1M245 362h1M101 363h1M154 363h1M165 363h1M181 363h2M243 363h1M245 363h1M78 364h1M143 364h1M148 364h1M165 364h1M169 364h1M171 364h1M137 365h1M156 365h1M167 366h1M181 366h1M78 367h1M83 367h1M85 367h1M90 367h1M178 367h1M74 368h1M141 368h1M160 368h1M174 368h1M196 368h1M66 369h1M89 369h2M145 369h1M211 369h1M67 370h2M158 370h1M68 371h1M73 371h1M157 371h2M163 371h3M172 371h1M73 372h1M170 372h1M175 372h1M140 373h1M158 373h1M162 374h1M168 374h1M189 374h1M193 374h1M91 375h2M147 375h2M167 375h1M247 375h2M255 375h1M143 376h1M186 376h1M198 376h1M141 377h1M165 377h1M174 377h1M179 377h1M250 377h1M143 378h1M158 378h1M194 378h1M237 378h1M139 379h2M148 380h1M179 380h1M181 380h1M144 381h1M177 381h1M199 381h1M90 382h1M177 382h1M186 382h1M91 383h1M146 383h1M181 383h1M254 383h1M176 384h1M238 384h1M141 385h1M156 385h1M182 385h1M86 386h1M88 386h1M92 386h1M150 386h1M173 386h1M186 386h1M229 386h1M235 386h1M87 387h2M152 387h1M164 387h1M169 387h1M184 387h1M86 388h1M88 388h1M174 388h1M186 388h1M190 388h1M223 388h1M91 389h1M180 389h1M223 389h1M171 390h1M189 390h1M216 390h1M235 390h1M241 390h1M165 391h1M191 391h1M200 391h2M222 391h1M242 391h1M87 392h1M90 392h1M158 392h1M197 392h1M221 392h1M93 393h1M188 393h1M200 393h1M204 393h1M218 393h1M241 393h1M93 394h1M180 394h1M88 395h1M91 395h1M380 395h1M386 395h1M91 396h1M188 396h1M238 396h1M344 396h1M347 396h1M192 397h1M226 397h1M235 397h1M182 398h1M227 398h1M229 398h1M380 398h1M97 399h1M155 399h1M187 399h1M201 399h1M208 399h1M196 400h1M379 400h1M142 401h1M144 401h1M201 401h1M224 401h1M253 401h1M179 402h1M380 402h1M386 402h1M395 402h1M207 403h1M228 403h1M198 404h1M224 404h1M226 404h1M397 404h1M171 405h1M187 405h1M205 405h1M340 405h1M144 406h1M159 406h1M203 406h1M210 406h1M233 406h1M235 406h1M250 406h1M147 407h1M150 407h1M187 407h1M195 407h1M205 407h1M229 407h1M244 407h1M383 407h1M167 408h1M183 408h1M251 408h1M349 408h1M368 408h2M383 408h1M401 408h1M157 409h1M185 409h1M201 409h1M215 409h1M232 409h2M242 409h1M186 410h1M191 410h1M212 410h1M234 410h1M391 410h1M153 411h1M189 411h1M199 411h1M202 411h1M204 411h1M235 411h1M238 411h1M245 411h1M397 411h1M196 412h1M239 412h1M243 412h1M339 412h1M401 412h1M175 413h1M180 413h1M183 413h1M187 413h1M202 413h1M217 413h1M225 413h1M380 413h1M389 413h1M174 414h1M179 414h1M185 414h1M198 414h1M209 414h1M213 414h1M178 415h1M202 415h1M208 415h1M212 415h1M219 415h1M387 415h1M145 416h1M162 416h1M171 416h1M198 416h1M206 416h1M366 416h1M180 417h1M182 417h1M194 417h1M204 417h1M211 417h1M222 417h1M225 417h1M227 417h1M384 417h1M388 417h1M391 417h1M162 418h1M200 418h1M208 418h1M232 418h1M241 418h1M248 418h1M391 418h1M187 419h1M230 419h1M238 419h1M245 419h1M386 419h1M172 420h1M186 420h1M198 420h1M215 420h1M222 420h1M238 420h1M206 421h1M209 421h1M232 421h1M392 421h1M208 422h1M219 422h1M231 422h1M234 422h1M238 422h1M368 422h1M208 423h1M217 423h1M243 423h1M203 424h1M209 424h1M224 424h1M234 424h1M237 424h1M240 424h1M243 424h1M186 425h1M224 425h1M228 425h1M231 425h1M334 425h1M211 426h1M226 426h1M241 426h1M374 426h1M405 426h1M227 427h1M169 428h1M171 428h1M185 428h1M193 428h1M197 428h1M225 428h1M241 428h1M380 428h1M174 429h1M205 429h1M233 429h1M239 429h1M187 430h1M189 430h1M218 430h1M224 430h1M173 431h1M204 431h1M214 431h1M230 431h1M233 431h1M238 431h1M216 432h1M231 432h2M234 432h2M180 433h1M193 433h1M204 433h1M214 433h1M226 433h1M233 433h2M236 433h1M201 434h1M208 434h1M230 434h1M232 434h1M234 434h2M179 435h1M185 435h1M197 435h1M199 435h1M206 435h1M217 435h1M223 435h1M227 435h1M229 435h1M233 435h1M373 435h1M228 436h1M232 436h1M234 436h1M189 437h1M226 437h1M229 437h2M232 437h2M398 437h1M183 438h1M195 438h1M203 438h1M206 438h1M210 438h1M220 438h1M227 438h1M231 438h1M233 438h1M184 439h1M186 439h1M191 439h1M211 439h1M222 439h1M229 439h1M232 439h1M184 440h1M187 440h2M194 440h1M197 440h1M202 440h1M205 440h1M211 440h1M220 440h1M226 440h1M229 440h1M399 440h1M194 441h1M196 441h1M219 441h1M412 441h1M191 442h1M193 442h1M195 442h1M203 442h2M402 442h1M404 442h1M189 443h2M193 443h1M195 443h1M346 443h1M412 443h1M194 444h1M196 444h1M135 445h1M192 445h1M391 445h1M134 446h1M137 446h1M370 446h1M141 447h1M389 447h1M134 448h1M227 448h1M188 449h1M390 449h1M405 449h1M411 449h1M128 450h1M224 450h1M333 450h1M351 450h1M390 450h1M329 451h1M373 451h1M324 452h1M413 452h2M417 452h1M144 453h1M219 453h1M311 453h1M326 453h1M353 453h1M320 454h1M378 454h1M413 454h1M419 454h1M148 455h1M312 455h1M398 455h1M410 455h1M416 455h1M189 456h1M217 456h1M311 456h1M318 456h1M410 456h1M307 457h1M330 457h1M350 457h1M365 457h1M367 457h1M400 457h1M402 457h1M318 458h1M171 459h1M174 459h1M325 459h1M399 459h1M401 459h1M407 459h1M326 460h1M400 460h1M143 461h1M159 461h1M314 461h1M352 461h1M412 461h1M129 462h1M153 462h1M156 462h1M313 462h1M346 462h1M380 462h1M383 462h1M414 462h1M162 463h1M318 463h1M323 463h1M366 463h1M375 463h1M407 463h1M411 463h2M143 464h1M147 464h1M349 464h2M382 464h1M402 464h1M405 464h1M408 464h2M170 465h1M316 465h1M325 465h1M335 465h1M351 465h2M399 465h1M168 466h1M350 466h1M130 467h1M155 467h1M167 467h2M318 467h1M394 467h1M142 468h1M314 468h1M318 468h1M327 468h1M162 469h1M166 469h1M328 469h1M149 470h1M155 470h1M321 470h1M333 470h1M147 471h1M309 471h1M155 472h1M319 472h1M323 472h1M141 473h1M145 473h1M153 473h1M314 474h1M321 474h1M324 474h1M157 476h1M155 477h1"/>
<path stroke="#752080" d="M268 81h1M249 85h1M271 88h1M297 91h1M145 92h1M121 96h1M325 103h1M238 104h1M335 106h1M277 108h1M260 114h1M285 115h1M333 115h1M287 118h1M438 122h1M333 125h1M413 125h1M295 128h1M309 128h1M269 129h1M313 130h1M249 131h1M268 131h1M250 134h1M431 135h1M260 147h1M253 148h1M270 149h1M320 158h1M263 160h1M267 162h1M276 170h1M275 172h1M439 185h1M331 190h1M332 192h1M433 192h1M323 200h1M95 210h1M318 210h1M105 211h1M125 211h1M301 211h1M311 211h1M96 212h1M127 212h1M110 213h1M126 213h1M307 214h1M106 215h1M110 215h2M136 215h1M100 216h1M135 217h1M87 218h1M109 218h1M147 219h1M300 219h1M86 220h1M152 220h1M157 220h1M191 220h1M260 220h1M153 221h1M157 222h1M271 223h1M150 224h1M160 225h1M162 226h1M159 228h1M185 230h1M188 236h1M185 239h1M183 240h1M187 241h1M183 242h1M184 261h1M424 264h1M363 265h1M129 268h1M470 269h1M125 271h1M435 273h1M361 274h1M425 274h1M468 275h1M456 276h1M115 277h1M454 277h1M437 280h1M114 281h1M116 281h1M438 282h1M118 283h1M413 283h1M441 283h1M150 284h1M127 285h1M471 286h1M440 287h1M477 287h1M110 289h1M425 289h1M466 289h1M116 290h1M148 290h1M155 290h1M118 291h1M120 292h1M429 292h1M475 292h1M115 295h1M154 295h1M154 298h1M157 299h1M155 300h1M475 301h1M160 303h1M160 305h1M178 308h1M475 310h1M329 311h1M130 315h1M129 317h1M129 319h1M304 322h1M123 323h1M311 325h1M123 327h1M195 328h1M153 331h1M156 331h1M159 333h1M174 333h1M147 334h1M309 334h1M176 335h1M149 336h1M188 336h1M178 337h1M194 338h1M156 341h1M170 342h1M179 343h1M213 344h1M184 345h1M149 346h1M166 346h1M148 349h1M173 349h1M165 350h2M150 351h1M168 351h1M174 351h1M157 352h1M176 352h1M181 352h1M184 352h2M146 353h1M156 353h1M93 354h2M149 354h1M168 354h1M174 354h1M176 354h1M187 354h1M144 355h1M152 355h1M140 356h1M144 356h2M157 356h1M175 356h1M172 357h1M176 357h2M93 358h1M143 358h1M163 358h1M174 358h1M177 358h1M186 359h1M165 360h1M143 361h1M179 361h1M137 362h1M139 362h1M181 362h1M139 363h1M149 363h1M151 363h1M153 363h1M137 364h1M151 364h1M140 365h1M161 365h1M164 365h1M175 365h1M202 365h2M250 365h1M77 366h1M79 366h1M81 366h1M90 366h1M99 366h1M148 366h1M257 366h1M67 367h1M77 367h1M138 367h1M172 367h1M181 367h1M139 368h2M168 368h1M193 368h1M76 369h1M78 369h2M153 369h1M169 369h1M246 369h1M80 370h1M82 370h1M86 370h1M137 370h1M190 370h1M69 371h2M74 371h1M81 371h1M160 371h1M70 372h1M72 372h1M75 372h1M139 372h1M149 372h1M146 373h1M160 373h1M164 373h1M86 374h1M135 374h1M175 374h1M257 374h1M160 375h1M187 375h1M191 375h1M254 375h1M142 376h1M168 378h1M177 378h1M254 379h1M146 380h1M157 380h1M163 380h1M158 381h1M181 381h1M190 381h1M192 381h1M178 382h1M195 382h1M204 382h1M184 383h1M196 383h1M149 384h1M156 384h1M182 384h1M189 384h1M200 384h1M249 384h1M89 385h1M191 386h1M163 387h1M191 387h1M89 388h2M150 388h1M160 388h1M218 388h1M173 389h1M90 390h3M90 391h1M199 391h1M202 391h1M88 392h1M91 392h1M187 392h1M207 392h1M235 392h1M89 393h1M233 393h1M167 394h1M185 394h1M230 394h1M171 395h1M181 395h1M90 396h1M232 396h1M394 396h1M211 397h1M242 397h1M394 397h1M97 398h1M215 398h1M252 398h1M188 399h1M199 399h1M158 400h1M181 400h1M380 400h2M189 401h1M376 401h1M224 402h1M244 402h1M346 402h1M186 403h1M227 403h1M245 403h1M374 403h1M394 403h1M236 404h1M175 405h1M220 405h1M241 405h1M379 405h1M399 405h1M401 405h1M197 407h1M199 407h1M225 407h1M232 407h1M369 407h1M374 407h1M377 407h1M399 407h1M160 408h1M187 408h1M226 408h1M241 408h1M164 409h2M177 409h1M369 409h1M166 410h1M185 410h1M236 410h1M251 411h1M399 411h1M205 412h1M209 412h1M240 412h1M360 412h1M181 413h1M192 413h1M199 413h1M223 413h1M236 413h1M401 413h1M190 414h2M195 414h1M232 414h1M248 414h1M239 415h1M189 416h1M210 416h1M221 416h1M244 416h1M360 416h1M184 417h1M199 417h1M243 417h1M214 418h1M217 418h1M224 418h1M242 418h1M182 419h1M198 419h1M164 420h1M166 420h1M221 420h1M224 420h1M230 420h1M243 420h1M196 421h1M228 421h1M233 421h1M244 421h1M202 422h1M222 422h1M245 422h1M176 423h1M193 423h1M186 424h1M202 424h1M213 424h1M229 424h1M238 424h1M201 425h1M221 425h1M208 426h1M354 426h1M221 427h1M233 427h1M239 427h1M205 428h1M238 428h1M186 429h1M204 429h1M331 429h1M225 430h2M228 430h1M186 431h1M205 431h1M210 431h1M220 431h1M363 431h1M215 432h1M221 432h1M233 432h1M232 433h1M237 433h1M210 434h1M219 434h1M392 434h1M195 435h1M216 435h1M401 435h1M208 436h1M229 436h1M201 437h1M205 437h1M211 437h1M227 437h2M202 438h1M208 438h1M228 438h2M186 440h1M191 440h1M199 440h1M210 440h1M219 440h1M189 441h1M218 441h1M222 441h2M225 441h1M227 441h3M411 441h1M189 442h1M198 442h1M223 442h3M227 442h1M194 443h1M196 443h1M199 443h2M217 443h1M220 443h1M227 443h2M403 443h1M407 443h1M135 444h1M191 444h1M198 444h1M200 444h1M203 444h1M208 444h2M212 444h1M219 444h3M226 444h1M348 444h1M136 445h1M186 445h1M195 445h1M198 445h1M200 445h2M203 445h2M206 445h5M218 445h1M223 445h1M225 445h2M399 445h1M177 446h1M197 446h2M200 446h1M204 446h1M209 446h1M212 446h1M216 446h1M347 446h1M130 447h1M195 447h2M200 447h2M203 447h1M207 447h1M209 447h1M212 447h5M219 447h3M415 447h1M140 448h1M143 448h1M194 448h1M197 448h1M199 448h1M205 448h1M208 448h1M211 448h1M213 448h4M222 448h1M224 448h2M194 449h1M196 449h1M323 449h1M335 449h1M344 449h1M195 450h1M223 450h1M319 450h1M349 450h1M136 451h1M142 451h1M190 451h1M145 452h1M191 452h1M396 452h1M191 453h1M327 453h1M357 453h1M398 453h1M146 454h1M299 454h1M391 454h1M407 455h1M187 456h1M387 456h1M407 456h1M347 458h1M358 458h1M380 458h1M392 458h1M404 458h1M328 459h1M335 459h1M377 460h1M401 460h1M131 461h1M318 461h1M403 461h1M162 462h1M168 462h1M310 462h1M388 462h1M406 462h1M148 464h1M333 464h1M368 464h1M376 464h1M156 465h1M404 465h1M323 466h1M339 466h1M344 466h1M131 467h1M334 467h1M383 467h1M309 469h1M335 469h1M160 471h1M322 473h1M326 473h1M322 474h1M151 475h1M153 475h1"/>
<path stroke="#862781" d="M278 78h1M263 91h1M148 96h1M133 100h1M139 101h1M300 102h1M269 103h1M138 105h1M255 111h1M235 121h1M305 123h1M246 125h1M322 132h1M324 137h1M274 140h1M305 143h1M442 183h1M332 189h1M316 194h1M82 200h1M85 200h2M302 200h1M86 201h1M88 201h1M84 202h2M88 202h2M91 202h1M83 203h1M85 203h1M88 203h1M90 203h2M328 203h1M84 204h1M90 204h2M280 204h1M88 205h4M103 205h1M82 206h1M84 206h1M90 206h2M82 207h2M89 207h1M86 208h1M92 208h1M82 209h2M87 209h2M294 209h1M82 210h1M84 210h3M89 210h1M83 211h2M85 212h1M112 212h1M126 212h1M82 213h1M87 213h1M83 214h1M85 214h1M112 214h1M84 215h1M97 215h1M127 215h1M135 216h1M138 216h1M303 216h1M316 216h1M82 217h1M140 217h1M144 217h1M82 218h1M187 218h1M191 218h1M150 219h1M308 219h1M176 221h1M295 221h1M82 222h1M82 224h1M301 224h1M159 225h1M152 226h1M186 227h1M158 228h1M181 233h1M183 244h1M183 249h1M467 262h1M424 268h1M409 272h1M119 277h1M453 280h1M115 283h1M150 283h1M115 286h2M428 287h1M151 288h1M447 288h1M121 289h1M432 290h1M152 291h1M420 291h1M478 292h2M479 296h1M456 299h1M159 300h1M469 301h1M468 303h1M468 304h1M472 306h1M479 306h1M475 308h1M473 309h1M128 320h1M331 321h1M320 324h1M149 327h1M186 327h1M173 331h1M175 332h1M331 334h1M193 336h1M192 337h1M150 341h1M186 345h1M166 347h1M192 347h1M152 349h1M158 349h1M225 349h1M160 350h1M172 350h1M177 351h1M158 352h1M143 354h1M156 354h1M162 354h1M97 355h1M141 355h1M143 355h1M158 355h1M168 355h1M179 355h1M137 356h1M161 356h1M139 357h1M143 357h1M162 357h1M156 358h1M106 359h1M149 359h1M146 360h1M163 360h1M181 360h1M186 360h1M142 361h1M146 361h1M238 361h1M147 363h1M164 363h1M167 363h1M164 364h1M144 365h2M150 365h1M167 365h1M67 366h1M78 366h1M80 366h1M146 366h1M159 366h1M164 366h1M76 367h1M89 367h1M135 367h1M155 367h2M169 367h1M80 368h1M85 368h1M90 368h1M169 368h1M68 369h2M82 369h1M149 369h1M168 369h1M69 370h1M78 370h1M84 370h1M88 370h1M90 370h1M168 370h1M76 371h1M80 371h1M71 372h1M135 372h1M155 372h1M161 372h1M167 372h1M71 373h1M91 373h1M170 373h1M169 374h1M143 375h1M172 375h1M159 376h1M159 377h1M180 377h1M91 378h1M187 378h1M259 378h1M170 379h1M186 379h1M188 379h1M198 379h1M138 380h1M176 380h1M185 380h1M150 381h1M169 384h1M187 384h1M91 385h1M172 385h1M185 385h2M171 387h1M168 389h1M185 390h1M190 390h1M182 392h1M195 392h1M218 392h1M167 393h1M216 393h1M246 393h1M89 394h1M92 394h1M218 394h1M388 394h1M172 395h1M392 396h1M168 397h1M182 397h1M194 397h1M390 397h1M246 398h1M236 399h1M239 400h1M377 400h1M186 401h1M393 401h1M399 401h1M392 402h1M201 403h1M229 403h1M391 403h1M344 404h1M201 405h1M242 405h1M376 405h1M175 406h1M178 406h1M196 406h1M381 406h1M146 408h1M217 409h1M364 409h1M366 409h1M165 410h1M169 410h1M199 410h1M216 410h1M376 410h2M167 411h1M185 411h1M181 412h1M191 412h1M203 412h1M363 412h1M378 412h1M193 414h1M202 414h1M359 415h1M172 416h1M399 416h1M207 417h1M234 417h1M362 418h1M244 420h1M189 421h1M245 421h1M210 422h1M240 422h1M395 423h1M392 424h1M353 426h1M241 427h1M233 428h1M240 428h1M202 430h1M232 430h1M192 431h1M206 431h1M223 432h1M228 432h1M188 433h1M194 433h1M210 433h1M350 433h1M229 434h1M231 434h1M408 434h1M232 435h1M226 436h1M231 436h1M185 437h1M213 438h1M222 438h1M225 438h1M399 438h1M223 439h1M390 439h1M206 440h1M231 440h1M356 440h1M221 441h1M196 442h1M220 442h1M135 443h1M201 443h1M222 443h1M195 444h1M201 444h1M206 444h1M215 444h1M225 444h1M404 444h1M409 444h1M128 445h1M199 445h1M202 445h1M205 445h1M211 445h1M201 446h1M205 446h2M213 446h1M215 446h1M226 446h1M129 447h1M205 447h1M211 447h1M217 447h1M223 447h1M236 447h1M368 447h1M384 447h1M202 448h1M212 448h1M218 448h1M199 449h1M201 449h1M203 449h3M208 449h2M212 449h1M218 449h1M221 449h2M399 449h1M199 450h1M201 450h1M204 450h1M206 450h1M208 450h1M214 450h1M217 450h2M221 450h1M342 450h1M366 450h1M373 450h1M401 450h1M198 451h2M202 451h1M204 451h1M206 451h1M208 451h1M212 451h1M214 451h2M217 451h1M219 451h1M400 451h1M421 451h1M197 452h1M203 452h1M206 452h3M210 452h9M313 452h1M337 452h1M395 452h1M201 453h1M203 453h2M206 453h1M210 453h1M217 453h2M364 453h1M409 453h1M145 454h1M199 454h3M203 454h1M205 454h1M207 454h2M210 454h1M213 454h1M217 454h1M219 454h1M369 454h1M414 454h1M176 455h1M185 455h1M201 455h1M205 455h2M208 455h1M212 455h1M215 455h1M203 456h1M205 456h1M209 456h2M212 456h2M216 456h1M397 456h1M398 457h1M351 458h1M394 458h1M417 458h1M343 459h1M413 460h1M415 460h1M415 461h1M389 462h1M307 463h1M367 463h1M311 464h1M333 465h1M366 465h1M336 466h1M361 466h1M391 466h1M315 475h1"/>
<path stroke="#982d7f" d="M175 34h1M180 37h1M180 39h1M307 94h1M261 106h1M312 111h1M236 119h1M316 160h1M69 197h1M70 198h2M73 198h1M69 199h1M79 199h1M69 200h1M72 200h5M79 200h3M83 200h1M73 201h1M75 201h1M77 201h1M80 201h3M91 201h1M71 202h1M74 202h1M78 202h1M234 202h1M69 203h3M73 203h1M86 203h1M73 204h1M75 204h1M78 204h1M82 204h2M88 204h1M69 205h1M71 205h1M76 205h1M78 205h2M81 205h1M69 206h2M75 206h3M80 206h1M69 207h1M73 207h1M76 207h1M79 207h1M88 207h1M91 207h1M71 208h1M73 208h2M78 208h4M84 208h1M110 208h1M69 209h1M71 209h1M76 209h1M79 209h1M81 209h1M317 209h1M73 210h2M78 210h1M80 210h1M88 210h1M113 210h1M72 211h1M74 211h4M69 212h3M73 212h2M76 212h1M81 212h1M72 213h2M75 213h1M70 214h1M72 214h1M79 214h1M82 214h1M70 215h2M73 215h2M76 215h1M80 215h3M69 216h1M75 216h3M114 216h1M269 216h1M71 217h1M77 217h1M142 217h1M69 218h2M72 218h1M74 218h2M77 218h1M79 218h3M146 218h1M70 219h1M72 219h1M80 219h1M72 220h1M74 220h2M77 220h1M79 220h1M307 220h1M72 221h1M77 221h1M79 221h2M69 222h2M77 222h1M80 222h2M71 223h3M76 223h2M80 223h1M69 224h1M72 224h1M77 224h1M81 224h1M69 225h2M74 225h2M74 226h3M168 226h1M72 227h1M74 227h3M79 227h1M133 227h1M71 228h1M73 228h1M75 228h1M77 228h1M175 228h1M71 229h1M73 229h1M78 229h1M71 231h1M74 231h1M73 232h2M70 233h1M74 233h1M70 236h1M184 238h1M186 239h1M183 243h1M188 243h1M181 246h1M408 266h1M410 268h1M408 269h1M153 283h1M445 284h1M439 288h1M446 288h1M152 289h1M473 290h1M455 291h1M153 297h1M318 299h1M457 299h1M462 299h1M464 299h1M461 302h1M474 305h1M478 305h1M469 306h1M472 307h1M173 325h1M159 334h1M155 341h1M145 350h1M147 352h1M151 353h1M161 354h1M242 355h1M160 356h1M93 357h2M163 357h2M167 358h1M140 360h1M145 360h1M148 360h1M164 360h1M168 360h1M141 362h1M153 362h1M153 364h1M159 364h1M147 365h1M66 366h1M81 367h1M86 367h1M77 368h1M79 368h1M147 368h1M163 368h1M86 369h1M70 370h1M77 370h1M134 370h1M170 370h1M78 371h1M162 372h1M145 373h1M156 376h1M166 376h1M146 378h1M164 379h1M179 379h1M159 381h1M150 382h1M155 382h1M187 382h1M83 383h1M163 384h1M188 384h1M84 385h1M87 386h1M84 387h1M153 387h1M88 389h1M148 389h1M165 389h1M170 389h1M170 390h1M188 391h1M161 393h1M386 393h1M243 394h1M176 397h1M150 400h1M221 400h1M386 401h1M237 402h1M376 403h1M211 404h1M238 407h1M370 407h1M219 408h1M237 415h1M186 417h1M372 418h1M246 419h1M359 420h1M215 421h1M193 422h1M206 425h1M223 426h1M228 426h1M193 427h1M212 427h1M235 427h1M204 428h1M236 430h1M239 430h1M350 430h1M219 433h1M235 433h1M225 434h1M181 437h1M217 437h1M198 439h1M344 439h1M405 439h1M223 440h1M188 441h1M200 441h1M209 441h1M219 442h1M228 442h1M197 444h1M193 445h1M224 445h1M227 445h1M409 445h1M203 446h1M208 446h1M218 446h1M224 446h1M202 447h1M334 447h1M196 448h1M200 448h2M203 448h1M219 448h1M353 448h1M197 449h2M202 449h1M206 449h1M216 449h1M140 450h1M210 450h1M219 450h1M203 451h1M360 451h1M416 451h1M418 451h1M198 452h1M145 453h1M190 453h1M202 453h1M205 453h1M207 453h1M209 453h1M212 453h1M216 453h1M401 453h1M188 454h1M202 454h1M211 454h2M215 454h1M309 454h1M211 455h1M213 455h2M183 456h1M211 456h1M405 456h1M411 456h1M420 456h1M210 457h1M212 457h2M363 457h1M419 457h1M181 458h1M334 461h1M345 461h1M401 462h1M346 463h1M386 464h1M409 465h1M401 467h1"/>
<path stroke="#aa337b" d="M273 124h1M327 196h1M61 197h1M57 198h1M59 198h2M62 198h1M64 198h1M68 198h2M72 198h1M56 199h1M60 199h1M63 199h1M67 199h1M72 199h1M57 200h2M60 200h2M63 200h2M78 200h1M59 201h3M64 201h1M66 201h4M79 201h1M323 201h1M56 202h1M61 202h2M66 202h3M79 202h1M56 203h1M58 203h1M60 203h2M65 203h2M56 204h1M58 204h1M60 204h1M65 204h2M72 204h1M80 204h1M87 204h1M57 205h1M60 205h1M62 205h1M77 205h1M65 206h3M78 206h1M57 207h2M62 207h1M65 207h1M67 207h2M77 207h1M81 207h1M57 208h3M61 208h2M64 208h1M85 208h1M90 208h1M56 209h1M58 209h2M61 209h1M65 209h1M67 209h2M84 209h1M61 210h1M63 210h2M67 210h3M72 210h1M56 211h1M58 211h1M60 211h3M65 211h1M68 211h1M82 211h1M85 211h2M59 212h1M62 212h1M68 212h1M79 212h2M58 213h1M62 213h1M65 213h3M56 214h2M60 214h2M64 214h3M68 214h2M75 214h1M78 214h1M56 215h1M58 215h1M62 215h1M65 215h1M67 215h3M77 215h1M79 215h1M58 216h1M63 216h2M68 216h1M72 216h1M80 216h1M61 217h4M68 217h1M56 218h4M62 218h1M71 218h1M78 218h1M189 218h1M57 219h2M61 219h2M66 219h3M75 219h1M56 220h1M58 220h1M61 220h4M68 220h1M70 220h1M78 220h1M56 221h2M59 221h2M66 221h2M75 221h1M56 222h1M58 222h3M68 222h1M56 223h1M58 223h1M60 223h2M63 223h3M68 223h1M74 223h1M79 223h1M58 224h1M60 224h2M64 224h1M67 224h1M73 224h2M57 225h2M61 225h1M64 225h1M67 225h1M57 226h1M59 226h2M65 226h1M67 226h1M77 226h1M81 226h1M58 227h2M61 227h1M64 227h1M67 227h1M177 227h1M56 228h4M61 228h2M64 228h1M66 228h1M178 228h1M57 229h1M59 229h1M61 229h2M64 229h1M68 229h2M56 230h1M58 230h1M61 230h2M64 230h2M67 230h1M56 231h1M60 231h5M70 231h1M56 232h1M58 232h1M64 232h2M67 232h2M56 233h1M60 233h1M65 233h4M58 234h2M62 234h1M64 234h1M69 234h1M57 235h3M62 235h3M67 235h1M69 235h1M71 235h1M59 236h2M65 236h2M68 236h2M57 237h1M59 237h2M62 237h2M66 237h1M68 237h2M58 238h1M64 238h1M66 238h2M183 238h1M186 238h1M58 239h1M169 284h1M442 284h1M449 284h1M469 291h1M479 291h1M473 295h1M459 299h1M459 300h1M456 302h1M478 304h1M155 336h1M166 348h2M148 353h1M153 353h1M186 353h1M150 355h1M95 356h1M155 357h1M94 358h1M137 360h1M167 360h1M159 363h1M162 363h1M76 365h1M157 365h2M170 365h1M173 365h1M145 366h1M84 367h1M148 367h1M161 367h1M75 368h1M137 368h1M166 368h1M157 369h1M170 369h1M74 370h1M170 371h1M69 372h1M155 375h1M157 376h1M164 376h1M147 379h1M149 382h1M164 382h1M89 384h1M164 384h1M149 385h1M172 387h1M164 388h1M169 389h1M92 392h1M212 393h1M176 395h1M185 395h1M178 397h1M242 398h1M374 401h1M372 403h1M216 404h1M387 405h1M388 409h1M385 413h1M193 416h1M199 421h1M217 421h1M339 421h1M241 423h1M193 426h1M209 433h1M230 435h1M191 441h1M405 441h1M192 442h1M208 447h1M222 447h1M198 448h1M220 448h1M401 448h1M207 449h1M225 449h1M416 449h1M202 450h1M216 450h1M222 450h1M196 451h2M205 451h1M211 451h1M213 451h1M199 452h2M213 453h1M397 453h1M418 453h1M209 454h1M206 456h2M207 457h1M347 457h1M416 457h1M329 458h1M367 458h1M399 461h1M344 462h1M367 462h1M410 465h1M341 467h1M367 467h1M370 467h1M404 467h1"/>
<path stroke="#bc3977" d="M52 199h3M62 199h1M65 199h1M51 200h1M53 200h1M56 200h1M48 201h3M55 201h1M58 201h1M70 201h1M49 202h1M51 202h1M53 202h3M57 202h1M59 202h2M65 202h1M45 203h2M49 203h1M51 203h1M53 203h1M45 204h1M47 204h3M52 204h2M59 204h1M61 204h1M69 204h1M71 204h1M43 205h2M50 205h2M55 205h2M67 205h1M73 205h1M82 205h1M86 205h1M43 206h10M54 206h2M57 206h1M62 206h1M71 206h1M79 206h1M39 207h1M41 207h3M45 207h2M48 207h1M50 207h2M54 207h2M66 207h1M318 207h1M42 208h1M44 208h1M46 208h3M51 208h1M55 208h1M60 208h1M70 208h1M37 209h3M45 209h2M49 209h1M52 209h1M62 209h2M70 209h1M72 209h1M74 209h1M40 210h1M43 210h3M47 210h1M53 210h2M60 210h1M66 210h1M36 211h1M43 211h1M48 211h1M50 211h3M54 211h2M36 212h2M41 212h2M47 212h2M50 212h6M66 212h1M77 212h1M82 212h1M39 213h1M41 213h2M44 213h4M49 213h2M55 213h1M60 213h1M63 213h1M69 213h1M71 213h1M77 213h1M34 214h3M38 214h2M43 214h1M48 214h2M51 214h1M53 214h2M59 214h1M36 215h1M39 215h3M43 215h1M47 215h1M49 215h1M51 215h2M57 215h1M59 215h1M63 215h2M34 216h3M38 216h1M40 216h5M49 216h1M51 216h6M60 216h2M32 217h1M34 217h1M38 217h4M43 217h1M45 217h1M48 217h2M51 217h3M58 217h1M72 217h1M35 218h1M38 218h1M42 218h3M47 218h1M49 218h1M51 218h3M66 218h1M31 219h2M39 219h1M41 219h1M44 219h1M46 219h2M49 219h3M54 219h2M59 219h2M81 219h1M33 220h2M38 220h2M43 220h1M46 220h1M48 220h1M53 220h3M60 220h1M66 220h2M76 220h1M82 220h1M32 221h1M43 221h4M52 221h1M55 221h1M61 221h1M64 221h1M30 222h4M35 222h1M37 222h2M41 222h2M46 222h1M48 222h3M52 222h1M54 222h2M57 222h1M61 222h1M30 223h1M34 223h2M37 223h1M42 223h2M46 223h3M51 223h3M55 223h1M57 223h1M35 224h2M39 224h2M43 224h1M47 224h2M50 224h7M66 224h1M76 224h1M79 224h1M31 225h1M34 225h1M37 225h1M39 225h2M43 225h1M45 225h2M51 225h1M55 225h1M63 225h1M79 225h1M29 226h1M31 226h1M33 226h1M35 226h2M39 226h3M44 226h1M48 226h4M55 226h1M61 226h1M80 226h1M186 226h1M31 227h4M37 227h2M40 227h1M50 227h2M54 227h2M57 227h1M60 227h1M66 227h1M68 227h1M81 227h1M30 228h2M35 228h1M37 228h4M43 228h1M45 228h1M48 228h3M52 228h2M40 229h1M42 229h2M46 229h1M53 229h1M55 229h1M63 229h1M173 229h1M31 230h1M33 230h1M35 230h1M38 230h1M43 230h1M45 230h1M51 230h1M53 230h1M29 231h3M33 231h1M35 231h2M38 231h2M42 231h1M47 231h2M50 231h2M54 231h1M57 231h1M32 232h3M39 232h1M43 232h2M49 232h2M53 232h1M69 232h1M45 233h1M48 233h1M50 233h2M54 233h2M59 233h1M63 233h1M47 234h2M50 234h3M63 234h1M65 234h1M71 234h1M174 234h1M46 235h4M51 235h5M61 235h1M65 235h1M68 235h1M171 235h1M49 236h1M52 236h2M55 236h2M45 237h1M47 237h2M50 237h2M55 237h2M61 237h1M65 237h1M49 238h1M51 238h2M54 238h1M56 238h2M59 238h1M172 238h1M45 239h2M49 239h1M52 239h1M55 239h2M45 240h1M48 240h1M50 240h3M55 240h2M47 241h5M58 241h1M174 241h1M47 242h1M50 242h1M175 242h1M47 243h1M48 244h3M48 245h1M48 246h1M187 246h1M47 247h1M179 249h1M447 284h1M475 286h1M474 295h1M479 295h1M478 302h1M470 304h1M155 333h1M157 340h1M164 348h1M165 349h1M162 350h1M160 355h1M140 357h1M149 357h1M158 357h1M164 359h1M138 361h1M149 362h1M157 362h1M76 364h1M155 364h1M136 366h1M87 367h1M76 368h1M146 369h1M162 371h1M174 372h1M154 373h1M154 376h1M157 377h1M176 379h1M191 379h1M157 383h1M179 386h1M91 387h2M88 391h1M163 391h1M188 392h1M171 394h1M94 395h1M368 407h1M201 419h1M212 445h1M199 446h1M202 446h1M209 450h1M372 451h1M416 452h1M147 453h1M188 453h1M208 453h1M215 453h1M214 454h1M216 454h1M218 454h1M211 457h1M214 457h1M412 459h1"/>
<path stroke="#cd4170" d="M62 197h1M63 198h1M59 199h1M62 200h1M68 200h1M47 202h1M48 203h1M55 203h1M62 203h1M68 203h1M72 203h1M75 203h1M50 204h1M76 204h1M86 206h1M49 207h1M56 207h1M64 207h1M70 207h1M40 208h1M75 208h1M323 208h1M40 209h2M43 209h2M51 209h1M73 209h1M42 210h1M46 210h1M58 210h2M62 210h1M39 211h1M57 211h1M71 211h1M40 212h1M56 212h1M75 212h1M35 213h1M37 213h1M43 213h1M51 213h3M56 213h1M40 214h1M47 214h1M67 214h1M74 214h1M42 215h1M48 215h1M54 215h1M37 216h1M33 217h1M36 217h1M55 217h2M41 218h1M48 218h1M54 218h2M61 218h1M65 218h1M35 219h1M45 219h1M52 219h1M56 219h1M74 219h1M35 220h2M40 220h1M153 220h1M33 221h2M47 221h1M50 221h2M62 221h1M179 221h1M47 222h1M33 223h1M44 223h1M78 223h1M49 224h1M62 224h2M160 224h1M30 225h1M32 225h1M42 225h1M48 225h1M42 226h2M45 226h1M52 226h1M56 226h1M66 226h1M176 226h1M35 227h1M39 227h1M44 227h2M33 228h2M54 228h1M67 228h1M33 229h1M48 229h1M52 229h1M58 229h1M76 229h1M29 230h1M42 230h1M47 230h1M54 230h1M37 231h1M44 231h1M46 231h1M53 231h1M36 232h1M40 232h1M52 232h1M55 232h1M59 232h1M30 233h6M38 233h1M40 233h1M42 233h1M71 233h1M29 234h1M31 234h1M34 234h2M37 234h3M41 234h1M46 234h1M55 234h1M57 234h1M66 234h2M28 235h2M31 235h1M33 235h3M39 235h1M41 235h1M43 235h1M28 236h5M34 236h2M37 236h3M41 236h3M45 236h1M48 236h1M58 236h1M64 236h1M28 237h1M33 237h2M37 237h2M40 237h2M43 237h1M53 237h1M176 237h1M27 238h1M29 238h3M33 238h2M36 238h6M46 238h1M53 238h1M60 238h1M63 238h1M65 238h1M27 239h1M31 239h5M37 239h1M39 239h3M43 239h1M47 239h1M50 239h1M54 239h1M175 239h1M28 240h6M35 240h2M39 240h1M41 240h2M44 240h1M49 240h1M59 240h1M28 241h3M36 241h2M39 241h7M29 242h7M38 242h2M41 242h5M28 243h1M30 243h3M34 243h3M40 243h1M43 243h3M48 243h1M29 244h2M32 244h5M38 244h2M41 244h1M43 244h2M46 244h2M29 245h1M31 245h1M35 245h1M38 245h1M40 245h1M42 245h2M45 245h1M30 246h1M32 246h3M36 246h11M31 247h1M33 247h2M36 247h1M39 247h3M46 247h1M29 248h1M34 248h3M38 248h1M42 248h3M29 249h1M31 249h3M35 249h1M37 249h1M43 249h1M32 250h4M37 250h1M41 250h1M32 251h5M38 251h1M40 251h1M42 251h1M30 252h1M32 252h1M35 252h1M38 252h3M32 253h1M35 253h1M38 253h5M32 254h1M34 254h1M37 254h1M41 254h1M31 255h1M33 255h2M41 255h1M35 256h1M37 256h1M40 256h2M33 257h1M35 257h1M37 257h1M40 257h2M34 258h5M41 258h1M48 258h1M34 259h4M41 259h1M48 259h2M33 260h3M38 260h4M44 260h1M50 260h1M35 261h1M38 261h1M42 261h1M46 261h1M37 262h2M40 262h2M45 262h1M34 263h2M39 263h2M42 263h1M44 263h2M37 264h1M39 264h1M41 264h1M44 264h1M35 265h1M37 265h1M41 265h1M43 265h1M50 265h1M34 266h2M37 266h1M42 266h1M45 266h1M50 266h1M36 267h4M41 267h1M46 267h1M36 268h2M41 268h1M45 268h2M35 269h1M37 269h1M40 269h2M45 269h1M50 269h1M38 271h1M42 272h3M46 272h1M41 273h1M43 273h3M41 274h1M45 274h1M40 275h2M44 275h1M475 289h1M475 295h1M475 296h1M478 301h1M143 353h1M163 354h1M142 356h1M141 359h1M156 363h1M138 366h1M88 367h1M81 369h1M158 369h1M83 373h1M86 373h1M98 373h1M82 376h1M160 378h1M95 381h1M165 388h1M90 389h1M93 391h1M171 391h1M91 393h1M93 396h1M244 418h1M214 419h1M399 424h1M231 437h1M217 445h1M232 446h1M127 450h1M220 451h1M200 453h1M203 455h2M207 455h1M208 456h1M214 456h1M206 457h1M371 461h1M400 462h1M403 463h1"/>
<path stroke="#dd4968" d="M173 37h1M439 118h1M437 120h1M64 199h1M59 200h1M67 200h1M53 201h1M52 203h1M63 203h1M46 204h1M54 204h1M68 204h1M48 205h1M66 205h1M70 205h1M75 205h1M53 206h1M61 207h1M71 207h1M38 208h1M49 208h1M54 208h1M42 209h1M47 209h2M53 209h2M49 210h1M71 210h1M308 210h1M38 211h1M41 211h2M46 211h1M53 211h1M59 211h1M49 212h1M67 212h1M38 213h1M40 213h1M48 213h1M59 213h1M44 214h1M80 214h1M45 215h1M53 215h1M44 217h1M54 217h1M66 217h1M191 217h1M37 218h1M40 218h1M36 219h1M42 219h1M48 219h1M63 219h1M42 220h1M47 220h1M59 220h1M69 220h1M35 221h2M41 221h1M49 221h1M54 221h1M34 222h1M36 222h1M39 222h1M53 222h1M71 222h1M36 223h1M38 223h1M45 223h1M49 223h1M62 223h1M82 223h1M164 223h1M182 223h1M30 224h1M34 224h1M37 224h2M38 225h1M41 225h1M44 225h1M32 226h1M53 226h1M63 226h1M41 227h1M43 227h1M52 227h1M62 227h1M150 227h1M36 228h1M46 228h2M51 228h1M69 228h1M31 229h1M39 229h1M41 229h1M50 229h2M34 230h1M50 230h1M41 231h1M45 231h1M41 232h2M48 232h1M54 232h1M41 233h1M43 233h1M53 233h1M182 233h1M33 234h1M56 234h1M27 235h1M36 235h1M175 235h1M46 236h1M50 236h1M57 236h1M179 236h1M31 237h1M39 237h1M180 237h1M32 238h1M45 238h1M29 239h1M36 239h1M59 239h1M173 239h1M37 240h1M40 240h1M179 240h2M27 241h1M33 241h2M46 241h1M178 241h1M28 242h1M36 242h1M40 242h1M49 242h1M39 243h1M42 243h1M28 245h1M30 245h1M37 245h1M29 247h1M38 247h1M30 248h1M32 248h2M40 248h1M47 248h1M30 249h1M31 253h1M34 253h1M36 256h1M34 257h1M38 264h1M38 265h2M48 265h1M40 266h1M46 266h2M39 268h1M43 271h1M49 271h1M38 273h1M42 275h1M474 304h1M100 351h1M78 365h1M84 368h1M151 368h1M70 369h1M73 369h2M91 369h1M75 370h1M184 376h1M191 376h1M162 377h1M143 381h1M183 385h1M85 390h1M156 390h1M91 391h2M91 397h1M223 446h1M414 451h1M210 455h1M406 464h1"/>
<path stroke="#e85963" d="M72 201h1M45 202h1M54 203h1M64 203h1M59 205h1M78 209h1M39 210h1M48 210h1M51 210h1M55 210h1M44 211h1M47 211h1M69 211h1M46 212h1M61 212h1M36 213h1M41 214h1M45 214h1M73 214h1M34 215h2M37 215h2M48 216h1M59 216h1M78 216h1M35 217h1M46 217h1M59 217h1M45 218h1M64 218h1M32 220h1M49 220h1M178 221h1M75 222h1M31 224h1M57 224h1M183 224h1M152 225h1M42 227h1M53 227h1M34 229h2M37 229h1M165 229h1M30 230h1M32 230h1M36 230h2M52 230h1M57 230h1M32 231h1M49 231h1M31 232h1M35 232h1M51 232h1M52 233h1M30 234h1M40 234h1M40 235h1M44 235h1M54 236h1M178 237h1M50 238h1M30 239h1M51 239h1M181 240h1M38 241h1M32 245h1M34 245h1M36 245h1M47 245h1M47 246h1M44 247h1M37 248h1M39 248h1M38 249h1M41 249h1M31 250h1M31 251h1M36 252h2M33 253h1M35 254h2M38 254h1M363 254h1M33 256h1M39 256h1M42 257h1M42 259h1M42 260h1M33 261h1M47 261h1M36 262h1M39 262h1M42 262h1M50 262h1M40 265h1M45 265h1M35 267h1M41 270h1M39 271h1M47 271h1M37 272h1M40 272h1M41 276h1M478 296h1M477 308h1M153 355h1M143 359h1M149 360h1M77 363h1M169 372h1M144 384h1M91 386h1M193 387h1M92 389h1M402 462h1"/>
<path stroke="#f3695e" d="M54 201h1M52 202h1M46 205h1M49 205h1M58 205h1M63 207h1M37 210h1M37 214h1M46 215h1M46 216h1M39 221h1M48 221h1M40 222h1M33 225h1M36 225h1M49 225h2M52 225h1M38 229h1M47 229h1M39 230h1M46 230h1M29 232h1M46 232h1M49 234h1M33 236h1M27 237h1M46 237h1M41 243h1M39 245h1M44 245h1M30 251h1M41 252h1M40 254h1M39 255h1M38 257h2M38 259h1M37 260h1M37 261h1M49 263h1M38 266h1M39 269h1M43 278h1M476 307h1M77 369h1M220 450h1"/>
<path stroke="#f97c60" d="M63 204h1M41 210h1M38 212h1M32 228h1M186 228h1M37 232h1M36 233h1M45 234h1M42 239h1M177 243h1M37 247h1M37 251h1M34 252h1M37 253h1M39 254h1M49 260h1M45 261h1M34 262h1M36 266h1M35 270h1M48 270h1M40 276h1M479 302h1M154 387h1"/>
<path stroke="#fc9067" d="M174 226h1M29 229h1M44 233h1M48 239h1M40 259h1M41 261h1M40 271h1M42 277h1M479 305h1"/>
<path stroke="#feb880" d="M168 361h1"/>
</g>
<path d="M229.0 141.0 V1606.5 H2467.5" fill="none" stroke="#000" stroke-width="4.5" stroke-linecap="butt" stroke-linejoin="miter"/>
<rect x="226.75" y="1604.25" width="4.5" height="4.5" fill="#000"/>
<path d="M256.7 1606.5v14.2M619.9 1606.5v14.2M983.2 1606.5v14.2M1346.4 1606.5v14.2M1709.7 1606.5v14.2M2072.9 1606.5v14.2M2436.2 1606.5v14.2M229.0 1487.1h-14.4M229.0 1220.8h-14.4M229.0 954.5h-14.4M229.0 688.2h-14.4M229.0 421.9h-14.4M229.0 155.6h-14.4" stroke="#000" stroke-width="4.5" fill="none"/>
<text x="256.7" y="1670.8" font-size="53" text-anchor="middle" textLength="81.6" lengthAdjust="spacingAndGlyphs">-15</text>
<text x="619.9" y="1670.8" font-size="53" text-anchor="middle" textLength="81.6" lengthAdjust="spacingAndGlyphs">-10</text>
<text x="983.2" y="1670.8" font-size="53" text-anchor="middle" textLength="49.8" lengthAdjust="spacingAndGlyphs">-5</text>
<text x="1346.4" y="1670.8" font-size="53" text-anchor="middle" textLength="31.8" lengthAdjust="spacingAndGlyphs">0</text>
<text x="1709.7" y="1670.8" font-size="53" text-anchor="middle" textLength="31.8" lengthAdjust="spacingAndGlyphs">5</text>
<text x="2072.9" y="1670.8" font-size="53" text-anchor="middle" textLength="63.6" lengthAdjust="spacingAndGlyphs">10</text>
<text x="2436.2" y="1670.8" font-size="53" text-anchor="middle" textLength="63.6" lengthAdjust="spacingAndGlyphs">15</text>
<text x="201.5" y="1506.0" font-size="53" text-anchor="end" textLength="81.6" lengthAdjust="spacingAndGlyphs">-10</text>
<text x="201.5" y="1239.7" font-size="53" text-anchor="end" textLength="49.8" lengthAdjust="spacingAndGlyphs">-5</text>
<text x="201.5" y="973.4" font-size="53" text-anchor="end" textLength="31.8" lengthAdjust="spacingAndGlyphs">0</text>
<text x="201.5" y="707.1" font-size="53" text-anchor="end" textLength="31.8" lengthAdjust="spacingAndGlyphs">5</text>
<text x="201.5" y="440.8" font-size="53" text-anchor="end" textLength="63.6" lengthAdjust="spacingAndGlyphs">10</text>
<text x="201.5" y="174.5" font-size="53" text-anchor="end" textLength="63.6" lengthAdjust="spacingAndGlyphs">15</text>
<g font-size="61" transform="translate(1234.2 1736.7)"><text transform="translate(-4.31 0) scale(1.0769 1)">u</text><text transform="translate(33.81 0) scale(1.0977 1)">m</text><text transform="translate(90.51 0) scale(0.8645 1)">a</text><text transform="translate(127.25 0) scale(1.037 1)">p</text><text transform="translate(162.85 0) scale(0.85 1)">_</text><text transform="translate(192.7 0) scale(1.0 1)">1</text></g>
<g font-size="61" transform="translate(94.4 987) rotate(-90)"><text transform="translate(-4.31 0) scale(1.0769 1)">u</text><text transform="translate(33.81 0) scale(1.0977 1)">m</text><text transform="translate(90.51 0) scale(0.8645 1)">a</text><text transform="translate(127.25 0) scale(1.037 1)">p</text><text transform="translate(162.85 0) scale(0.85 1)">_</text><text transform="translate(192.75 0) scale(0.9821 1)">2</text></g>
<text transform="translate(1217.5 99.9) scale(1.1 1)" font-size="70.5" font-weight="bold">T</text>
<text transform="translate(1264.5 99.9) scale(1.118 1)" font-size="70.5" font-weight="bold">M</text>
<text transform="translate(1330.6 99.9) scale(0.924 1)" font-size="70.5" font-weight="bold">C</text>
<text transform="translate(1380.0 99.9) scale(0.915 1)" font-size="70.5" font-weight="bold">C</text>
<text transform="translate(1431.2 99.9) scale(1.057 1)" font-size="70.5" font-weight="bold">3</text>
<defs><linearGradient id="mg" x1="0" y1="1" x2="0" y2="0"><stop offset="0.0" stop-color="#000004"/><stop offset="0.1" stop-color="#140e36"/><stop offset="0.2" stop-color="#3b0f70"/><stop offset="0.3" stop-color="#641a80"/><stop offset="0.4" stop-color="#8c2981"/><stop offset="0.5" stop-color="#b73779"/><stop offset="0.6" stop-color="#de4968"/><stop offset="0.7" stop-color="#f7705c"/><stop offset="0.8" stop-color="#fe9f6d"/><stop offset="0.9" stop-color="#fecf92"/><stop offset="1.0" stop-color="#fcfdbf"/></linearGradient></defs>
<rect x="2523.4" y="715.2" width="63.8" height="318.9" fill="url(#mg)"/>
<text x="2615.5" y="1024.9" font-size="53" textLength="31.8" lengthAdjust="spacingAndGlyphs">0</text>
<text x="2615.5" y="970.8" font-size="53" textLength="31.8" lengthAdjust="spacingAndGlyphs">1</text>
<text x="2615.5" y="916.7" font-size="53" textLength="31.8" lengthAdjust="spacingAndGlyphs">2</text>
<text x="2615.5" y="862.6" font-size="53" textLength="31.8" lengthAdjust="spacingAndGlyphs">3</text>
<text x="2615.5" y="808.5" font-size="53" textLength="31.8" lengthAdjust="spacingAndGlyphs">4</text>
<text x="2615.5" y="754.4" font-size="53" textLength="31.8" lengthAdjust="spacingAndGlyphs">5</text>
<path d="M2523.4 1006.0h12.8M2587.2 1006.0h-12.8M2523.4 951.9h12.8M2587.2 951.9h-12.8M2523.4 897.8h12.8M2587.2 897.8h-12.8M2523.4 843.7h12.8M2587.2 843.7h-12.8M2523.4 789.6h12.8M2587.2 789.6h-12.8M2523.4 735.5h12.8M2587.2 735.5h-12.8" stroke="#fff" stroke-width="2.2" fill="none"/>
</svg>
</body></html>
